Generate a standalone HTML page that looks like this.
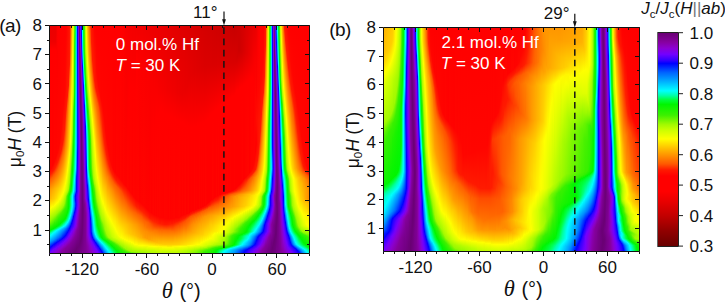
<!DOCTYPE html>
<html><head><meta charset="utf-8"><style>
html,body{margin:0;padding:0;background:#fff}
body{width:725px;height:304px;position:relative;overflow:hidden;font-family:"Liberation Sans",sans-serif}
.h{position:absolute;overflow:hidden}
.h i{position:absolute;top:0;width:1px;height:100%}
#cb{position:absolute;left:658px;top:33px;width:20px;height:213px;background:linear-gradient(#690073 0.00%,#8700a0 4.29%,#8c00d2 7.14%,#7300ff 10.00%,#3200ff 12.86%,#00f 14.29%,#0032ff 16.43%,#0064ff 18.57%,#0096ff 21.43%,#00beff 23.57%,#0ff 27.14%,#0fa 29.29%,#00ff3c 31.43%,#00f500 33.57%,#3cf000 38.57%,#a0fa00 42.86%,#cdff00 45.71%,#ff0 49.71%,#ffc800 53.57%,#ff9600 57.14%,#ff5a00 61.43%,#ff1900 64.29%,#f00 67.14%,#f00 74.29%,#eb0000 78.57%,#c30000 85.71%,#910000 92.86%,#690000 100.00%)}
</style></head><body>
<div class="h" style="left:49px;top:25px;width:261px;height:229px">
<i style="left:0px;background:linear-gradient(#eb0000 0.2%,#ef0000 7.2%,#f00 10.7%,#ff0400 64.0%,#ff1d00 65.7%,#ff5a00 67.9%,#ff9700 71.8%,#ffb200 75.8%,#fffd00 80.1%,#abfb00 84.5%,#97f900 85.8%,#4ef200 87.6%,#2bf100 88.4%,#03f500 89.7%,#00fb25 90.2%,#00ff9f 91.0%,#00ffc7 91.5%,#00fffd 92.4%,#00acff 94.5%,#0062ff 95.9%,#000dff 97.2%,#0b00ff 97.6%,#4200ff 98.5%,#7300fe 99.8%)"></i>
<i style="left:1px;background:linear-gradient(#eb0000 0.2%,#ef0000 7.2%,#f00 10.7%,#ff0200 63.1%,#ff1e00 65.3%,#ff5c00 67.5%,#ff9d00 71.8%,#ffb800 75.8%,#fbff00 80.1%,#abfb00 84.1%,#95f900 85.4%,#53f200 87.1%,#31f100 88.0%,#09f400 89.3%,#00f70f 89.7%,#00ff3f 90.2%,#0f8 90.6%,#00ffbd 91.0%,#00fffa 91.9%,#00b1ff 94.1%,#006bff 95.4%,#01f 96.7%,#0600ff 97.2%,#5300ff 98.5%,#7400fd 99.3%,#7800f6 99.8%)"></i>
<i style="left:2px;background:linear-gradient(#eb0000 0.2%,#ef0000 7.2%,#f00 10.7%,#ff0500 62.7%,#ff2000 64.8%,#ff5e00 67.0%,#ffa300 71.8%,#ffbd00 75.8%,#ff0 79.7%,#acfb00 83.6%,#93f900 84.9%,#29f200 88.0%,#02f500 89.3%,#00fc2a 89.7%,#00ffaf 90.6%,#00fff7 91.5%,#00e5ff 92.4%,#008cff 94.5%,#0200ff 96.7%,#4f00ff 98.0%,#7400fd 98.9%,#7c00ef 99.8%)"></i>
<i style="left:3px;background:linear-gradient(#eb0000 0.2%,#ef0000 7.2%,#f00 10.7%,#ff0200 61.4%,#ff1700 64.0%,#ff6000 66.6%,#ffa900 71.8%,#ffc900 76.2%,#fffd00 79.3%,#a6fb00 83.6%,#91f800 84.5%,#2df100 87.6%,#07f400 88.9%,#00f814 89.3%,#00ff4c 89.7%,#00ff9b 90.2%,#00ffcf 90.6%,#00fff4 91.0%,#00f5ff 91.5%,#0093ff 94.1%,#0060ff 95.0%,#0003ff 96.3%,#6000ff 98.0%,#7400fe 98.5%,#8000e7 99.8%)"></i>
<i style="left:4px;background:linear-gradient(#eb0000 0.2%,#ef0000 7.2%,#f00 10.7%,#ff0300 60.5%,#ff1900 63.5%,#ff5b00 65.7%,#ffaf00 71.8%,#ffc900 75.8%,#faff00 79.3%,#9ffa00 83.6%,#2ff100 87.1%,#00f500 88.9%,#00fd2f 89.3%,#00ff7e 89.7%,#00ffc1 90.2%,#0fe 90.6%,#00f6ff 91.0%,#0098ff 93.7%,#006aff 94.5%,#0008ff 95.9%,#2f00ff 96.7%,#7100ff 98.0%,#8500df 99.8%)"></i>
<i style="left:5px;background:linear-gradient(#eb0000 0.2%,#ef0000 7.2%,#f00 10.7%,#ff0500 59.6%,#ff2000 63.1%,#ff5e00 65.3%,#ffb200 71.4%,#ffcf00 75.8%,#fcff00 78.8%,#a0fa00 83.2%,#3af000 86.2%,#05f500 88.4%,#00f91a 88.9%,#00ff58 89.3%,#00ffae 89.7%,#00ffe5 90.2%,#00f8ff 90.6%,#08f 93.7%,#0054ff 94.5%,#0010ff 95.4%,#0e00ff 95.9%,#6a00ff 97.6%,#7d00ec 98.5%,#8900d7 99.8%)"></i>
<i style="left:6px;background:linear-gradient(#eb0000 0.2%,#ef0000 7.2%,#f00 10.7%,#ff0400 58.3%,#ff1f00 62.2%,#ff6100 64.8%,#ffb800 71.4%,#ffd700 75.8%,#feff00 78.4%,#a0fa00 82.8%,#55f300 84.9%,#1ff200 87.1%,#09f400 88.0%,#00f609 88.4%,#00fe36 88.9%,#00ff8a 89.3%,#00ffd4 89.7%,#00fbff 90.2%,#008cff 93.2%,#005fff 94.1%,#001aff 95.0%,#0700ff 95.4%,#4e00ff 96.7%,#7500fb 97.6%,#8b00d5 99.3%,#8c00cf 99.8%)"></i>
<i style="left:7px;background:linear-gradient(#f10000 0.2%,#f60000 7.6%,#f00 11.6%,#ff0400 57.0%,#ff1900 60.9%,#ff6500 64.4%,#ffbe00 71.4%,#ffd900 75.3%,#feff00 77.9%,#a1fa00 82.3%,#5ff300 84.1%,#2af100 86.2%,#01f500 88.0%,#00fb23 88.4%,#00ff62 88.9%,#00ffb8 89.3%,#00fffa 89.7%,#0bf 91.5%,#007cff 93.2%,#0048ff 94.1%,#0003ff 95.0%,#3700ff 95.9%,#7200ff 97.2%,#8c00d3 98.9%,#8b00c6 99.8%)"></i>
<i style="left:8px;background:linear-gradient(#fc0000 0.2%,#ff0500 55.7%,#ff1c00 60.0%,#ff6400 63.5%,#ffc400 71.4%,#ffe700 75.8%,#fdff00 77.5%,#a1fa00 81.9%,#5bf300 83.6%,#32f100 85.4%,#05f500 87.6%,#00f815 88.0%,#00ff3e 88.4%,#00ffe0 89.3%,#00f0ff 89.7%,#00acff 91.5%,#006bff 93.2%,#000fff 94.5%,#1400ff 95.0%,#30f 95.4%,#6b00ff 96.7%,#8c00d2 98.5%,#8a00bd 99.8%)"></i>
<i style="left:9px;background:linear-gradient(#f00 0.2%,#ff0500 53.9%,#ff1900 58.7%,#ff6000 62.2%,#ffca00 71.4%,#fff500 76.2%,#fcff00 77.1%,#a2fa00 81.4%,#58f300 83.2%,#37f000 84.5%,#07f400 87.1%,#00f70b 87.6%,#00fd2e 88.0%,#00ff6e 88.4%,#00ffbf 88.9%,#00fbff 89.3%,#00caff 90.2%,#006eff 92.8%,#003bff 93.7%,#0900ff 94.5%,#2c00ff 95.0%,#7600fa 96.7%,#8c00d2 98.0%,#8900b5 99.8%)"></i>
<i style="left:10px;background:linear-gradient(#f00 0.2%,#ff0500 51.7%,#ff1900 57.4%,#ff5f00 60.9%,#ffd600 71.8%,#fffc00 76.2%,#a2fa00 81.0%,#55f300 82.8%,#35f100 84.1%,#00f605 87.1%,#00fb25 87.6%,#00ff52 88.0%,#00ffe6 88.9%,#00e8ff 89.3%,#00baff 90.2%,#005cff 92.8%,#0004ff 94.1%,#3d00ff 95.0%,#7300ff 96.3%,#8b00d4 97.6%,#8900b1 99.3%,#8800ac 99.8%)"></i>
<i style="left:11px;background:linear-gradient(#f00 0.2%,#ff0500 48.7%,#ff1b00 56.1%,#ff5f00 59.6%,#ffe100 72.3%,#ff0 75.8%,#a1fa00 80.6%,#51f200 82.3%,#32f100 83.6%,#00f500 86.7%,#00ff40 87.6%,#00ffc6 88.4%,#00f8ff 88.9%,#0bf 89.7%,#005cff 92.4%,#000fff 93.7%,#1600ff 94.1%,#3800ff 94.5%,#6f00ff 95.9%,#8b00ca 97.6%,#8800a8 99.3%,#8700a3 99.8%)"></i>
<i style="left:12px;background:linear-gradient(#f00 0.2%,#ff0600 44.8%,#ff1900 54.4%,#ff6100 58.3%,#ffea00 72.3%,#fffe00 74.9%,#a0fa00 80.1%,#4df200 81.9%,#35f100 82.8%,#02f500 86.2%,#00ff3b 87.1%,#00ff6f 87.6%,#00ffeb 88.4%,#00e1ff 88.9%,#0af 89.7%,#0046ff 92.4%,#0017ff 93.2%,#0a00ff 93.7%,#3100ff 94.1%,#6c00ff 95.4%,#8c00cd 97.2%,#80a 98.5%,#85009d 99.8%)"></i>
<i style="left:13px;background:linear-gradient(#f00 0.2%,#ff0600 39.1%,#ff1900 52.2%,#ff6500 57.0%,#ffef00 71.8%,#fffe00 74.0%,#b9fd00 77.9%,#9af900 79.7%,#47f100 81.4%,#2cf100 82.8%,#03f500 85.8%,#00fe38 86.7%,#00ffd3 88.0%,#00f3ff 88.4%,#00aeff 89.3%,#0075ff 90.6%,#001aff 92.8%,#0001ff 93.2%,#2800ff 93.7%,#5800ff 94.5%,#7600f9 95.4%,#8c00d1 96.7%,#8700a0 98.5%,#820098 99.8%)"></i>
<i style="left:14px;background:linear-gradient(#f00 0.2%,#ff0500 34.3%,#ff1f00 50.0%,#f60 55.2%,#fff600 71.4%,#fdff00 73.1%,#b5fc00 77.1%,#a1fa00 78.8%,#3ff000 81.0%,#13f300 84.1%,#03f500 85.4%,#00f916 85.8%,#00fe37 86.2%,#00ff9c 87.1%,#00fff7 88.0%,#00b5ff 88.9%,#0072ff 90.2%,#0005ff 92.8%,#3f00ff 93.7%,#7600fa 95.0%,#8b00d4 96.3%,#87009f 98.0%,#800095 99.8%)"></i>
<i style="left:15px;background:linear-gradient(#f00 0.2%,#ff0600 30.8%,#ff1b00 45.6%,#ff8b00 57.0%,#fffa00 70.5%,#f6ff00 72.3%,#acfb00 76.2%,#99f900 77.9%,#38f000 80.6%,#0bf400 84.1%,#02f500 84.9%,#00fe38 85.8%,#00ff9e 86.7%,#00ffe9 87.6%,#00e7ff 88.0%,#009eff 88.9%,#005cff 90.2%,#0003ff 92.4%,#5200ff 93.7%,#7500fb 94.5%,#8b00c8 96.3%,#8700a0 97.6%,#7e0092 99.8%)"></i>
<i style="left:16px;background:linear-gradient(#f00 0.2%,#ff0800 28.2%,#ff1c00 40.0%,#ff6700 49.6%,#fffe00 69.2%,#daff00 72.7%,#7bf600 77.1%,#53f200 78.8%,#31f100 80.1%,#03f500 84.1%,#00f606 84.5%,#00ff3e 85.4%,#00ffa5 86.2%,#00ffeb 87.1%,#00f0ff 87.6%,#0085ff 88.9%,#0042ff 90.2%,#0200ff 91.9%,#5100ff 93.2%,#7500fb 94.1%,#8b00ca 95.9%,#820099 97.6%,#7c008f 99.8%)"></i>
<i style="left:17px;background:linear-gradient(#ff0200 0.2%,#ff1300 31.2%,#ff1c00 35.2%,#ff5100 39.5%,#ff9c00 53.9%,#fffe00 66.6%,#cf0 72.3%,#a1fa00 74.0%,#6ef500 74.9%,#4df200 76.6%,#01f500 83.2%,#00fd31 84.5%,#00ff53 84.9%,#00ffb0 85.8%,#00fff2 86.7%,#00ecff 87.1%,#006aff 88.9%,#0028ff 90.2%,#0008ff 91.0%,#0d00ff 91.5%,#5200ff 92.8%,#7500fb 93.7%,#8b00ca 95.4%,#83009a 97.2%,#7a008c 99.8%)"></i>
<i style="left:18px;background:linear-gradient(#ff0800 0.2%,#ff1800 30.8%,#ff2400 31.7%,#ff5e00 35.2%,#ff8300 42.6%,#ffae00 53.1%,#ff0 63.5%,#befd00 71.4%,#a9fb00 72.7%,#9cfa00 73.1%,#3ff000 74.5%,#2df100 75.8%,#16f300 79.7%,#01f500 81.9%,#00ff3b 83.6%,#0f7 84.5%,#00ffe0 85.8%,#00fffe 86.2%,#0049ff 88.9%,#000eff 90.2%,#0200ff 90.6%,#3400ff 91.5%,#7600f9 93.2%,#8b00c9 95.0%,#84009b 96.7%,#780089 99.8%)"></i>
<i style="left:19px;background:linear-gradient(#ff0e00 0.2%,#ff1900 26.4%,#ff5f00 30.3%,#ff8f00 36.5%,#ffc800 53.1%,#fdff00 60.0%,#a3fa00 71.4%,#87f700 72.3%,#35f100 73.6%,#12f400 74.9%,#01f500 80.1%,#00fa1e 81.4%,#00ff3b 82.3%,#00ffc0 84.5%,#00fff5 85.4%,#00ecff 85.8%,#0060ff 88.0%,#0026ff 88.9%,#0002ff 89.7%,#3e00ff 91.0%,#6f00ff 92.4%,#8b00d4 94.1%,#84009c 96.3%,#760087 99.3%,#760086 99.8%)"></i>
<i style="left:20px;background:linear-gradient(#ff1500 0.2%,#ff1a00 17.2%,#f60 24.2%,#ffa000 32.1%,#ffc500 44.3%,#ffe600 52.6%,#f9ff00 56.6%,#adfb00 66.6%,#9bfa00 68.8%,#1ff200 73.1%,#00f500 74.0%,#00f919 74.9%,#00fb21 79.3%,#00ff39 80.6%,#00ff93 82.3%,#00fffd 84.5%,#006aff 87.1%,#0015ff 88.4%,#0002ff 88.9%,#5a00ff 91.0%,#7500fc 91.9%,#8c00d1 93.7%,#84009c 95.9%,#750085 98.9%,#740084 99.8%)"></i>
<i style="left:21px;background:linear-gradient(#ff3f00 0.2%,#f60 12.4%,#ffa700 24.7%,#ffea00 43.0%,#fbff00 50.9%,#97f900 63.1%,#52f200 67.5%,#31f100 69.7%,#11f400 72.3%,#06f500 72.7%,#00fb23 73.6%,#00ff5e 74.9%,#00ff64 78.8%,#00ff85 80.1%,#00fcff 83.2%,#009aff 85.4%,#0012ff 87.6%,#0300ff 88.0%,#7400fe 91.0%,#8c00cd 93.2%,#83009a 95.4%,#730082 98.9%,#720081 99.8%)"></i>
<i style="left:22px;background:linear-gradient(#ff9600 0.2%,#ffb400 14.6%,#faff00 35.6%,#c8fe00 50.9%,#96f900 56.6%,#38f000 63.1%,#00f605 70.1%,#00fb25 72.3%,#00fe35 72.7%,#0f9 74.0%,#00ffb0 74.5%,#0fb 75.3%,#00ffbf 78.8%,#00ffe3 80.6%,#00feff 81.4%,#0084ff 84.5%,#0001ff 86.7%,#6200ff 89.7%,#7300ff 90.2%,#8c00d2 92.4%,#820098 95.0%,#71007f 98.9%,#70007e 99.8%)"></i>
<i style="left:23px;background:linear-gradient(#ffdb00 0.2%,#fbff00 17.7%,#d6ff00 32.1%,#98f900 46.9%,#49f100 53.9%,#1ff200 59.2%,#00f502 64.0%,#00ff4f 70.1%,#00ff78 71.8%,#0f8 72.3%,#00ffec 74.0%,#00fffc 74.5%,#00f8ff 76.6%,#00f2ff 79.3%,#00cdff 81.0%,#008cff 82.8%,#0048ff 84.1%,#0300ff 85.4%,#5b00ff 88.9%,#7700f7 89.7%,#8b00ca 91.9%,#810097 94.5%,#6f007b 98.9%,#6e007b 99.8%)"></i>
<i style="left:24px;background:linear-gradient(#d7ff00 0.2%,#a9fb00 29.0%,#9cfa00 31.2%,#4ff200 36.9%,#36f100 40.8%,#00f604 55.2%,#00ff3d 63.5%,#00ffab 68.3%,#00ffdf 71.8%,#00fffc 72.7%,#00b8ff 74.5%,#00adff 75.3%,#00bdff 78.4%,#00a6ff 80.1%,#007bff 81.4%,#0035ff 82.8%,#0100ff 83.6%,#3800ff 85.8%,#5800ff 88.0%,#7300fe 88.9%,#8c00d1 90.6%,#820099 93.7%,#6d0078 98.9%,#6c0078 99.8%)"></i>
<i style="left:25px;background:linear-gradient(#5ef300 0.2%,#38f000 8.5%,#1bf300 27.7%,#00f605 33.8%,#00fd31 47.4%,#00ff47 52.6%,#00ffa5 62.7%,#00ffe2 66.2%,#00fbff 67.9%,#00c7ff 72.3%,#0092ff 73.6%,#0056ff 74.9%,#005bff 75.8%,#007dff 77.9%,#0073ff 79.3%,#004bff 80.6%,#0005ff 81.9%,#3700ff 83.6%,#6f00ff 88.0%,#8c00ce 89.7%,#83009a 92.8%,#6a0075 98.9%,#6a0075 99.8%)"></i>
<i style="left:26px;background:linear-gradient(#00ff3d 0.2%,#0f6 9.4%,#00ff76 26.9%,#00ffae 38.6%,#00ffd5 54.8%,#00fdff 62.7%,#009dff 67.5%,#0078ff 72.3%,#006aff 72.7%,#000dff 74.0%,#0700ff 74.5%,#1000ff 75.3%,#0005ff 76.6%,#0025ff 77.9%,#0018ff 79.3%,#0300ff 80.1%,#4300ff 82.3%,#6700ff 84.5%,#7700f9 87.1%,#8600dc 88.4%,#8900af 90.2%,#800096 92.4%,#6a0074 98.5%,#6a0074 99.8%)"></i>
<i style="left:27px;background:linear-gradient(#00c4ff 0.2%,#00cdff 19.0%,#00ceff 31.7%,#00baff 53.5%,#0090ff 60.0%,#0065ff 63.5%,#0020ff 66.2%,#0010ff 67.9%,#0009ff 72.3%,#0400ff 72.7%,#30f 74.0%,#3f00ff 75.3%,#2b00ff 78.4%,#5200ff 81.0%,#7700f8 83.2%,#8a00d6 87.6%,#8700a1 89.7%,#6a0074 97.6%,#6c0077 99.8%)"></i>
<i style="left:28px;background:linear-gradient(#00f 0.2%,#0008ff 15.5%,#0018ff 28.2%,#001cff 42.1%,#0026ff 51.3%,#0008ff 55.7%,#0800ff 57.9%,#3b00ff 67.0%,#4100ff 72.7%,#6100ff 74.9%,#5e00ff 78.8%,#7400fd 80.6%,#8c00d1 84.1%,#8800af 88.0%,#820098 89.3%,#6b0075 97.2%,#6e007a 99.8%)"></i>
<i style="left:29px;background:linear-gradient(#7e00eb 0.2%,#7500fb 18.1%,#3f00ff 50.0%,#5800ff 59.2%,#6a00ff 69.2%,#6e00ff 72.7%,#7c00f0 74.0%,#8000e7 75.8%,#8100e5 79.3%,#8b00c6 81.9%,#810097 88.0%,#6b0077 96.7%,#70007e 99.8%)"></i>
<i style="left:30px;background:linear-gradient(#6e007a 0.2%,#6b0077 7.2%,#8700a1 29.5%,#8700db 40.8%,#7800f6 50.0%,#8c00d1 65.3%,#8b00cb 72.7%,#8900b2 74.9%,#8a00bc 78.8%,#830099 83.2%,#6b0075 95.9%,#720081 99.3%,#720081 99.8%)"></i>
<i style="left:31px;background:linear-gradient(#6a00ff 0.2%,#7500fb 3.3%,#8b00ca 9.0%,#820098 14.2%,#6a0075 29.9%,#83009a 52.2%,#7f0094 76.6%,#79008c 84.5%,#6a0075 94.5%,#750084 99.3%,#740084 99.8%)"></i>
<i style="left:32px;background:linear-gradient(#0020ff 0.2%,#0300ff 4.6%,#50f 14.2%,#7500fb 17.2%,#8b00ca 21.6%,#820099 27.7%,#690073 47.8%,#720080 65.7%,#740083 76.6%,#720080 84.9%,#6b0076 93.2%,#708 99.3%,#760087 99.8%)"></i>
<i style="left:33px;background:linear-gradient(#00ffec 0.2%,#00fcff 4.6%,#00bdff 10.7%,#0079ff 14.2%,#0037ff 16.4%,#0008ff 17.7%,#0c00ff 18.6%,#3e00ff 21.6%,#7500fb 27.3%,#8b00ca 33.4%,#83009b 41.3%,#6f007c 66.2%,#6b0076 76.2%,#6d0079 91.0%,#79008b 99.3%,#79008a 99.8%)"></i>
<i style="left:34px;background:linear-gradient(#00fa1c 0.2%,#00fe36 7.6%,#00ff50 10.3%,#00ff91 13.3%,#00fbff 17.7%,#0061ff 23.8%,#0009ff 26.4%,#0a00ff 27.3%,#3b00ff 30.8%,#7400fe 38.6%,#8b00ca 48.3%,#820099 62.2%,#708 76.2%,#6f007d 80.1%,#78008a 95.9%,#7b008d 99.8%)"></i>
<i style="left:35px;background:linear-gradient(#4cf200 0.2%,#1af300 13.3%,#00f502 17.2%,#00ff40 20.3%,#00ffb7 23.4%,#00fff9 25.5%,#00d5ff 27.7%,#006dff 32.1%,#0005ff 35.2%,#3b00ff 40.8%,#6b00ff 51.3%,#7900f5 57.9%,#8c00cf 65.3%,#8800a7 71.8%,#8700a1 75.8%,#7a008c 78.8%,#7a008c 86.7%,#7d0091 99.8%)"></i>
<i style="left:36px;background:linear-gradient(#c9ff00 0.2%,#a1fa00 11.6%,#35f100 19.4%,#00f605 26.0%,#00ff39 28.2%,#00ffb2 31.2%,#00fffc 34.3%,#007cff 40.4%,#000eff 43.9%,#00f 44.3%,#2f00ff 50.9%,#5700ff 64.0%,#7500fb 67.5%,#8600dd 71.8%,#8a00d6 75.8%,#8700a4 77.9%,#7f0094 83.2%,#7f0094 99.8%)"></i>
<i style="left:37px;background:linear-gradient(#fff300 0.2%,#f7ff00 6.3%,#c4fe00 16.4%,#98f900 21.2%,#37f000 26.9%,#00f603 32.1%,#00ff4d 35.2%,#00ffae 38.6%,#00feff 43.4%,#009aff 49.1%,#0054ff 55.7%,#000bff 61.8%,#0300ff 63.1%,#2b00ff 67.5%,#5f00ff 71.4%,#6b00ff 75.8%,#7400fe 76.2%,#8b00d3 77.9%,#8800ae 82.3%,#8800ae 85.8%,#8800ae 92.4%,#84009b 96.3%,#810097 99.8%)"></i>
<i style="left:38px;background:linear-gradient(#ffba00 0.2%,#ffda00 9.8%,#faff00 16.4%,#a8fb00 26.9%,#8cf800 28.6%,#37f000 32.5%,#00f500 37.8%,#00ff45 41.7%,#00ff9e 45.6%,#0fc 49.6%,#00fbff 61.4%,#00deff 63.1%,#006dff 67.0%,#003dff 68.8%,#000aff 70.1%,#1000ff 71.0%,#2d00ff 73.1%,#4300ff 76.2%,#7300fe 77.9%,#8b00d3 82.3%,#8c00d2 86.2%,#8c00ce 91.5%,#8800a6 96.3%,#84009c 99.8%)"></i>
<i style="left:39px;background:linear-gradient(#ff8f00 0.2%,#ffb500 12.0%,#ffe500 19.4%,#faff00 23.4%,#b7fd00 30.8%,#95f900 33.4%,#3af000 37.8%,#00f603 43.9%,#00fe38 48.7%,#00ff60 54.4%,#00ff85 61.4%,#00ff9d 63.1%,#00ffe1 65.3%,#00fbff 66.2%,#0060ff 71.8%,#001aff 75.3%,#0200ff 76.2%,#7200ff 81.0%,#7c00ef 84.5%,#7d00ed 91.0%,#8b00d4 93.7%,#8900b5 96.3%,#8700a2 99.8%)"></i>
<i style="left:40px;background:linear-gradient(#ff6a00 0.2%,#ff9400 13.3%,#ffde00 24.7%,#fcff00 28.6%,#98f900 38.6%,#3af000 43.4%,#0bf400 50.0%,#00f608 58.7%,#00fa1f 63.1%,#00ff43 64.8%,#0fb 67.5%,#00fff7 69.2%,#00efff 70.1%,#00c3ff 72.3%,#09f 75.8%,#0058ff 77.9%,#0006ff 80.1%,#3800ff 82.3%,#5100ff 84.5%,#5f00ff 90.6%,#7700f8 92.8%,#8b00cc 95.4%,#8800ac 99.8%)"></i>
<i style="left:41px;background:linear-gradient(#ff3800 0.2%,#ff8e00 18.6%,#ffda00 29.0%,#faff00 33.0%,#9cfa00 43.9%,#4ef200 48.7%,#37f000 51.7%,#16f300 63.5%,#00f501 65.7%,#00ff49 68.3%,#00ffac 70.5%,#00ffd6 72.3%,#00feff 75.8%,#008dff 80.1%,#0006ff 84.5%,#1c00ff 86.2%,#30f 90.6%,#6700ff 93.2%,#7900f4 94.1%,#8c00d2 96.3%,#8900b5 99.8%)"></i>
<i style="left:42px;background:linear-gradient(#ff1600 0.2%,#ff1e00 7.6%,#ffc600 30.8%,#fdff00 36.9%,#6ff500 57.0%,#44f100 63.1%,#00f604 69.2%,#00ff74 73.6%,#00ffdf 78.4%,#00f9ff 79.7%,#008eff 83.6%,#003eff 87.1%,#0024ff 90.2%,#0007ff 91.0%,#2a00ff 92.4%,#7500fc 94.5%,#8a00d6 97.2%,#8a00bf 99.8%)"></i>
<i style="left:43px;background:linear-gradient(#ff0f00 0.2%,#ff1d00 15.1%,#f60 22.5%,#fcff00 41.7%,#bafd00 53.1%,#9bf900 62.2%,#6ef500 65.3%,#37f000 67.9%,#01f500 72.3%,#00ff3e 76.6%,#00ff86 78.8%,#00ffd7 81.0%,#00fffe 82.3%,#00b5ff 85.8%,#007cff 90.2%,#0061ff 91.0%,#0400ff 92.8%,#4700ff 94.1%,#6c00ff 95.0%,#8100e6 96.7%,#8b00c8 99.8%)"></i>
<i style="left:44px;background:linear-gradient(#ff0800 0.2%,#ff1e00 20.3%,#ff6500 26.4%,#ffc500 37.8%,#fdff00 46.5%,#d1ff00 55.7%,#a7fb00 65.7%,#98f900 67.0%,#3bf000 70.1%,#18f300 73.6%,#00f501 77.1%,#00ff39 79.7%,#00ffb1 82.3%,#0fe 84.9%,#00fbff 86.2%,#00bdff 90.2%,#0091ff 91.5%,#0065ff 92.4%,#0400ff 93.7%,#3c00ff 94.5%,#7000ff 95.9%,#8c00d2 99.8%)"></i>
<i style="left:45px;background:linear-gradient(#ff0100 0.2%,#ff1c00 24.2%,#ff6900 29.5%,#ffb400 39.1%,#fdff00 51.7%,#c1fe00 65.7%,#a0fa00 69.2%,#57f300 71.4%,#3af000 73.1%,#02f500 79.7%,#00ff3b 81.9%,#00ff8e 84.1%,#00fffa 89.7%,#00ecff 90.6%,#0089ff 92.8%,#006aff 93.2%,#0012ff 94.1%,#1200ff 94.5%,#3100ff 95.0%,#7300fe 96.7%,#8700db 99.8%)"></i>
<i style="left:46px;background:linear-gradient(#f00 0.2%,#ff1300 23.8%,#ff1c00 27.3%,#ff6000 30.8%,#ff9000 36.9%,#fffe00 57.0%,#caff00 67.9%,#96f900 71.4%,#6cf500 74.0%,#34f100 77.5%,#00f503 81.9%,#00fe35 84.1%,#00ff7e 87.6%,#00ffc4 89.7%,#0ff 91.5%,#00bcff 92.8%,#007cff 93.7%,#0400ff 95.0%,#3900ff 95.9%,#7500fc 97.6%,#8200e3 99.8%)"></i>
<i style="left:47px;background:linear-gradient(#f00 0.2%,#ff0700 20.3%,#ff1900 29.0%,#ff5d00 32.5%,#ff8900 39.1%,#fcff00 63.1%,#ceff00 69.7%,#a8fb00 73.1%,#95f900 75.3%,#36f100 79.7%,#00f502 84.1%,#00fd2d 87.6%,#00ff4a 88.4%,#00ffdf 91.9%,#00fff7 92.4%,#00edff 92.8%,#0061ff 94.5%,#000cff 95.4%,#1200ff 95.9%,#4100ff 96.7%,#7100ff 98.0%,#7e00ec 99.8%)"></i>
<i style="left:48px;background:linear-gradient(#f00 0.2%,#ff0600 23.8%,#ff1a00 30.8%,#ff5b00 34.3%,#ff8d00 43.9%,#fcff00 66.6%,#a1fa00 77.1%,#38f000 81.4%,#0df400 85.4%,#02f500 87.6%,#00fb25 88.9%,#00ff53 90.2%,#00ff90 91.5%,#00ffde 92.8%,#00fbff 93.2%,#001eff 95.9%,#0500ff 96.3%,#3800ff 97.2%,#7300fe 98.9%,#7900f4 99.8%)"></i>
<i style="left:49px;background:linear-gradient(#f00 0.2%,#ff0500 26.9%,#ff1d00 32.5%,#ff5400 36.0%,#ffe500 64.4%,#fcff00 69.2%,#a8fb00 78.4%,#93f900 79.7%,#39f000 83.2%,#02f500 88.9%,#00fe39 91.0%,#0f6 91.9%,#00ffd0 93.2%,#00fffc 93.7%,#0009ff 96.7%,#2f00ff 97.6%,#7400fd 99.8%)"></i>
<i style="left:50px;background:linear-gradient(#f00 0.2%,#ff0500 29.0%,#ff1e00 34.3%,#ff4c00 38.2%,#ffda00 65.3%,#fbff00 71.4%,#b6fc00 78.8%,#98f900 81.4%,#3bf000 84.9%,#01f500 90.2%,#00fd2e 91.9%,#00ff40 92.4%,#00ff65 92.8%,#00fffa 94.1%,#007fff 95.9%,#0016ff 97.2%,#0a00ff 97.6%,#3800ff 98.5%,#6000ff 99.8%)"></i>
<i style="left:51px;background:linear-gradient(#f00 0.2%,#ff0500 31.2%,#ff2000 36.5%,#ff5d00 45.2%,#ffd700 67.0%,#fcff00 73.6%,#a1fa00 82.8%,#40f000 86.2%,#02f500 91.5%,#00f918 92.4%,#00fd2d 92.8%,#00ff58 93.2%,#00ffcd 94.1%,#00fffb 94.5%,#0047ff 97.2%,#0002ff 98.0%,#3b00ff 99.3%,#4800ff 99.8%)"></i>
<i style="left:52px;background:linear-gradient(#f00 0.2%,#ff0400 33.0%,#ff2500 40.4%,#fd0 69.7%,#faff00 75.8%,#9dfa00 84.5%,#58f300 86.7%,#24f200 90.2%,#06f500 92.4%,#00f608 92.8%,#00fc27 93.2%,#00ff59 93.7%,#00ff9d 94.1%,#00fffb 95.0%,#0054ff 97.6%,#0013ff 98.5%,#0700ff 98.9%,#2f00ff 99.8%)"></i>
<i style="left:53px;background:linear-gradient(#f00 0.2%,#ff0500 35.2%,#ff2300 44.8%,#ff7400 56.1%,#fcff00 77.1%,#a2fa00 85.4%,#6ff500 87.1%,#30f100 90.6%,#0df400 92.8%,#00f603 93.2%,#00fc2a 93.7%,#00ff63 94.1%,#00ffa5 94.5%,#00fffa 95.4%,#000cff 99.3%,#0900ff 99.8%)"></i>
<i style="left:54px;background:linear-gradient(#f00 0.2%,#ff0400 37.8%,#ff2000 48.7%,#ff6900 57.0%,#fffd00 77.9%,#a3fa00 86.2%,#47f100 90.6%,#1cf300 92.8%,#00f608 93.7%,#00fd31 94.1%,#00ffac 95.0%,#00fff5 95.9%,#00d0ff 96.7%,#0023ff 99.8%)"></i>
<i style="left:55px;background:linear-gradient(#f00 0.2%,#ff0500 41.7%,#ff1f00 51.7%,#ff6800 59.2%,#ffc800 71.4%,#faff00 79.7%,#90f800 88.9%,#51f200 91.5%,#1df300 93.2%,#0bf400 93.7%,#00f811 94.1%,#00ff3a 94.5%,#00ffae 95.4%,#00fff1 96.3%,#00f0ff 96.7%,#007cff 98.9%,#0053ff 99.8%)"></i>
<i style="left:56px;background:linear-gradient(#f00 0.2%,#ff0500 46.1%,#ff1e00 54.4%,#f60 60.9%,#ffba00 70.5%,#fdff00 80.6%,#aafb00 88.0%,#a0fa00 89.7%,#63f400 91.9%,#06f400 94.1%,#00fa1c 94.5%,#00ff46 95.0%,#00ff7f 95.4%,#00ffad 95.9%,#0fe 96.7%,#00f4ff 97.2%,#009eff 98.9%,#007bff 99.8%)"></i>
<i style="left:57px;background:linear-gradient(#f00 0.2%,#ff0500 49.6%,#ff1c00 56.6%,#f60 62.7%,#fa0 69.7%,#ffe300 77.9%,#f9ff00 81.9%,#b2fc00 88.4%,#a0fa00 91.0%,#71f500 92.4%,#29f200 93.7%,#01f500 94.5%,#00ff4e 95.4%,#00ffab 96.3%,#00ffea 97.2%,#00f9ff 97.6%,#00acff 99.3%,#009dff 99.8%)"></i>
<i style="left:58px;background:linear-gradient(#f00 0.2%,#ff0400 52.2%,#ff1e00 58.7%,#ff8500 66.6%,#fb0 73.6%,#faff00 82.8%,#bafd00 88.9%,#a1fa00 91.9%,#7bf600 92.8%,#37f000 93.7%,#0ef400 94.5%,#00f709 95.0%,#00ff50 95.9%,#0fa 96.7%,#0ff 98.0%,#0bf 99.8%)"></i>
<i style="left:59px;background:linear-gradient(#f00 0.2%,#ff0400 54.8%,#ff1e00 60.5%,#ff7400 66.2%,#ffac00 72.3%,#ffe500 80.1%,#faff00 83.6%,#c7fe00 88.4%,#a5fb00 92.4%,#9af900 92.8%,#30f100 94.1%,#08f400 95.0%,#00f810 95.4%,#00ff51 96.3%,#00ffa8 97.2%,#00fff5 98.5%,#00e7ff 99.3%,#00d9ff 99.8%)"></i>
<i style="left:60px;background:linear-gradient(#f00 0.2%,#ff0400 57.0%,#ff1a00 61.8%,#ff6700 66.2%,#ffa100 71.8%,#ffe500 81.0%,#faff00 84.5%,#d1ff00 88.4%,#a7fb00 92.8%,#96f900 93.2%,#40f000 94.1%,#05f500 95.4%,#00fd2f 96.3%,#00ffa5 97.6%,#00ffea 98.9%,#00fffa 99.3%,#00f6ff 99.8%)"></i>
<i style="left:61px;background:linear-gradient(#f00 0.2%,#ff0500 59.2%,#ff1900 63.1%,#ff6100 66.6%,#ff9800 71.8%,#ffe500 81.9%,#ff0 84.9%,#d7ff00 88.9%,#affc00 92.8%,#a5fb00 93.2%,#88f800 93.7%,#36f100 94.5%,#03f500 95.9%,#00fd30 96.7%,#00ff9f 98.0%,#0fc 98.9%,#00ffeb 99.8%)"></i>
<i style="left:62px;background:linear-gradient(#f00 0.2%,#ff0500 60.9%,#ff1f00 64.4%,#ff6100 67.5%,#ff9100 71.8%,#ffea00 83.2%,#fdff00 85.8%,#bffd00 92.4%,#a1fa00 93.7%,#49f100 94.5%,#1cf300 95.4%,#01f500 96.3%,#00fd31 97.2%,#00ff96 98.5%,#00ffc0 99.3%,#00ffce 99.8%)"></i>
<i style="left:63px;background:linear-gradient(#f00 0.2%,#ff0400 62.2%,#ff1e00 65.3%,#ff6200 68.3%,#ff8d00 72.3%,#ffeb00 84.1%,#fbff00 86.7%,#c8fe00 92.4%,#a9fb00 93.7%,#91f900 94.1%,#3af000 95.0%,#00f501 96.7%,#00ff4e 98.0%,#00ffa0 99.3%,#00ffb2 99.8%)"></i>
<i style="left:64px;background:linear-gradient(#f00 0.2%,#ff0200 63.1%,#ff2000 66.2%,#ff5e00 68.8%,#ff8900 72.7%,#ffe800 84.5%,#faff00 87.6%,#c9ff00 92.8%,#a4fa00 94.1%,#51f200 95.0%,#34f100 95.4%,#00f603 97.2%,#00ff8f 99.8%)"></i>
<i style="left:65px;background:linear-gradient(#f00 0.2%,#ff0300 64.0%,#ff1900 66.6%,#ff6200 69.7%,#ff8b00 74.0%,#ffeb00 85.4%,#fbff00 88.4%,#d1ff00 92.8%,#abfb00 94.1%,#96f900 94.5%,#44f100 95.4%,#09f400 97.2%,#00f604 97.6%,#00ff6a 99.8%)"></i>
<i style="left:66px;background:linear-gradient(#f00 0.2%,#ff0100 64.4%,#ff1c00 67.5%,#ff6000 70.1%,#ff8a00 74.9%,#ffea00 85.8%,#fcff00 89.3%,#d8ff00 92.8%,#a5fb00 94.5%,#3cf000 95.9%,#00f604 98.0%,#00ff45 99.8%)"></i>
<i style="left:67px;background:linear-gradient(#f00 0.2%,#ff0400 65.3%,#ff1800 67.9%,#ff5d00 70.5%,#ffdf00 85.4%,#fcff00 90.2%,#d5ff00 93.2%,#9af900 95.0%,#51f200 95.9%,#39f000 96.3%,#00f502 98.5%,#00fc2d 99.8%)"></i>
<i style="left:68px;background:linear-gradient(#f00 0.2%,#ff0300 65.7%,#ff2000 68.8%,#ff5b00 71.0%,#ffde00 85.8%,#fbff00 91.0%,#dcff00 93.2%,#a6fb00 95.0%,#4bf200 96.3%,#29f200 97.2%,#01f500 98.9%,#00f918 99.8%)"></i>
<i style="left:69px;background:linear-gradient(#f00 0.2%,#ff0300 66.2%,#ff1f00 69.2%,#ff5900 71.4%,#ffec00 88.4%,#f9ff00 91.9%,#d7ff00 93.7%,#a0fa00 95.4%,#46f100 96.7%,#11f400 98.5%,#00f604 99.8%)"></i>
<i style="left:70px;background:linear-gradient(#f00 0.2%,#ff0200 66.6%,#ff1e00 69.7%,#f50 71.8%,#ffe700 88.4%,#faff00 92.4%,#d1ff00 94.1%,#94f900 95.9%,#41f100 97.2%,#11f400 98.9%,#03f500 99.8%)"></i>
<i style="left:71px;background:linear-gradient(#f00 0.2%,#ff0500 67.5%,#ff1d00 70.1%,#ff5100 72.3%,#ffe100 88.4%,#faff00 92.8%,#a3fa00 95.9%,#3cf000 97.6%,#08f400 99.8%)"></i>
<i style="left:72px;background:linear-gradient(#f00 0.2%,#ff0300 67.9%,#ff1d00 70.5%,#ff4d00 72.7%,#ffd900 88.0%,#fffe00 92.8%,#a0fa00 96.3%,#39f000 98.0%,#0cf400 99.8%)"></i>
<i style="left:73px;background:linear-gradient(#fe0000 0.2%,#ff0200 68.3%,#ff1d00 71.0%,#ff4f00 73.6%,#ffd100 87.6%,#fdff00 93.2%,#9bf900 96.7%,#49f100 98.0%,#1bf300 99.3%,#10f400 99.8%)"></i>
<i style="left:74px;background:linear-gradient(#fd0000 0.2%,#ff0400 69.2%,#ff1c00 71.4%,#ff5700 74.9%,#ffca00 87.1%,#fe0 91.9%,#fffd00 93.2%,#94f900 97.2%,#41f000 98.5%,#14f300 99.8%)"></i>
<i style="left:75px;background:linear-gradient(#fc0000 0.2%,#ff0300 69.7%,#ff2300 72.3%,#ff6200 76.6%,#ffc600 87.1%,#ffe500 91.5%,#fdff00 93.7%,#aafb00 96.7%,#a2fa00 97.2%,#38f000 98.9%,#19f300 99.8%)"></i>
<i style="left:76px;background:linear-gradient(#fa0000 0.2%,#ff0200 70.1%,#ff2800 73.1%,#ff6400 77.5%,#ffc300 87.1%,#ffdb00 91.0%,#fffc00 93.7%,#a7fb00 97.2%,#a0fa00 97.6%,#44f100 98.9%,#1df300 99.8%)"></i>
<i style="left:77px;background:linear-gradient(#f90000 0.2%,#ff0200 70.5%,#ff2b00 74.0%,#ff6200 77.9%,#ffbf00 87.1%,#ffd700 91.0%,#fcff00 94.1%,#95f900 98.0%,#33f100 99.3%,#21f200 99.8%)"></i>
<i style="left:78px;background:linear-gradient(#f80000 0.2%,#f00 41.7%,#ff0500 71.4%,#ff2800 74.5%,#ff6400 78.8%,#fb0 87.1%,#ffd200 91.0%,#fffd00 94.1%,#a7fb00 97.6%,#a1fa00 98.0%,#63f400 98.9%,#39f000 99.3%,#26f200 99.8%)"></i>
<i style="left:79px;background:linear-gradient(#f70000 0.2%,#f00 31.7%,#ff0400 71.8%,#ff2c00 75.3%,#ff6d00 80.1%,#ffb700 87.1%,#ffcd00 91.0%,#faff00 94.5%,#98f900 98.5%,#73f500 98.9%,#42f100 99.3%,#2af200 99.8%)"></i>
<i style="left:80px;background:linear-gradient(#f60000 0.2%,#f00 28.2%,#ff0200 72.3%,#ff2900 75.8%,#ff7800 81.4%,#ffb300 87.1%,#ffc900 91.0%,#fffe00 94.5%,#a6fb00 98.0%,#a1fa00 98.5%,#82f700 98.9%,#4ef200 99.3%,#2ef100 99.8%)"></i>
<i style="left:81px;background:linear-gradient(#f50000 0.2%,#f00 26.9%,#ff0500 73.1%,#ff2600 76.2%,#ff7800 81.9%,#ffb000 87.1%,#ffcb00 91.5%,#fffb00 94.5%,#cbff00 96.7%,#a9fb00 98.0%,#a3fa00 98.5%,#91f900 98.9%,#5af300 99.3%,#32f100 99.8%)"></i>
<i style="left:82px;background:linear-gradient(#f50000 0.2%,#f00 27.7%,#ff0400 73.6%,#ff2a00 77.1%,#ff7300 81.9%,#ffac00 87.1%,#ffc700 91.5%,#ff0 95.0%,#abfb00 98.0%,#9dfa00 98.9%,#37f000 99.8%)"></i>
<i style="left:83px;background:linear-gradient(#f40000 0.2%,#f00 27.7%,#ff0200 74.0%,#ff2700 77.5%,#ff6e00 81.9%,#ffa800 87.1%,#ffc300 91.5%,#fffc00 95.0%,#d5ff00 96.7%,#a6fb00 98.5%,#a0fa00 98.9%,#3bf000 99.8%)"></i>
<i style="left:84px;background:linear-gradient(#f40000 0.2%,#f00 27.7%,#ff0500 74.9%,#ff2b00 78.4%,#ff6900 81.9%,#ffa400 87.1%,#ffc000 91.5%,#feff00 95.4%,#a8fb00 98.5%,#a1fa00 98.9%,#7df700 99.3%,#42f100 99.8%)"></i>
<i style="left:85px;background:linear-gradient(#f40000 0.2%,#f00 28.6%,#ff0400 75.3%,#ff2900 78.8%,#ff6500 81.9%,#ffa000 87.1%,#ffc200 91.9%,#faff00 95.9%,#aafb00 98.5%,#a2fa00 98.9%,#88f800 99.3%,#4af100 99.8%)"></i>
<i style="left:86px;background:linear-gradient(#f30000 0.2%,#f00 28.6%,#ff0300 75.8%,#ff1f00 78.8%,#ff6000 81.9%,#ff9d00 87.1%,#ffbd00 91.9%,#feff00 95.9%,#abfb00 98.5%,#a4fa00 98.9%,#8bf800 99.3%,#53f200 99.8%)"></i>
<i style="left:87px;background:linear-gradient(#f30000 0.2%,#f00 16.8%,#ff0400 76.2%,#ff1e00 79.3%,#ff6100 82.3%,#f90 87.1%,#ffb900 91.9%,#fffe00 95.9%,#d7ff00 97.2%,#adfb00 98.5%,#a5fb00 98.9%,#8ef800 99.3%,#5bf300 99.8%)"></i>
<i style="left:88px;background:linear-gradient(#f20000 0.2%,#fe0000 16.8%,#ff0400 76.6%,#ff2000 79.7%,#ff6200 82.8%,#ff9500 87.1%,#ffba00 92.4%,#fffb00 95.9%,#ebff00 96.7%,#affc00 98.5%,#a6fb00 98.9%,#91f900 99.3%,#63f400 99.8%)"></i>
<i style="left:89px;background:linear-gradient(#f20000 0.2%,#fd0000 17.2%,#ff0500 77.1%,#f20 80.1%,#ff5e00 82.8%,#ff9000 87.1%,#ffb600 92.4%,#faff00 96.3%,#b1fc00 98.5%,#a8fb00 98.9%,#94f900 99.3%,#6af500 99.8%)"></i>
<i style="left:90px;background:linear-gradient(#f20000 0.2%,#fd0000 17.7%,#ff0100 77.1%,#ff1a00 80.1%,#ff5e00 83.2%,#ff8b00 87.1%,#ffb700 92.8%,#fcff00 96.3%,#97f900 99.3%,#70f500 99.8%)"></i>
<i style="left:91px;background:linear-gradient(#f10000 0.2%,#fd0000 18.1%,#ff0200 77.5%,#ff1c00 80.6%,#ff5a00 83.2%,#ff8600 87.1%,#ff9f00 90.6%,#ffb200 92.8%,#fdff00 96.3%,#9bf900 99.3%,#75f600 99.8%)"></i>
<i style="left:92px;background:linear-gradient(#f10000 0.2%,#fc0000 18.1%,#ff0300 77.9%,#ff1e00 81.0%,#ff5b00 83.6%,#ff8200 87.1%,#ff9000 88.9%,#ff9e00 91.0%,#ffb600 93.2%,#feff00 96.3%,#9efa00 99.3%,#7bf600 99.8%)"></i>
<i style="left:93px;background:linear-gradient(#f10000 0.2%,#fc0000 18.6%,#ff0300 78.4%,#ff2000 81.4%,#ff5a00 84.1%,#ff7d00 87.1%,#ff8c00 88.9%,#ff9800 90.6%,#ffa800 92.8%,#ff0 96.3%,#a0fa00 99.3%,#80f700 99.8%)"></i>
<i style="left:94px;background:linear-gradient(#f00000 0.2%,#fc0000 19.0%,#ff0400 78.8%,#ff2100 81.9%,#ff5e00 84.9%,#ff7800 87.1%,#f80 88.9%,#ff9500 90.6%,#ffa300 92.8%,#fffd00 96.3%,#a2fa00 99.3%,#86f700 99.8%)"></i>
<i style="left:95px;background:linear-gradient(#f00000 0.2%,#fc0000 19.4%,#ff0400 79.3%,#f20 82.3%,#ff6000 85.4%,#ff7400 87.6%,#ff9200 90.2%,#ff9e00 92.8%,#fffc00 96.3%,#a4fa00 99.3%,#8bf800 99.8%)"></i>
<i style="left:96px;background:linear-gradient(#f00000 0.2%,#fb0000 19.9%,#ff0300 79.7%,#f20 82.8%,#ff6200 85.8%,#ff8000 88.9%,#ff9100 90.6%,#f90 92.8%,#fffa00 96.3%,#a6fb00 99.3%,#91f800 99.8%)"></i>
<i style="left:97px;background:linear-gradient(#ef0000 0.2%,#fb0000 20.3%,#ff0200 80.1%,#f20 83.2%,#ff6300 86.2%,#ff7400 88.4%,#ff8d00 90.2%,#ff9e00 93.2%,#fff800 96.3%,#d8ff00 97.6%,#96f900 99.8%)"></i>
<i style="left:98px;background:linear-gradient(#ef0000 0.2%,#fb0000 20.7%,#ff0200 80.6%,#f20 83.6%,#ff5e00 86.2%,#ff7000 88.4%,#ff8b00 90.2%,#ff9a00 93.2%,#fff700 96.3%,#e8ff00 97.2%,#9cfa00 99.8%)"></i>
<i style="left:99px;background:linear-gradient(#ef0000 0.2%,#fb0000 21.2%,#ff0200 81.0%,#f20 84.1%,#ff5900 86.2%,#ff6d00 88.4%,#ff8b00 90.6%,#ffa200 93.7%,#fff500 96.3%,#f8ff00 96.7%,#b5fc00 98.9%,#a1fa00 99.8%)"></i>
<i style="left:100px;background:linear-gradient(#e00 0.2%,#fa0000 21.2%,#f00 68.8%,#ff0300 81.4%,#ff1900 84.1%,#ff5900 86.7%,#ff6900 88.4%,#ff8900 90.6%,#ffa100 93.7%,#fff300 96.3%,#f9ff00 96.7%,#b6fc00 98.9%,#a4fa00 99.8%)"></i>
<i style="left:101px;background:linear-gradient(#e00 0.2%,#f90000 21.6%,#f00 54.4%,#ff0400 81.9%,#ff1a00 84.5%,#ff5100 86.7%,#ff6f00 88.9%,#ff8b00 91.0%,#ffa100 93.7%,#faff00 96.7%,#b7fd00 98.9%,#a6fb00 99.8%)"></i>
<i style="left:102px;background:linear-gradient(#e00 0.2%,#f90000 22.1%,#f00 48.7%,#ff0100 81.9%,#ff1e00 84.9%,#ff4f00 87.1%,#ff8600 90.6%,#ffa900 94.1%,#fbff00 96.7%,#c1fe00 98.5%,#a9fb00 99.8%)"></i>
<i style="left:103px;background:linear-gradient(#ed0000 0.2%,#f90000 22.5%,#f00 45.2%,#ff0300 82.3%,#ff2100 85.4%,#ff4800 87.1%,#ff8400 90.6%,#ffa900 94.1%,#fe0 96.3%,#fcff00 96.7%,#c2fe00 98.5%,#abfb00 99.8%)"></i>
<i style="left:104px;background:linear-gradient(#ed0000 0.2%,#f80000 22.9%,#f00 41.7%,#ff0500 82.8%,#ff2500 85.8%,#ff7e00 90.2%,#ffb200 94.5%,#ffec00 96.3%,#feff00 96.7%,#c3fe00 98.5%,#aefc00 99.8%)"></i>
<i style="left:105px;background:linear-gradient(#ed0000 0.2%,#f90000 23.8%,#f00 45.2%,#ff0200 82.8%,#ff2000 85.8%,#ff4c00 88.0%,#ff7500 89.7%,#ffb200 94.5%,#ffea00 96.3%,#ff0 96.7%,#c4fe00 98.5%,#b0fc00 99.8%)"></i>
<i style="left:106px;background:linear-gradient(#ec0000 0.2%,#f80000 24.2%,#f00 41.3%,#ff0500 83.2%,#ff2400 86.2%,#ff4900 88.0%,#ff7300 89.7%,#ffb200 94.5%,#ffd600 95.9%,#fffd00 96.7%,#befd00 98.9%,#b3fc00 99.8%)"></i>
<i style="left:107px;background:linear-gradient(#ec0000 0.2%,#f80000 24.7%,#f00 39.1%,#ff0200 83.2%,#ff1f00 86.2%,#ff4600 88.0%,#ff7100 89.7%,#ffbc00 95.0%,#ffe700 96.3%,#fffc00 96.7%,#c0fe00 98.9%,#b6fc00 99.8%)"></i>
<i style="left:108px;background:linear-gradient(#ec0000 0.2%,#f80000 25.5%,#f00 39.5%,#ff0500 83.6%,#ff2400 86.7%,#ff6f00 89.7%,#fb0 95.0%,#ffe500 96.3%,#fffa00 96.7%,#c2fe00 98.9%,#b7fd00 99.8%)"></i>
<i style="left:109px;background:linear-gradient(#eb0000 0.2%,#f70000 26.4%,#f00 39.1%,#ff0300 83.6%,#ff2000 86.7%,#ff6500 89.3%,#ffc500 95.4%,#fff800 96.7%,#cdff00 98.5%,#b7fd00 99.8%)"></i>
<i style="left:110px;background:linear-gradient(#eb0000 0.2%,#f70000 26.9%,#f00 38.2%,#ff0500 84.1%,#ff1c00 86.7%,#ff6200 89.3%,#ffc400 95.4%,#ffe200 96.3%,#fff700 96.7%,#e7ff00 97.6%,#bdfd00 99.3%,#b7fd00 99.8%)"></i>
<i style="left:111px;background:linear-gradient(#eb0000 0.2%,#f60000 27.3%,#f00 37.3%,#ff0400 84.1%,#ff1900 86.7%,#ff6a00 89.7%,#ffc300 95.4%,#ffe100 96.3%,#fff600 96.7%,#e7ff00 97.6%,#b8fd00 99.8%)"></i>
<i style="left:112px;background:linear-gradient(#ea0000 0.2%,#f60000 27.7%,#f00 37.3%,#ff0300 84.1%,#ff2000 87.1%,#ff6100 89.3%,#ffc300 95.4%,#ffe000 96.3%,#fff500 96.7%,#e8ff00 97.6%,#b8fd00 99.8%)"></i>
<i style="left:113px;background:linear-gradient(#ea0000 0.2%,#f50000 27.7%,#f00 37.8%,#ff0300 84.1%,#ff1d00 87.1%,#ff6000 89.3%,#ffcd00 95.9%,#fff500 96.7%,#f7ff00 97.2%,#c7fe00 98.9%,#b8fd00 99.8%)"></i>
<i style="left:114px;background:linear-gradient(#e90000 0.2%,#f50000 27.7%,#f00 38.2%,#ff0200 84.1%,#ff1a00 87.1%,#ff6800 89.7%,#ffcd00 95.9%,#fff400 96.7%,#f7ff00 97.2%,#c7fe00 98.9%,#b8fd00 99.8%)"></i>
<i style="left:115px;background:linear-gradient(#e90000 0.2%,#f40000 27.7%,#f00 38.6%,#ff0500 84.5%,#ff1800 87.1%,#ff6800 89.7%,#fc0 95.9%,#fff400 96.7%,#f7ff00 97.2%,#c7fe00 98.9%,#b8fd00 99.8%)"></i>
<i style="left:116px;background:linear-gradient(#e80000 0.2%,#f40000 28.2%,#f00 39.1%,#ff0400 84.5%,#ff1700 87.1%,#ff6700 89.7%,#fc0 95.9%,#fff300 96.7%,#f7ff00 97.2%,#c7fe00 98.9%,#b8fd00 99.8%)"></i>
<i style="left:117px;background:linear-gradient(#e80000 0.2%,#f30000 28.2%,#f00 39.1%,#ff0400 84.5%,#ff1700 87.1%,#ff3d00 88.4%,#ff6700 89.7%,#fc0 95.9%,#fff300 96.7%,#f8ff00 97.2%,#c7fe00 98.9%,#b8fd00 99.8%)"></i>
<i style="left:118px;background:linear-gradient(#e70000 0.2%,#f20000 28.2%,#f00 39.5%,#ff0300 84.5%,#ff1800 87.1%,#f60 89.7%,#fc0 95.9%,#f8ff00 97.2%,#c7fe00 98.9%,#b8fd00 99.8%)"></i>
<i style="left:119px;background:linear-gradient(#e70000 0.2%,#f20000 28.6%,#f00 39.5%,#ff0200 84.5%,#ff1a00 87.1%,#f60 89.7%,#fc0 95.9%,#f8ff00 97.2%,#c7fe00 98.9%,#b8fd00 99.8%)"></i>
<i style="left:120px;background:linear-gradient(#e60000 0.2%,#f20000 28.6%,#f00 39.5%,#ff0500 84.9%,#ff1d00 87.1%,#ff6700 89.7%,#fc0 95.9%,#f8ff00 97.2%,#c7fe00 98.9%,#b8fd00 99.8%)"></i>
<i style="left:121px;background:linear-gradient(#e60000 0.2%,#f10000 28.6%,#f00 40.0%,#ff0200 84.5%,#ff1f00 87.1%,#ff6700 89.7%,#fc0 95.9%,#f8ff00 97.2%,#c7fe00 98.9%,#b8fd00 99.8%)"></i>
<i style="left:122px;background:linear-gradient(#e50000 0.2%,#f10000 29.0%,#f00 40.4%,#ff0300 84.5%,#ff1800 86.7%,#ff7000 90.2%,#fc0 95.9%,#f8ff00 97.2%,#c7fe00 98.9%,#b8fd00 99.8%)"></i>
<i style="left:123px;background:linear-gradient(#e50000 0.2%,#f00000 29.0%,#f00 40.4%,#ff0300 84.5%,#ff1900 86.7%,#ff7000 90.2%,#ffb500 94.5%,#ffcd00 95.9%,#fff400 96.7%,#f8ff00 97.2%,#c7fe00 98.9%,#b8fd00 99.8%)"></i>
<i style="left:124px;background:linear-gradient(#e40000 0.2%,#f00000 29.0%,#f00 40.8%,#ff0400 84.5%,#ff1e00 86.7%,#ff7100 90.2%,#ffb000 94.1%,#ffcd00 95.9%,#fff500 96.7%,#f7ff00 97.2%,#c7fe00 98.9%,#b8fd00 99.8%)"></i>
<i style="left:125px;background:linear-gradient(#e40000 0.2%,#f00000 29.5%,#f00 40.8%,#ff0500 84.5%,#ff1600 86.2%,#ff4e00 88.4%,#ffa600 93.2%,#ffce00 95.9%,#fff600 96.7%,#e8ff00 97.6%,#bffd00 99.3%,#b8fd00 99.8%)"></i>
<i style="left:126px;background:linear-gradient(#e30000 0.2%,#ef0000 29.5%,#f00 41.3%,#ff0200 84.1%,#ff1a00 86.2%,#ff4b00 88.0%,#ffa700 93.2%,#ffce00 95.9%,#fff800 96.7%,#daff00 98.0%,#b8fd00 99.8%)"></i>
<i style="left:127px;background:linear-gradient(#e30000 0.2%,#e00 29.5%,#f00 41.7%,#ff0300 84.1%,#ff1500 85.8%,#ff5000 88.0%,#ffae00 93.7%,#ffcf00 95.9%,#fff900 96.7%,#c6fe00 98.9%,#b8fd00 99.8%)"></i>
<i style="left:128px;background:linear-gradient(#e20000 0.2%,#ed0000 29.5%,#f00 41.7%,#ff0300 84.1%,#ff1800 85.8%,#ff4c00 87.6%,#ffb000 93.7%,#ffd000 95.9%,#fffa00 96.7%,#c4fe00 98.9%,#b7fd00 99.8%)"></i>
<i style="left:129px;background:linear-gradient(#e20000 0.2%,#e00 29.9%,#f00 42.1%,#ff0400 84.1%,#ff1300 85.4%,#ff5100 87.6%,#ffb200 93.7%,#ffd100 95.9%,#fffc00 96.7%,#c2fe00 98.9%,#b5fc00 99.8%)"></i>
<i style="left:130px;background:linear-gradient(#e10000 0.2%,#ed0000 29.9%,#f00 42.1%,#ff0500 84.1%,#ff1700 85.4%,#ff4200 86.7%,#ffb400 93.7%,#ffd200 95.9%,#fffe00 96.7%,#c9ff00 98.5%,#b2fc00 99.8%)"></i>
<i style="left:131px;background:linear-gradient(#e10000 0.2%,#ec0000 29.9%,#f00 42.1%,#ff0300 83.6%,#ff1c00 85.4%,#ff4800 86.7%,#ffb500 93.7%,#ffd400 95.9%,#ff0 96.7%,#c6fe00 98.5%,#b0fc00 99.8%)"></i>
<i style="left:132px;background:linear-gradient(#e00000 0.2%,#ec0000 30.3%,#f00 42.6%,#ff0100 83.2%,#ff1600 84.9%,#ff4e00 86.7%,#ffb700 93.7%,#ffd700 95.9%,#fdff00 96.7%,#c4fe00 98.5%,#aefc00 99.8%)"></i>
<i style="left:133px;background:linear-gradient(#e00000 0.2%,#eb0000 29.9%,#f00 42.6%,#ff0400 83.2%,#ff1c00 84.9%,#ff4a00 86.2%,#ffb900 93.7%,#ffd900 95.9%,#fcff00 96.7%,#b9fd00 98.9%,#acfb00 99.8%)"></i>
<i style="left:134px;background:linear-gradient(#df0000 0.2%,#eb0000 29.5%,#f00 43.0%,#ff0100 82.8%,#ff1700 84.5%,#ff5100 86.2%,#ff9100 90.6%,#ffdb00 95.9%,#fbff00 96.7%,#c0fe00 98.5%,#aafb00 99.8%)"></i>
<i style="left:135px;background:linear-gradient(#df0000 0.2%,#ea0000 28.6%,#f00 43.0%,#ff0300 82.8%,#ff1d00 84.5%,#ff4f00 85.8%,#ff8500 89.7%,#ffde00 95.9%,#f9ff00 96.7%,#befd00 98.5%,#a8fb00 99.8%)"></i>
<i style="left:136px;background:linear-gradient(#de0000 0.2%,#e90000 28.2%,#f00 43.4%,#ff0500 82.8%,#ff1800 84.1%,#ff4c00 85.4%,#ff6000 86.7%,#ff7900 88.9%,#ffc000 93.7%,#ffe000 95.9%,#f7ff00 96.7%,#bcfd00 98.5%,#a5fb00 99.8%)"></i>
<i style="left:137px;background:linear-gradient(#de0000 0.2%,#e90000 27.7%,#f00 43.9%,#f00 82.3%,#ff1500 83.6%,#ff5600 85.4%,#ff7b00 88.9%,#ffc200 93.7%,#ffe200 95.9%,#f5ff00 96.7%,#b9fd00 98.5%,#a3fa00 99.8%)"></i>
<i style="left:138px;background:linear-gradient(#d00 0.2%,#e80000 26.9%,#f00 43.9%,#ff0200 82.3%,#ff1e00 83.6%,#ff5400 84.9%,#ff7300 87.6%,#ff8d00 89.7%,#ffe500 95.9%,#fff700 96.3%,#e2ff00 97.2%,#b5fc00 98.5%,#a0fa00 99.8%)"></i>
<i style="left:139px;background:linear-gradient(#d00 0.2%,#e60000 24.2%,#f00 44.3%,#ff0500 82.3%,#ff1800 83.2%,#ff5300 84.5%,#ff7900 87.6%,#ff9000 89.7%,#ffe700 95.9%,#fffa00 96.3%,#b2fc00 98.5%,#9bfa00 99.8%)"></i>
<i style="left:140px;background:linear-gradient(#dc0000 0.2%,#e50000 22.9%,#f00 44.8%,#f00 81.9%,#ff1400 82.8%,#ff5200 84.1%,#ff8000 87.6%,#ff9300 89.7%,#ffe900 95.9%,#fffc00 96.3%,#affc00 98.5%,#96f900 99.8%)"></i>
<i style="left:141px;background:linear-gradient(#dc0000 0.2%,#e40000 22.1%,#f00 44.8%,#f00 81.4%,#ff1b00 82.8%,#ff4e00 83.6%,#ff6100 84.5%,#ff8500 87.6%,#ff9c00 90.2%,#ffec00 95.9%,#ff0 96.3%,#acfb00 98.5%,#90f800 99.8%)"></i>
<i style="left:142px;background:linear-gradient(#db0000 0.2%,#e40000 21.6%,#f00 44.8%,#ff0100 81.4%,#ff1500 82.3%,#ff5700 83.6%,#ff8700 87.1%,#ff9f00 90.2%,#ffef00 95.9%,#fdff00 96.3%,#a9fb00 98.5%,#8bf800 99.8%)"></i>
<i style="left:143px;background:linear-gradient(#db0000 0.2%,#e30000 21.2%,#f00 44.8%,#f00 81.0%,#ff1d00 82.3%,#ff4f00 83.2%,#ff6b00 84.5%,#ff8b00 87.1%,#ffa800 90.6%,#fff100 95.9%,#fcff00 96.3%,#a5fb00 98.5%,#85f700 99.8%)"></i>
<i style="left:144px;background:linear-gradient(#da0000 0.2%,#e20000 20.7%,#f00 44.8%,#f00 81.0%,#ff1500 81.9%,#ff5700 83.2%,#f80 86.2%,#ffab00 90.6%,#fff400 95.9%,#f9ff00 96.3%,#a2fa00 98.5%,#80f700 99.8%)"></i>
<i style="left:145px;background:linear-gradient(#da0000 0.2%,#e10000 20.3%,#f00 44.3%,#ff0400 81.0%,#ff1b00 81.9%,#ff4c00 82.8%,#f60 83.6%,#ff9400 87.1%,#ffae00 90.6%,#fff700 95.9%,#f7ff00 96.3%,#acfb00 98.0%,#7af600 99.8%)"></i>
<i style="left:146px;background:linear-gradient(#d90000 0.2%,#e10000 19.9%,#f00 44.3%,#f00 80.6%,#ff1300 81.4%,#f50 82.8%,#ff7900 84.5%,#ff9700 87.1%,#ffb100 90.6%,#fffa00 95.9%,#e3ff00 96.7%,#99f900 98.5%,#75f600 99.8%)"></i>
<i style="left:147px;background:linear-gradient(#d90000 0.2%,#e00000 19.9%,#f00 44.3%,#ff0200 80.6%,#ff1800 81.4%,#ff5c00 82.8%,#ff8f00 85.8%,#ffb900 91.0%,#fffc00 95.9%,#e1ff00 96.7%,#91f900 98.5%,#6ff500 99.8%)"></i>
<i style="left:148px;background:linear-gradient(#d80000 0.2%,#df0000 19.4%,#f00 43.9%,#f00 80.1%,#f10 81.0%,#ff2100 81.4%,#ff5300 82.3%,#ff7b00 84.1%,#ff9e00 87.1%,#ffbc00 91.0%,#ff0 95.9%,#caff00 97.2%,#8af800 98.5%,#68f400 99.8%)"></i>
<i style="left:149px;background:linear-gradient(#d80000 0.2%,#df0000 19.4%,#f00 43.9%,#f00 80.1%,#ff1600 81.0%,#ff5b00 82.3%,#ff8600 84.5%,#ffa100 87.1%,#ffbe00 91.0%,#fdff00 95.9%,#c7fe00 97.2%,#82f700 98.5%,#5ff300 99.8%)"></i>
<i style="left:150px;background:linear-gradient(#d70000 0.2%,#de0000 19.0%,#f00 43.4%,#ff0400 80.1%,#ff1c00 81.0%,#ff5000 81.9%,#ff7500 83.2%,#ffa200 86.7%,#ffc100 91.0%,#fbff00 95.9%,#c3fe00 97.2%,#7af600 98.5%,#56f300 99.8%)"></i>
<i style="left:151px;background:linear-gradient(#d70000 0.2%,#de0000 19.0%,#f00 43.4%,#f00 79.7%,#ff1400 80.6%,#ff5a00 81.9%,#f80 84.1%,#ffa700 87.1%,#ffc900 91.5%,#fdff00 95.4%,#ebff00 96.3%,#73f500 98.5%,#4df200 99.8%)"></i>
<i style="left:152px;background:linear-gradient(#d60000 0.2%,#d00 18.6%,#f00 43.4%,#ff0200 79.7%,#ff1900 80.6%,#ff4e00 81.4%,#ff6d00 82.3%,#ff9700 84.9%,#ffab00 87.6%,#ffcb00 91.5%,#ff0 95.0%,#e7ff00 96.3%,#a4fa00 97.6%,#6bf500 98.5%,#44f100 99.8%)"></i>
<i style="left:153px;background:linear-gradient(#d60000 0.2%,#d00 18.6%,#f00 43.0%,#f00 79.3%,#ff1300 80.1%,#ff5900 81.4%,#ff8b00 83.6%,#ffae00 87.1%,#ffcd00 91.5%,#fbff00 95.0%,#e3ff00 96.3%,#d3ff00 96.7%,#9ffa00 97.6%,#63f400 98.5%,#3bf000 99.8%)"></i>
<i style="left:154px;background:linear-gradient(#d50000 0.2%,#dc0000 18.1%,#f00 43.0%,#ff0200 79.3%,#ff1800 80.1%,#ff6000 81.4%,#ff9600 84.1%,#ffb200 87.6%,#ffd100 91.5%,#feff00 94.5%,#deff00 96.3%,#ceff00 96.7%,#5bf300 98.5%,#3cf000 99.3%,#37f000 99.8%)"></i>
<i style="left:155px;background:linear-gradient(#d50000 0.2%,#db0000 18.1%,#f00 42.6%,#f00 78.8%,#ff1300 79.7%,#ff3f00 80.6%,#ff5900 81.0%,#ff9400 83.6%,#ffb500 87.6%,#ffdb00 91.9%,#fbff00 94.5%,#d9ff00 96.3%,#b2fc00 97.2%,#6ef500 98.0%,#41f100 98.9%,#32f100 99.8%)"></i>
<i style="left:156px;background:linear-gradient(#d40000 0.2%,#db0000 18.1%,#f00 42.1%,#ff0400 78.8%,#ff1800 79.7%,#ff6100 81.0%,#ff9700 83.6%,#ffb800 87.6%,#ffde00 91.9%,#feff00 94.1%,#d4ff00 96.3%,#adfb00 97.2%,#65f400 98.0%,#3af000 98.9%,#2df100 99.8%)"></i>
<i style="left:157px;background:linear-gradient(#d40000 0.2%,#db0000 18.1%,#f00 41.7%,#ff0100 78.4%,#ff1400 79.3%,#ff5a00 80.6%,#ff9a00 83.6%,#fb0 87.6%,#ffe100 91.9%,#fbff00 94.1%,#cfff00 96.3%,#a6fb00 97.2%,#5df300 98.0%,#42f100 98.5%,#29f200 99.8%)"></i>
<i style="left:158px;background:linear-gradient(#d30000 0.2%,#db0000 17.7%,#f00 41.3%,#f00 77.9%,#ff1c00 79.3%,#ff6000 80.6%,#ff9700 83.2%,#ffbf00 87.6%,#ffdf00 91.5%,#feff00 93.7%,#d9ff00 95.9%,#b4fc00 96.7%,#7cf600 97.6%,#55f300 98.0%,#3bf000 98.5%,#24f200 99.8%)"></i>
<i style="left:159px;background:linear-gradient(#d30000 0.2%,#db0000 17.7%,#f00 40.8%,#f00 77.5%,#ff1700 78.8%,#ff5b00 80.1%,#ff9a00 83.2%,#ffc200 87.6%,#ffd700 90.2%,#fbff00 93.7%,#d4ff00 95.9%,#adfb00 96.7%,#4df200 98.0%,#36f000 98.5%,#1ff200 99.8%)"></i>
<i style="left:160px;background:linear-gradient(#d30000 0.2%,#db0000 17.7%,#f00 40.0%,#f00 77.1%,#ff1500 78.4%,#ff3b00 79.3%,#ff5300 79.7%,#ff9700 82.8%,#ffc500 87.1%,#ffd400 89.7%,#feff00 93.2%,#d0ff00 95.9%,#a7fb00 96.7%,#45f100 98.0%,#28f200 98.9%,#1bf300 99.8%)"></i>
<i style="left:161px;background:linear-gradient(#d20000 0.2%,#db0000 17.7%,#f00 39.5%,#f00 76.6%,#ff1f00 78.4%,#ff5a00 79.7%,#ffa000 83.2%,#ffc800 87.1%,#ffd800 89.7%,#fbff00 93.2%,#cbff00 95.9%,#a0fa00 96.7%,#54f200 97.6%,#39f000 98.0%,#16f300 99.8%)"></i>
<i style="left:162px;background:linear-gradient(#d20000 0.2%,#db0000 17.7%,#f00 39.1%,#f00 76.2%,#ff1e00 77.9%,#ff5200 79.3%,#ff9c00 82.8%,#ffcb00 87.1%,#ffdb00 89.7%,#fff200 91.5%,#f9ff00 93.2%,#c6fe00 95.9%,#95f900 96.7%,#46f100 97.6%,#26f200 98.5%,#11f400 99.8%)"></i>
<i style="left:163px;background:linear-gradient(#d10000 0.2%,#da0000 17.2%,#f00 38.6%,#ff0400 76.2%,#ff1c00 77.5%,#ff5800 79.3%,#ffa500 83.2%,#ffcf00 87.6%,#ffe400 90.2%,#fffc00 91.9%,#f0ff00 93.7%,#c0fe00 95.9%,#abfb00 96.3%,#3af000 97.6%,#18f300 98.9%,#0bf400 99.8%)"></i>
<i style="left:164px;background:linear-gradient(#d10000 0.2%,#da0000 17.2%,#f00 38.2%,#ff0200 75.8%,#ff1900 77.1%,#ff5d00 79.3%,#ffa800 83.2%,#ffd300 87.6%,#ffe700 90.2%,#feff00 91.5%,#edff00 93.7%,#c9ff00 95.4%,#a5fb00 96.3%,#52f200 97.2%,#33f100 97.6%,#18f300 98.5%,#06f500 99.8%)"></i>
<i style="left:165px;background:linear-gradient(#d00000 0.2%,#da0000 17.2%,#f00 37.8%,#f00 75.3%,#ff2000 77.1%,#ff5700 78.8%,#ffab00 83.2%,#ffd700 87.6%,#ffea00 90.2%,#feff00 91.0%,#e2ff00 94.1%,#b5fc00 95.9%,#9ffa00 96.3%,#46f100 97.2%,#1bf300 98.0%,#00f500 99.8%)"></i>
<i style="left:166px;background:linear-gradient(#d00000 0.2%,#da0000 17.2%,#f00 37.3%,#f00 74.9%,#ff1800 76.6%,#ff5c00 78.8%,#ffae00 83.2%,#ffdb00 87.6%,#ffed00 90.2%,#faff00 91.0%,#d6ff00 94.5%,#b0fc00 95.9%,#95f900 96.3%,#3bf000 97.2%,#13f300 98.0%,#01f500 99.3%,#00f916 99.8%)"></i>
<i style="left:167px;background:linear-gradient(#cf0000 0.2%,#da0000 17.2%,#f00 36.9%,#ff0400 74.9%,#ff1e00 76.6%,#ff5700 78.4%,#ffb100 83.2%,#ffde00 87.6%,#fff000 90.2%,#f7ff00 91.0%,#d1ff00 94.5%,#abfb00 95.9%,#8cf800 96.3%,#35f100 97.2%,#0cf400 98.0%,#00f503 98.9%,#00fd2d 99.8%)"></i>
<i style="left:168px;background:linear-gradient(#cf0000 0.2%,#db0000 17.2%,#f00 36.5%,#f00 74.5%,#ff1900 76.2%,#ff5c00 78.4%,#ffb900 83.6%,#ffe200 87.6%,#fff300 90.2%,#ff0 90.6%,#e3ff00 91.9%,#cf0 94.5%,#a8fb00 95.9%,#87f700 96.3%,#30f100 97.2%,#04f500 98.0%,#00f815 98.5%,#00fd30 99.3%,#00ff4d 99.8%)"></i>
<i style="left:169px;background:linear-gradient(#cf0000 0.2%,#db0000 17.2%,#f00 36.0%,#ff0400 74.5%,#ff2100 76.2%,#ff5f00 78.4%,#ffbc00 83.6%,#ffe600 87.6%,#fff600 90.2%,#f1ff00 91.0%,#d8ff00 92.4%,#c6fe00 94.5%,#a5fb00 95.9%,#81f700 96.3%,#50f200 96.7%,#2bf100 97.2%,#11f400 97.6%,#00f70b 98.0%,#00fc2c 98.5%,#00fe38 98.9%,#0f7 99.8%)"></i>
<i style="left:170px;background:linear-gradient(#ce0000 0.2%,#da0000 16.8%,#f00 35.6%,#f00 74.0%,#ff2b00 76.2%,#ff5d00 77.9%,#ffbf00 83.6%,#ffea00 87.6%,#faff00 90.6%,#d1ff00 92.4%,#b8fd00 95.0%,#a1fa00 95.9%,#7cf600 96.3%,#49f100 96.7%,#0bf400 97.6%,#00fa1f 98.0%,#00ff4b 98.5%,#00ff9f 99.8%)"></i>
<i style="left:171px;background:linear-gradient(#ce0000 0.2%,#da0000 16.8%,#f00 35.6%,#f00 74.0%,#ff6100 77.9%,#ffc200 83.6%,#ffeb00 87.1%,#fffc00 90.2%,#cbff00 92.4%,#b3fc00 95.0%,#9dfa00 95.9%,#76f600 96.3%,#43f100 96.7%,#05f500 97.6%,#00fd32 98.0%,#00ff74 98.5%,#00ffc0 99.8%)"></i>
<i style="left:172px;background:linear-gradient(#cd0000 0.2%,#da0000 16.8%,#f00 35.2%,#f00 73.6%,#ff0500 74.0%,#ff2500 74.9%,#ff6500 77.9%,#ffc900 84.1%,#ffef00 87.1%,#ff0 90.2%,#c4fe00 92.4%,#a7fb00 95.4%,#97f900 95.9%,#71f500 96.3%,#3cf000 96.7%,#00f605 97.6%,#00ff96 98.5%,#00ffdf 99.8%)"></i>
<i style="left:173px;background:linear-gradient(#cd0000 0.2%,#da0000 16.8%,#f00 34.7%,#f00 73.6%,#ff2f00 74.9%,#ff6900 77.9%,#fc0 84.1%,#fff300 87.1%,#faff00 90.2%,#e5ff00 91.0%,#bdfd00 92.4%,#a1fa00 95.4%,#8ef800 95.9%,#36f100 96.7%,#16f300 97.2%,#00f916 97.6%,#00ff6b 98.0%,#00ffb4 98.5%,#00fffe 99.8%)"></i>
<i style="left:174px;background:linear-gradient(#c00 0.2%,#da0000 16.8%,#f00 34.3%,#f00 73.6%,#ff3a00 74.9%,#ff7300 78.4%,#ffe400 85.4%,#ff0 88.4%,#ecff00 90.6%,#b6fc00 92.4%,#a0fa00 95.0%,#82f700 95.9%,#30f100 96.7%,#10f400 97.2%,#00fb26 97.6%,#00ff8b 98.0%,#00ffce 98.5%,#00fffd 99.3%,#00f6ff 99.8%)"></i>
<i style="left:175px;background:linear-gradient(#c00 0.2%,#da0000 16.8%,#f00 34.3%,#ff0400 73.6%,#ff4500 74.9%,#ffa200 81.0%,#fff300 86.2%,#f8ff00 88.4%,#e4ff00 90.6%,#affc00 92.4%,#94f900 95.0%,#76f600 95.9%,#09f400 97.2%,#00fe37 97.6%,#00ffab 98.0%,#00ffe8 98.5%,#00feff 98.9%,#00edff 99.8%)"></i>
<i style="left:176px;background:linear-gradient(#cb0000 0.2%,#da0000 16.8%,#f00 33.8%,#f00 73.1%,#ff0a00 73.6%,#ff5000 74.9%,#ff9500 80.1%,#fff200 85.8%,#fcff00 87.6%,#dcff00 90.6%,#a1fa00 92.8%,#88f800 95.0%,#6af500 95.9%,#23f200 96.7%,#02f500 97.2%,#00ff52 97.6%,#00ffc3 98.0%,#00fdff 98.5%,#00e3ff 99.8%)"></i>
<i style="left:177px;background:linear-gradient(#cb0000 0.2%,#d90000 16.4%,#f00 33.4%,#f00 73.1%,#f10 73.6%,#ff4800 74.5%,#ff5a00 74.9%,#ff9000 79.7%,#fff000 85.4%,#fbff00 87.1%,#d4ff00 90.6%,#93f900 92.8%,#7cf600 95.0%,#5ef300 95.9%,#1cf300 96.7%,#00f70b 97.2%,#00ffe1 98.0%,#00f4ff 98.5%,#00daff 99.8%)"></i>
<i style="left:178px;background:linear-gradient(#ca0000 0.2%,#d90000 16.4%,#f00 33.4%,#ff0200 73.1%,#ff1700 73.6%,#ff5300 74.5%,#f60 75.3%,#ff9400 79.7%,#ffef00 84.9%,#faff00 86.7%,#d5ff00 89.7%,#cbff00 90.6%,#8af800 92.4%,#7af600 94.1%,#65f400 95.4%,#52f200 95.9%,#16f300 96.7%,#00fa1e 97.2%,#00ff9a 97.6%,#0ff 98.0%,#00eaff 98.5%,#00d1ff 99.8%)"></i>
<i style="left:179px;background:linear-gradient(#ca0000 0.2%,#d90000 16.4%,#f00 33.0%,#f00 72.7%,#ff0900 73.1%,#ff5c00 74.5%,#ff7000 75.8%,#ff9700 79.7%,#fff300 84.9%,#faff00 86.2%,#cdff00 89.7%,#c1fe00 90.6%,#a2fa00 91.5%,#78f600 92.4%,#53f200 95.4%,#2af200 96.3%,#0cf400 96.7%,#00fe35 97.2%,#00ffbd 97.6%,#00f5ff 98.0%,#00e0ff 98.5%,#00c7ff 99.8%)"></i>
<i style="left:180px;background:linear-gradient(#ca0000 0.2%,#d90000 16.4%,#f00 32.5%,#f00 72.7%,#ff0f00 73.1%,#ff4d00 74.0%,#ff6300 74.5%,#ff7300 75.3%,#ff9a00 79.7%,#fff800 84.9%,#edff00 86.7%,#c3fe00 89.7%,#b7fd00 90.6%,#90f800 91.5%,#65f400 92.4%,#3cf000 95.4%,#34f100 95.9%,#02f500 96.7%,#00ff58 97.2%,#0fd 97.6%,#00ebff 98.0%,#00d7ff 98.5%,#00beff 99.8%)"></i>
<i style="left:181px;background:linear-gradient(#c90000 0.2%,#d90000 16.4%,#f00 32.1%,#ff0200 72.7%,#ff1600 73.1%,#ff5700 74.0%,#ff7500 74.9%,#ff9c00 79.7%,#fff600 84.5%,#f4ff00 85.8%,#b9fd00 89.7%,#adfb00 90.6%,#9bfa00 91.0%,#65f400 91.9%,#53f200 92.4%,#29f200 95.9%,#15f300 96.3%,#00f812 96.7%,#00fffc 97.6%,#00e1ff 98.0%,#00cdff 98.5%,#00b4ff 99.8%)"></i>
<i style="left:182px;background:linear-gradient(#c90000 0.2%,#d90000 16.4%,#f00 31.7%,#f00 72.3%,#ff0900 72.7%,#ff1f00 73.1%,#ff5f00 74.0%,#ff7c00 74.9%,#ffa000 79.7%,#fffb00 84.5%,#affc00 89.7%,#a3fa00 90.6%,#52f200 91.9%,#41f000 92.4%,#1ef300 95.9%,#0bf400 96.3%,#00fc29 96.7%,#00ffab 97.2%,#00f6ff 97.6%,#00d7ff 98.0%,#00c3ff 98.5%,#00abff 99.8%)"></i>
<i style="left:183px;background:linear-gradient(#c80000 0.2%,#d90000 16.4%,#f00 31.2%,#f00 72.3%,#ff1000 72.7%,#f60 74.0%,#ff8200 74.9%,#ff9d00 79.3%,#ffe100 82.8%,#feff00 84.5%,#a5fb00 89.7%,#a3fa00 90.2%,#94f900 90.6%,#40f000 91.9%,#32f100 92.8%,#13f300 95.9%,#01f500 96.3%,#0f4 96.7%,#00ffcb 97.2%,#00ebff 97.6%,#00cdff 98.0%,#00b9ff 98.5%,#00a1ff 99.8%)"></i>
<i style="left:184px;background:linear-gradient(#c80000 0.2%,#d90000 16.4%,#f00 31.2%,#f00 71.8%,#ff0600 72.3%,#ff1600 72.7%,#ff5700 73.6%,#ff7e00 74.5%,#ff8e00 75.3%,#ffa100 79.3%,#ffdc00 82.3%,#fffe00 84.1%,#95f900 90.2%,#67f400 91.0%,#48f100 91.5%,#35f100 91.9%,#08f400 95.9%,#00f916 96.3%,#00ff6f 96.7%,#00ffeb 97.2%,#00e1ff 97.6%,#00c3ff 98.0%,#00afff 98.5%,#0097ff 99.8%)"></i>
<i style="left:185px;background:linear-gradient(#c70000 0.2%,#d90000 16.4%,#f00 30.8%,#ff0200 71.8%,#ff2000 72.7%,#ff5f00 73.6%,#ff9000 74.9%,#ffa500 79.3%,#ffd600 81.9%,#fffc00 83.6%,#a7fb00 88.4%,#8af800 89.7%,#86f700 90.2%,#73f600 90.6%,#39f000 91.5%,#22f200 92.4%,#00f501 95.4%,#00f608 95.9%,#00fd2e 96.3%,#00fbff 97.2%,#00b8ff 98.0%,#00a6ff 98.5%,#009aff 99.3%,#008bff 99.8%)"></i>
<i style="left:186px;background:linear-gradient(#c80000 0.2%,#d80000 15.9%,#f00 29.9%,#f00 71.4%,#ff1400 72.3%,#ff6500 73.6%,#ff9600 74.9%,#ffa900 79.3%,#ffdb00 81.9%,#fdff00 83.6%,#9cfa00 88.4%,#7af600 89.7%,#76f600 90.2%,#64f400 90.6%,#30f100 91.5%,#19f300 92.4%,#00f501 94.5%,#00fa1e 95.9%,#00ff4d 96.3%,#00ffbe 96.7%,#00f0ff 97.2%,#00aeff 98.0%,#009cff 98.5%,#008dff 99.3%,#007eff 99.8%)"></i>
<i style="left:187px;background:linear-gradient(#c90000 0.2%,#d60000 15.1%,#f00 29.0%,#f00 71.0%,#ff1d00 72.3%,#ff6c00 73.6%,#ff9200 74.5%,#ff9f00 75.8%,#ffad00 79.3%,#ffd500 81.4%,#fffd00 83.2%,#9efa00 88.0%,#71f500 89.3%,#67f400 90.2%,#27f200 91.5%,#0ff400 92.4%,#00f605 94.1%,#00fe34 95.9%,#00ff76 96.3%,#00ffdf 96.7%,#00e5ff 97.2%,#00a3ff 98.0%,#008fff 98.5%,#0071ff 99.8%)"></i>
<i style="left:188px;background:linear-gradient(#cb0000 0.2%,#d30000 13.8%,#f00 28.6%,#f00 70.5%,#ff1800 71.8%,#ff4100 72.7%,#ff7300 73.6%,#ff9700 74.5%,#ffa500 76.6%,#ffb100 79.3%,#ffda00 81.4%,#fbff00 83.2%,#a0fa00 87.6%,#6cf500 88.9%,#57f300 90.2%,#0ff400 91.9%,#01f500 93.2%,#0f4 95.4%,#00ff56 95.9%,#00ffa0 96.3%,#0ff 96.7%,#0097ff 98.0%,#0081ff 98.5%,#0064ff 99.8%)"></i>
<i style="left:189px;background:linear-gradient(#cd0000 0.2%,#ce0000 11.1%,#f00 28.6%,#f00 70.1%,#ff2300 71.8%,#ff4c00 72.7%,#ff8e00 74.0%,#ffa300 74.9%,#ffb500 79.3%,#ffdf00 81.4%,#fffe00 82.8%,#a0fa00 87.1%,#5cf300 88.9%,#48f100 90.2%,#08f400 91.9%,#00f709 92.8%,#00fc29 94.1%,#00ff3a 94.5%,#00ff7e 95.9%,#00ffc3 96.3%,#00f4ff 96.7%,#008aff 98.0%,#0073ff 98.5%,#0052ff 99.8%)"></i>
<i style="left:190px;background:linear-gradient(#ce0000 0.2%,#ce0000 11.1%,#f00 27.7%,#f00 69.7%,#ff2100 71.4%,#ff3f00 72.3%,#ff9400 74.0%,#ffa700 74.9%,#ffba00 79.3%,#ffe400 81.4%,#f9ff00 82.8%,#a2fa00 86.7%,#4bf200 88.9%,#31f100 90.6%,#01f500 91.9%,#00f815 92.4%,#00fc2c 93.7%,#00ff3b 94.1%,#00ff92 95.4%,#00ffa7 95.9%,#00ffe3 96.3%,#00e9ff 96.7%,#007dff 98.0%,#0065ff 98.5%,#0041ff 99.8%)"></i>
<i style="left:191px;background:linear-gradient(#d00000 0.2%,#d00000 11.1%,#f00 27.3%,#f00 69.2%,#ff2100 71.0%,#ff4a00 72.3%,#ff9a00 74.0%,#ffae00 75.3%,#ffbe00 79.3%,#ffdf00 81.0%,#fffe00 82.3%,#a4fa00 86.2%,#49f100 88.4%,#36f000 89.3%,#29f200 90.6%,#0af400 91.5%,#00f70d 91.9%,#00fb25 92.4%,#00fd31 93.2%,#00ff3e 93.7%,#00ff9f 95.0%,#00ffc7 95.9%,#00feff 96.3%,#006fff 98.0%,#0053ff 98.5%,#0032ff 99.8%)"></i>
<i style="left:192px;background:linear-gradient(#d20000 0.2%,#d30000 11.6%,#f00 26.9%,#ff0100 68.8%,#ff2e00 71.0%,#f60 72.7%,#ff9e00 74.0%,#ffb200 75.3%,#ffc200 79.3%,#ffef00 81.4%,#f9ff00 82.3%,#a7fb00 85.8%,#48f100 88.0%,#33f100 88.9%,#21f200 90.6%,#03f500 91.5%,#00fe36 92.4%,#00ff46 93.2%,#00ff7d 94.1%,#00ffbe 95.0%,#00ffe6 95.9%,#00f3ff 96.3%,#08f 97.6%,#0042ff 98.5%,#0023ff 99.8%)"></i>
<i style="left:193px;background:linear-gradient(#d40000 0.2%,#d50000 11.6%,#f00 26.9%,#ff0300 68.3%,#ff2f00 70.5%,#ff6d00 72.7%,#ffa300 74.0%,#ffb600 75.3%,#ffc600 79.3%,#fffe00 81.9%,#b4fc00 84.9%,#9dfa00 85.8%,#57f300 87.1%,#31f100 88.4%,#1af300 90.6%,#0cf400 91.0%,#00f70b 91.5%,#00ff4f 92.4%,#00ff65 93.2%,#00fff1 95.4%,#00fdff 95.9%,#00e8ff 96.3%,#007aff 97.6%,#03f 98.5%,#0014ff 99.8%)"></i>
<i style="left:194px;background:linear-gradient(#d50000 0.2%,#d80000 11.6%,#f00 26.4%,#f00 67.5%,#ff2800 69.7%,#ff7400 72.7%,#ffa800 74.0%,#ffba00 75.3%,#ffca00 79.3%,#fff900 81.4%,#c9ff00 83.6%,#a2fa00 85.4%,#45f100 87.1%,#23f200 88.9%,#12f400 90.6%,#04f500 91.0%,#0f4 91.9%,#00ff6d 92.4%,#00ff83 93.2%,#00fff7 95.0%,#0ef 95.9%,#00baff 96.7%,#0042ff 98.0%,#0024ff 98.5%,#0005ff 99.8%)"></i>
<i style="left:195px;background:linear-gradient(#d70000 0.2%,#db0000 12.0%,#f00 26.0%,#f00 67.0%,#ff3600 69.7%,#ff7a00 72.7%,#ffad00 74.0%,#ffbe00 75.3%,#ffce00 79.3%,#fffe00 81.4%,#b7fd00 84.1%,#a4fa00 84.9%,#45f100 86.7%,#27f200 88.0%,#0af400 90.6%,#00f609 91.0%,#00fd2f 91.5%,#00ff63 91.9%,#00ff8b 92.4%,#00ffa2 93.2%,#00fff3 94.5%,#00f4ff 95.0%,#00dfff 95.9%,#00acff 96.7%,#0032ff 98.0%,#0016ff 98.5%,#00f 99.3%,#0d00ff 99.8%)"></i>
<i style="left:196px;background:linear-gradient(#d90000 0.2%,#de0000 12.0%,#f00 25.5%,#ff0200 66.6%,#ff2500 68.3%,#ff5f00 71.0%,#ff7300 72.3%,#ffb200 74.0%,#ffc200 75.3%,#ffce00 78.8%,#fff900 81.0%,#c4fe00 83.2%,#97f900 84.9%,#49f100 86.2%,#2ef100 87.1%,#0cf400 89.7%,#02f500 90.6%,#00fa1b 91.0%,#0f4 91.5%,#00ff82 91.9%,#00ffa9 92.4%,#00ffbc 93.2%,#0fe 94.1%,#00f5ff 94.5%,#00cfff 95.9%,#009dff 96.7%,#02f 98.0%,#0007ff 98.5%,#2100ff 99.8%)"></i>
<i style="left:197px;background:linear-gradient(#db0000 0.2%,#e10000 12.4%,#f00 25.1%,#ff0300 66.2%,#ff1a00 67.5%,#ff5300 69.7%,#ff7a00 72.3%,#ffb700 74.0%,#ffc600 75.3%,#ffd300 78.8%,#ff0 81.0%,#b1fc00 83.6%,#9cfa00 84.5%,#38f000 86.2%,#0af400 88.9%,#02f500 90.2%,#00f70e 90.6%,#00fd2e 91.0%,#00ffa1 91.9%,#00ffc1 92.4%,#00ffd3 93.2%,#00f9ff 94.1%,#00caff 95.4%,#00c0ff 95.9%,#008eff 96.7%,#0012ff 98.0%,#0c00ff 98.5%,#3400ff 99.8%)"></i>
<i style="left:198px;background:linear-gradient(#dc0000 0.2%,#e30000 12.4%,#f00 24.7%,#ff0400 65.7%,#ff1b00 67.0%,#ff5000 68.8%,#ff8100 72.3%,#ffbc00 74.0%,#fc0 75.8%,#ffd900 78.8%,#fffa00 80.6%,#a9fb00 83.6%,#9ffa00 84.1%,#3bf000 85.8%,#0df400 88.0%,#00f606 89.3%,#00f810 90.2%,#00fb23 90.6%,#0f4 91.0%,#00ff85 91.5%,#0fb 91.9%,#00ffd8 92.4%,#00ffeb 93.2%,#00fdff 93.7%,#00c6ff 95.0%,#00b1ff 95.9%,#009cff 96.3%,#05f 97.2%,#0025ff 97.6%,#0500ff 98.0%,#2000ff 98.5%,#4100ff 99.8%)"></i>
<i style="left:199px;background:linear-gradient(#de0000 0.2%,#e70000 12.9%,#f00 24.2%,#ff0500 65.3%,#ff1c00 66.6%,#ff4c00 67.9%,#ff6d00 70.1%,#f80 72.3%,#ffc100 74.0%,#ffd200 75.8%,#ffdf00 78.8%,#feff00 80.6%,#acfb00 83.2%,#a1fa00 83.6%,#3ef000 85.4%,#0bf400 87.6%,#00f605 88.4%,#00fb22 89.7%,#00fb27 90.2%,#00ff3c 90.6%,#00ffad 91.5%,#00ffef 92.4%,#00fcff 93.2%,#00c3ff 94.5%,#00a1ff 95.9%,#008cff 96.3%,#006bff 96.7%,#000cff 97.6%,#1900ff 98.0%,#30f 98.5%,#4e00ff 99.8%)"></i>
<i style="left:200px;background:linear-gradient(#e00000 0.2%,#e90000 12.9%,#f00 23.8%,#f00 64.4%,#ff1b00 66.2%,#ff5100 67.5%,#ff7100 69.7%,#ff8f00 72.3%,#ffc600 74.0%,#ffd700 75.8%,#ffe400 78.8%,#fffb00 80.1%,#a3fa00 83.2%,#42f100 84.9%,#08f400 87.1%,#01f500 87.6%,#00fe37 89.7%,#00ff3f 90.2%,#00ff6b 90.6%,#00ffab 91.0%,#00ffdf 91.5%,#00fcff 91.9%,#00e4ff 93.2%,#00a6ff 95.0%,#0090ff 95.9%,#07f 96.3%,#0051ff 96.7%,#02f 97.2%,#0b00ff 97.6%,#2e00ff 98.0%,#4a00ff 98.9%,#5800ff 99.8%)"></i>
<i style="left:201px;background:linear-gradient(#e20000 0.2%,#ec0000 13.3%,#f00 23.4%,#ff0200 64.0%,#ff1b00 65.7%,#ff5600 67.0%,#ff7a00 69.7%,#ff9600 72.3%,#ffcb00 74.0%,#ffdc00 75.3%,#ffea00 78.8%,#fcff00 80.1%,#a6fb00 82.8%,#44f100 84.5%,#07f400 86.7%,#00f503 87.1%,#00ff68 90.2%,#0f9 90.6%,#00ffd5 91.0%,#00f9ff 91.5%,#00dfff 92.4%,#00cdff 93.2%,#0079ff 95.9%,#0060ff 96.3%,#0007ff 97.2%,#3d00ff 98.0%,#50f 98.9%,#6200ff 99.8%)"></i>
<i style="left:202px;background:linear-gradient(#e30000 0.2%,#ef0000 13.8%,#f00 22.9%,#ff0400 63.5%,#ff1b00 65.3%,#ff5a00 66.6%,#ff7f00 69.2%,#ff9f00 72.3%,#ffda00 74.5%,#fff000 78.8%,#fffe00 79.7%,#97f900 82.8%,#43f100 84.1%,#07f400 86.2%,#00f606 86.7%,#0f4 88.4%,#00ff82 89.7%,#00ff92 90.2%,#00ffc1 90.6%,#00fffe 91.0%,#00c9ff 92.4%,#009bff 94.1%,#0062ff 95.9%,#001aff 96.7%,#10f 97.2%,#3500ff 97.6%,#5700ff 98.5%,#6c00ff 99.8%)"></i>
<i style="left:203px;background:linear-gradient(#e50000 0.2%,#f30000 14.6%,#f00 22.9%,#ff0400 62.7%,#ff1c00 64.8%,#ff5d00 66.2%,#ff8100 68.3%,#ffa800 72.3%,#ffe000 74.5%,#fff600 78.8%,#f6ff00 79.7%,#9ffa00 82.3%,#43f100 83.6%,#07f400 85.8%,#00f607 86.2%,#00ff4f 88.0%,#00ff98 89.3%,#00ffb7 90.2%,#00ffe5 90.6%,#00f2ff 91.0%,#00b2ff 92.4%,#0074ff 94.5%,#04f 95.9%,#0200ff 96.7%,#2800ff 97.2%,#50f 98.0%,#7400fc 99.8%)"></i>
<i style="left:204px;background:linear-gradient(#e70000 0.2%,#f70000 15.5%,#f00 23.8%,#ff0100 42.6%,#ff0500 61.4%,#ff1500 64.0%,#ff1f00 64.4%,#ff5100 65.3%,#ff7400 66.6%,#ff9500 69.7%,#ffb100 72.3%,#ffe600 74.5%,#fffb00 78.8%,#eaff00 79.7%,#a2fa00 81.9%,#43f100 83.2%,#08f400 85.4%,#00f607 85.8%,#00ff5a 87.6%,#00ffa7 88.9%,#00ffd8 90.2%,#00fcff 90.6%,#009cff 92.4%,#0039ff 95.4%,#0026ff 95.9%,#0008ff 96.3%,#3b00ff 97.2%,#6000ff 98.0%,#7700f8 99.3%,#7a00f2 99.8%)"></i>
<i style="left:205px;background:linear-gradient(#e80000 0.2%,#f90000 15.5%,#f00 25.1%,#ff0400 42.6%,#ff0400 59.2%,#ff1700 63.5%,#ff2600 64.0%,#ff5700 64.8%,#ff8100 66.6%,#ffba00 72.3%,#ffed00 74.5%,#faff00 78.8%,#a4fa00 81.4%,#45f100 82.8%,#1cf300 84.1%,#00f606 85.4%,#00ff98 88.0%,#00ffd7 89.3%,#00fff8 90.2%,#00f0ff 90.6%,#0082ff 92.4%,#0008ff 95.9%,#1300ff 96.3%,#30f 96.7%,#6c00ff 98.0%,#8000e7 99.8%)"></i>
<i style="left:206px;background:linear-gradient(#ea0000 0.2%,#fa0000 15.1%,#ff0500 32.5%,#ff0600 43.4%,#f00 55.2%,#ff1c00 63.1%,#ff5e00 64.4%,#ff8e00 66.6%,#ffc300 72.3%,#ffed00 74.0%,#fffd00 77.1%,#f6ff00 78.4%,#a7fb00 81.0%,#8cf800 81.4%,#46f100 82.3%,#1af300 83.6%,#00f607 84.9%,#00ff53 86.2%,#00ffa3 87.6%,#00fff4 89.3%,#00faff 89.7%,#00d9ff 90.6%,#06f 92.4%,#0016ff 94.5%,#0400ff 95.4%,#1400ff 95.9%,#6a00ff 97.6%,#8000e8 98.9%,#8600dd 99.8%)"></i>
<i style="left:207px;background:linear-gradient(#e00 0.2%,#f90000 13.3%,#f00 29.0%,#ff0c00 40.4%,#ff0100 51.7%,#ff1900 61.4%,#ff3600 62.7%,#f60 64.0%,#ff9500 66.2%,#ffb700 69.7%,#fc0 72.3%,#fff400 74.0%,#f8ff00 76.2%,#e7ff00 78.4%,#b6fc00 80.1%,#90f800 81.0%,#46f100 81.9%,#24f200 82.8%,#04f500 84.1%,#00f70b 84.5%,#00fe38 85.4%,#00ff98 86.7%,#00fffe 88.9%,#00d6ff 90.2%,#00a5ff 91.0%,#0043ff 92.4%,#00f 94.1%,#2e00ff 95.9%,#7500fb 97.6%,#8900d7 99.3%,#8c00d2 99.8%)"></i>
<i style="left:208px;background:linear-gradient(#f50000 0.2%,#fc0000 12.0%,#ff0500 29.9%,#ff0e00 42.6%,#ff0b00 52.2%,#ff1900 59.2%,#ff9d00 65.7%,#ffc000 69.2%,#ffd800 72.3%,#fffb00 74.0%,#e5ff00 76.6%,#d0ff00 78.8%,#a9fb00 80.1%,#92f900 80.6%,#46f100 81.4%,#23f200 82.3%,#01f500 83.6%,#00ff3c 84.9%,#00ffa3 86.2%,#00fff1 88.0%,#00f8ff 88.4%,#00c8ff 89.7%,#00a8ff 90.6%,#0068ff 91.5%,#001eff 92.4%,#0009ff 92.8%,#1000ff 93.7%,#4100ff 95.9%,#7400fd 97.2%,#8c00d2 98.9%,#8b00c7 99.8%)"></i>
<i style="left:209px;background:linear-gradient(#fc0000 0.2%,#ff0500 28.2%,#ff1200 41.7%,#ff1400 53.1%,#ff1f00 56.1%,#ff9300 64.0%,#ffc400 67.9%,#ffe500 72.3%,#fffd00 73.6%,#dbff00 75.3%,#c8fe00 78.4%,#a7fb00 79.7%,#90f800 80.1%,#44f100 81.0%,#13f300 82.3%,#00f606 83.2%,#00ff49 84.5%,#00ffae 85.8%,#00fffa 87.6%,#00baff 89.3%,#00a3ff 90.2%,#006eff 91.0%,#001bff 91.9%,#0400ff 92.4%,#3200ff 94.1%,#5300ff 95.9%,#7300fe 96.7%,#8b00cd 98.5%,#8a00bb 99.8%)"></i>
<i style="left:210px;background:linear-gradient(#f00 0.2%,#ff0500 26.4%,#ff1400 41.3%,#ff1b00 50.9%,#ffb100 64.8%,#ffdf00 69.7%,#fff800 72.7%,#ff0 73.1%,#ceff00 74.9%,#adfb00 78.8%,#a3fa00 79.3%,#61f400 80.1%,#3ef000 80.6%,#04f500 82.3%,#00ff3c 83.6%,#00ffb8 85.4%,#00fff4 86.7%,#00f7ff 87.1%,#00acff 88.9%,#0087ff 90.2%,#0070ff 90.6%,#001fff 91.5%,#0700ff 91.9%,#2c00ff 92.8%,#6400ff 95.9%,#7300ff 96.3%,#8a00d5 97.6%,#8900b4 99.3%,#8900af 99.8%)"></i>
<i style="left:211px;background:linear-gradient(#f00 0.2%,#ff0600 24.2%,#ff1800 42.6%,#ff1c00 45.6%,#ff6300 53.1%,#ffb700 64.0%,#ffeb00 68.8%,#fffe00 72.3%,#b6fc00 74.9%,#a2fa00 78.4%,#91f900 78.8%,#38f000 80.1%,#00f501 81.9%,#00ff52 83.2%,#00ffb0 84.5%,#00fcff 86.2%,#00acff 88.0%,#0069ff 90.2%,#004cff 90.6%,#0500ff 91.5%,#3500ff 92.4%,#7400fd 95.9%,#8b00d4 97.2%,#8800ad 98.9%,#8700a4 99.8%)"></i>
<i style="left:212px;background:linear-gradient(#f00 0.2%,#ff0500 21.2%,#ff1c00 39.1%,#ff6100 46.9%,#ffca00 64.0%,#fff700 67.9%,#f7ff00 71.0%,#e3ff00 72.7%,#8df800 75.3%,#68f400 78.4%,#2ef100 79.7%,#05f500 81.0%,#00fc28 81.9%,#00ff43 82.3%,#00ffad 83.6%,#0ff 85.4%,#09f 87.6%,#0043ff 90.2%,#0200ff 91.0%,#3800ff 91.9%,#5d00ff 93.7%,#7200ff 95.0%,#8b00d3 96.7%,#8800a6 98.5%,#84009b 99.8%)"></i>
<i style="left:213px;background:linear-gradient(#f00 0.2%,#ff0500 17.7%,#ff1a00 33.8%,#ff5900 38.2%,#ffd800 63.1%,#fdff00 66.6%,#d7ff00 72.3%,#aefc00 73.6%,#98f900 74.0%,#6bf500 74.5%,#50f200 74.9%,#3bf000 76.6%,#2bf100 78.8%,#08f400 80.1%,#00f608 80.6%,#00fe38 81.4%,#00ffa9 82.8%,#00feff 84.5%,#006fff 87.6%,#001bff 90.2%,#0200ff 90.6%,#3900ff 91.5%,#5f00ff 92.8%,#7400fe 94.1%,#8c00d1 96.3%,#8700a1 98.0%,#800096 99.8%)"></i>
<i style="left:214px;background:linear-gradient(#f00 0.2%,#ff0600 13.8%,#ff1c00 29.5%,#ff5d00 33.0%,#ff8c00 39.5%,#fd0 59.6%,#fdff00 64.4%,#d6ff00 68.3%,#bffd00 72.3%,#a6fb00 73.1%,#46f100 74.0%,#2df100 74.5%,#1cf300 75.3%,#0cf400 78.8%,#04f500 79.3%,#00fa20 80.1%,#00fe36 80.6%,#00ffa6 81.9%,#00fff1 83.2%,#00f7ff 83.6%,#0039ff 87.6%,#0002ff 89.7%,#0b00ff 90.2%,#4b00ff 91.5%,#6f00ff 92.8%,#8b00cc 95.9%,#86009e 97.6%,#7e0092 99.8%)"></i>
<i style="left:215px;background:linear-gradient(#ff0700 0.2%,#ff1e00 22.5%,#ff7200 29.5%,#ff9f00 35.2%,#fff200 57.0%,#f9ff00 61.4%,#d3ff00 65.7%,#b5fc00 69.7%,#a5fb00 72.3%,#8df800 72.7%,#58f300 73.1%,#2ff100 73.6%,#05f500 74.5%,#00f70f 76.6%,#00f917 78.4%,#00ff3d 79.7%,#00ffa8 81.0%,#00fff6 82.3%,#00d9ff 83.2%,#0056ff 85.8%,#000eff 87.1%,#0100ff 87.6%,#2e00ff 90.2%,#7500fb 92.4%,#8b00cc 95.0%,#84009b 97.2%,#7b008e 99.8%)"></i>
<i style="left:216px;background:linear-gradient(#ff1400 0.2%,#ff1b00 9.0%,#ff6300 17.2%,#ffba00 33.4%,#fbff00 51.3%,#cdff00 63.5%,#71f500 71.0%,#4ef200 72.3%,#02f500 73.6%,#00fc2a 74.5%,#00ff3a 75.3%,#00ff57 78.4%,#00ff7d 79.3%,#00fffe 81.4%,#0046ff 84.9%,#000fff 85.8%,#0600ff 86.2%,#2c00ff 87.6%,#4600ff 90.2%,#6f00ff 91.5%,#8900d7 93.2%,#820098 96.7%,#79008a 99.8%)"></i>
<i style="left:217px;background:linear-gradient(#ff7500 0.2%,#ffa700 15.5%,#ffd200 29.9%,#feff00 38.6%,#a8fb00 63.5%,#9dfa00 64.4%,#47f100 67.0%,#32f100 68.8%,#18f300 71.8%,#00f500 72.7%,#00fe34 73.6%,#00ff74 74.5%,#0f8 74.9%,#00ffb3 78.4%,#00ffe3 79.7%,#00fff8 80.1%,#00c3ff 81.4%,#0047ff 83.6%,#0300ff 84.9%,#3d00ff 86.7%,#5200ff 88.9%,#5c00ff 90.2%,#7300fe 91.0%,#8b00cc 92.8%,#810096 96.3%,#760087 99.8%)"></i>
<i style="left:218px;background:linear-gradient(#ffc300 0.2%,#fbff00 28.6%,#a6fb00 48.3%,#5ef300 60.9%,#44f100 63.1%,#03f500 67.9%,#00fa1d 71.4%,#00fd2e 72.3%,#00ff42 72.7%,#00ff92 73.6%,#00ffb1 74.0%,#00ffd3 74.9%,#00fffc 78.4%,#00d5ff 79.7%,#0081ff 81.4%,#000eff 83.2%,#0700ff 83.6%,#5b00ff 86.7%,#6c00ff 88.9%,#7300ff 90.2%,#8c00ce 91.9%,#8700a2 94.1%,#740084 98.9%,#730083 99.8%)"></i>
<i style="left:219px;background:linear-gradient(#e2ff00 0.2%,#c1fe00 27.7%,#9af900 34.7%,#3af000 43.9%,#14f300 55.2%,#00f604 63.1%,#00ff48 68.3%,#00ff7f 71.4%,#00ff9b 72.3%,#00fff9 74.0%,#00d7ff 75.3%,#00b6ff 78.4%,#008eff 79.7%,#0064ff 80.6%,#000aff 81.9%,#0a00ff 82.3%,#3b00ff 84.1%,#7600fa 86.7%,#8000e8 90.2%,#8b00c6 91.5%,#8700a4 92.8%,#720081 98.5%,#71007f 99.8%)"></i>
<i style="left:220px;background:linear-gradient(#49f100 0.2%,#40f000 19.9%,#2cf100 29.0%,#00f603 37.8%,#00fe37 50.9%,#00ff43 62.2%,#00ff58 64.0%,#00ffb0 67.5%,#00fff1 71.8%,#00fffc 72.3%,#00d9ff 73.1%,#0090ff 74.5%,#0078ff 75.3%,#005fff 78.4%,#002dff 79.7%,#0200ff 80.6%,#3f00ff 82.8%,#7400fd 85.4%,#8800da 87.1%,#8c00d2 90.2%,#84009b 92.4%,#6f007b 99.3%,#6e007b 99.8%)"></i>
<i style="left:221px;background:linear-gradient(#00ff52 0.2%,#00ff3f 20.7%,#00ff4d 28.2%,#00ffaf 42.1%,#0fc 50.4%,#00ffb6 62.2%,#00ffc4 64.0%,#00fffc 66.6%,#0af 71.8%,#008aff 72.7%,#004bff 73.6%,#0008ff 74.5%,#0700ff 75.3%,#1000ff 78.8%,#7400fd 84.1%,#8b00cd 86.2%,#8a00bb 87.6%,#8900b9 90.2%,#810096 91.9%,#6c0077 99.3%,#6c0077 99.8%)"></i>
<i style="left:222px;background:linear-gradient(#00bfff 0.2%,#00eaff 26.4%,#00acff 49.1%,#00b7ff 53.5%,#00e5ff 61.4%,#00e3ff 63.1%,#009bff 66.6%,#0050ff 70.5%,#0016ff 72.3%,#0300ff 72.7%,#30f 74.0%,#4000ff 75.3%,#3e00ff 78.8%,#6b00ff 81.9%,#7800f6 82.8%,#8b00c5 85.4%,#8700a0 87.1%,#8700a0 90.2%,#71007f 95.0%,#690073 99.8%)"></i>
<i style="left:223px;background:linear-gradient(#10f 0.2%,#0600ff 52.2%,#0007ff 53.9%,#0057ff 60.0%,#0062ff 62.7%,#0045ff 64.4%,#0100ff 67.0%,#4100ff 72.7%,#6a00ff 74.9%,#6000ff 78.8%,#7400fe 80.6%,#8b00cd 83.2%,#810098 86.2%,#7c008f 91.0%,#6a0074 97.2%,#6b0076 99.8%)"></i>
<i style="left:224px;background:linear-gradient(#8b00cc 0.2%,#6e00ff 35.2%,#5600ff 52.6%,#2c00ff 62.2%,#6300ff 71.8%,#7600f9 73.1%,#8a00d6 74.9%,#7e00eb 78.4%,#8b00cc 81.0%,#86009f 84.1%,#780089 87.6%,#760087 91.0%,#6a0075 95.4%,#6e007a 99.8%)"></i>
<i style="left:225px;background:linear-gradient(#7f0094 0.2%,#6a0075 12.0%,#8900b1 40.8%,#8c00d0 52.6%,#7000ff 59.2%,#6a00ff 64.0%,#7800f6 67.9%,#8c00d3 72.3%,#8700a1 74.5%,#8700a4 76.2%,#8900b7 78.4%,#7f0093 83.2%,#720080 88.0%,#71007f 91.0%,#6a0074 93.7%,#70007e 99.8%)"></i>
<i style="left:226px;background:linear-gradient(#4300ff 0.2%,#7500fc 9.0%,#8b00cc 12.4%,#83009a 16.4%,#690073 31.2%,#83009a 57.4%,#8900b4 63.5%,#8700a2 69.7%,#780089 75.8%,#7c0090 79.7%,#70007d 85.8%,#6c0078 88.4%,#6a0075 91.5%,#720081 99.8%)"></i>
<i style="left:227px;background:linear-gradient(#0070ff 0.2%,#002cff 5.0%,#0200ff 7.6%,#5b00ff 16.4%,#7400fc 19.0%,#8b00cb 23.4%,#83009a 29.9%,#6a0074 55.2%,#750085 69.2%,#6e007b 73.6%,#6c0078 76.2%,#71007f 80.1%,#6b0076 86.2%,#6b0077 91.0%,#760086 97.6%,#750085 99.8%)"></i>
<i style="left:228px;background:linear-gradient(#00ffed 0.2%,#00fcff 2.4%,#00acff 10.3%,#006cff 14.2%,#0200ff 18.1%,#3d00ff 22.5%,#7600fa 30.3%,#8b00cb 38.2%,#810097 50.9%,#6d0079 71.0%,#71007f 76.2%,#6c0077 82.8%,#720081 88.4%,#740083 91.9%,#780089 98.9%,#708 99.8%)"></i>
<i style="left:229px;background:linear-gradient(#00fa1d 0.2%,#00ff41 5.5%,#00fff0 15.9%,#00feff 16.8%,#008fff 22.9%,#0049ff 25.5%,#0006ff 27.7%,#2600ff 31.2%,#50f 38.6%,#7600fa 47.8%,#8b00c6 57.4%,#7e0093 65.7%,#7b008f 73.6%,#7a008d 76.6%,#708 85.4%,#780089 88.9%,#7a008d 98.9%,#7a008c 99.8%)"></i>
<i style="left:230px;background:linear-gradient(#56f300 0.2%,#34f100 5.0%,#00f603 15.9%,#00ff43 20.7%,#00ffc7 25.5%,#00fffd 27.7%,#003dff 36.9%,#00f 40.0%,#4000ff 50.4%,#7400fd 60.9%,#8b00ca 65.7%,#8700a3 71.0%,#8800a9 73.6%,#8800ad 75.8%,#810097 77.9%,#7f0094 93.7%,#7c008f 99.8%)"></i>
<i style="left:231px;background:linear-gradient(#d7ff00 0.2%,#97f900 11.1%,#34f100 20.7%,#00f605 27.7%,#00ff47 30.3%,#00ffa8 33.0%,#00fffb 36.9%,#004eff 49.6%,#0300ff 53.9%,#4100ff 61.8%,#60f 65.7%,#7800f5 67.5%,#8900d8 71.8%,#8600dd 75.8%,#8a00bd 78.4%,#8800ab 85.8%,#8700a1 88.9%,#7f0094 99.3%,#7e0093 99.8%)"></i>
<i style="left:232px;background:linear-gradient(#ffd900 0.2%,#faff00 7.2%,#a0fa00 23.8%,#5af300 27.7%,#36f000 29.5%,#00f500 33.8%,#00ff4d 37.8%,#00ffb1 42.1%,#00feff 47.8%,#0093ff 57.9%,#005dff 60.5%,#0100ff 63.5%,#4d00ff 69.2%,#6700ff 71.8%,#6900ff 75.8%,#7800f7 77.1%,#8400e1 80.1%,#8a00c1 88.4%,#8800ae 93.2%,#8800a5 96.7%,#810096 99.8%)"></i>
<i style="left:233px;background:linear-gradient(#ff9d00 0.2%,#fdff00 18.1%,#c1fe00 27.7%,#a0fa00 30.8%,#3bf000 34.7%,#00f605 41.3%,#0f4 46.1%,#00ff9c 51.3%,#00fff1 61.4%,#00f9ff 62.7%,#0078ff 66.2%,#001dff 69.2%,#0400ff 70.1%,#2f00ff 72.3%,#4a00ff 77.5%,#7400fd 83.2%,#8b00c9 91.5%,#8900b4 96.7%,#84009b 99.8%)"></i>
<i style="left:234px;background:linear-gradient(#ff6300 0.2%,#ffb600 12.9%,#fcff00 26.9%,#9efa00 36.0%,#3bf000 41.3%,#00f603 49.6%,#00ff45 58.7%,#00ff87 62.7%,#00fffe 65.7%,#00c8ff 67.5%,#006eff 71.4%,#0026ff 73.6%,#0001ff 74.9%,#000fff 78.4%,#0400ff 79.7%,#3800ff 82.3%,#7500fb 87.6%,#8c00d2 94.5%,#8800af 98.5%,#8700a3 99.8%)"></i>
<i style="left:235px;background:linear-gradient(#ff1800 0.2%,#ff1f00 1.5%,#ff6000 6.3%,#ffae00 18.6%,#ffe500 28.2%,#f9ff00 32.1%,#9bfa00 42.6%,#39f000 49.1%,#00f603 61.4%,#00fa1d 63.1%,#00fe36 64.0%,#00ffae 66.2%,#00ffdf 67.9%,#00faff 70.1%,#00b8ff 75.3%,#0091ff 78.8%,#0059ff 81.0%,#0004ff 83.2%,#4a00ff 87.1%,#7400fd 91.0%,#8200e4 94.1%,#8b00cb 97.2%,#8800ad 99.8%)"></i>
<i style="left:236px;background:linear-gradient(#ff1200 0.2%,#ff1f00 6.8%,#ff6000 11.6%,#fd0 31.7%,#fcff00 36.5%,#98f900 50.0%,#58f300 56.6%,#1ff200 63.1%,#04f500 64.4%,#00ff4a 66.6%,#00ff79 67.9%,#00ffb3 71.0%,#00ffe5 76.6%,#00faff 78.4%,#0085ff 82.8%,#0029ff 85.4%,#0002ff 86.2%,#3500ff 88.9%,#6000ff 91.5%,#7600fa 93.2%,#8500de 96.7%,#8a00c1 98.9%,#8900b8 99.8%)"></i>
<i style="left:237px;background:linear-gradient(#ff0b00 0.2%,#ff1d00 11.1%,#ff6000 16.4%,#feff00 41.7%,#b2fc00 54.8%,#9dfa00 59.6%,#6cf500 62.7%,#31f100 64.4%,#00f502 66.6%,#00fb23 68.3%,#00ff91 77.5%,#00ffca 79.7%,#00fdff 81.4%,#0074ff 86.2%,#0008ff 88.9%,#1000ff 89.7%,#4b00ff 91.9%,#7300ff 95.0%,#8b00cd 98.9%,#8a00c2 99.8%)"></i>
<i style="left:238px;background:linear-gradient(#ff0500 0.2%,#ff1c00 15.1%,#ff6000 20.7%,#ffea00 43.0%,#f9ff00 48.3%,#affc00 62.7%,#a3fa00 63.5%,#7ff700 64.4%,#3cf000 65.7%,#17f300 67.9%,#00f604 71.8%,#00fd31 78.4%,#00ff48 79.3%,#00ffb6 81.4%,#00fff6 83.6%,#00f2ff 84.5%,#009eff 87.6%,#005eff 89.3%,#0010ff 90.6%,#0900ff 91.0%,#3700ff 92.4%,#7300ff 96.3%,#8c00cd 99.8%)"></i>
<i style="left:239px;background:linear-gradient(#f00 0.2%,#ff1900 18.6%,#ff6000 24.7%,#ffbe00 39.5%,#fcff00 53.9%,#c9ff00 63.1%,#a2fa00 65.3%,#59f300 67.0%,#3df000 68.3%,#0df400 75.8%,#00f501 79.3%,#00ff3d 81.0%,#0f9 82.8%,#0fc 84.5%,#00fffa 86.7%,#00daff 88.0%,#0083ff 90.2%,#0047ff 91.0%,#0002ff 91.9%,#2f00ff 93.7%,#5200ff 95.9%,#7400fd 97.2%,#8900d7 99.8%)"></i>
<i style="left:240px;background:linear-gradient(#f00 0.2%,#ff0b00 14.2%,#ff1b00 22.1%,#ff6400 28.6%,#ffaf00 40.8%,#fbff00 60.0%,#df0 63.5%,#83f700 69.2%,#5bf300 72.3%,#34f100 74.0%,#19f300 79.3%,#00f605 81.0%,#00ff85 84.5%,#00ffd1 87.6%,#00feff 88.9%,#00abff 90.6%,#0019ff 92.8%,#0006ff 93.2%,#3a00ff 95.9%,#7000ff 97.6%,#8400e1 99.8%)"></i>
<i style="left:241px;background:linear-gradient(#f00 0.2%,#ff0700 15.5%,#ff1e00 25.5%,#ff6200 31.2%,#ffa100 42.1%,#fffd00 62.7%,#b9fd00 67.5%,#a3fa00 72.3%,#89f800 73.1%,#5df300 74.5%,#48f100 76.6%,#2df100 79.7%,#00f503 82.3%,#00fd31 84.1%,#00ff6a 86.7%,#00ff9d 88.0%,#0ff 90.2%,#07f 92.4%,#0004ff 95.0%,#1b00ff 95.9%,#5200ff 97.2%,#7400fd 98.5%,#7e00ea 99.8%)"></i>
<i style="left:242px;background:linear-gradient(#f00 0.2%,#ff0600 18.6%,#ff1b00 28.2%,#ff6100 33.8%,#ffb000 50.0%,#ffde00 60.9%,#feff00 64.4%,#d5ff00 67.0%,#b9fd00 72.7%,#87f800 75.3%,#67f400 78.8%,#28f200 81.4%,#00f605 84.1%,#00fe38 87.6%,#00ff64 88.4%,#00feff 91.0%,#00acff 92.4%,#04f 95.0%,#000eff 95.9%,#10f 96.3%,#4000ff 97.2%,#7000ff 98.9%,#7900f4 99.8%)"></i>
<i style="left:243px;background:linear-gradient(#f00 0.2%,#ff0600 21.6%,#ff1c00 30.8%,#ff5e00 36.5%,#ffd700 62.7%,#fbff00 65.7%,#e4ff00 67.9%,#d2ff00 72.7%,#adfb00 75.3%,#9af900 78.8%,#56f300 81.0%,#30f100 82.3%,#0df400 84.9%,#00f500 87.1%,#00fe37 88.9%,#0fe 91.5%,#00f5ff 91.9%,#00b7ff 93.2%,#007cff 95.0%,#0068ff 95.4%,#0049ff 95.9%,#001aff 96.3%,#0f00ff 96.7%,#2d00ff 97.2%,#5900ff 98.5%,#7400fe 99.8%)"></i>
<i style="left:244px;background:linear-gradient(#f00 0.2%,#ff0500 24.7%,#ff1d00 33.4%,#ff5c00 39.5%,#ffcb00 63.1%,#fffd00 66.6%,#e6ff00 72.7%,#c1fe00 75.8%,#a7fb00 79.7%,#97f900 80.6%,#39f000 83.2%,#18f300 86.7%,#02f500 88.4%,#00fd33 89.7%,#00ff4e 90.2%,#00ffc1 91.5%,#00fff5 92.4%,#00f5ff 92.8%,#0096ff 95.4%,#007cff 95.9%,#0052ff 96.3%,#0019ff 96.7%,#10f 97.2%,#2d00ff 97.6%,#5e00ff 99.3%,#6700ff 99.8%)"></i>
<i style="left:245px;background:linear-gradient(#f00 0.2%,#ff0600 27.7%,#ff1d00 36.0%,#ff5e00 43.9%,#ffb900 62.7%,#fff400 67.0%,#fbff00 72.7%,#d5ff00 75.8%,#befd00 79.3%,#a2fa00 81.4%,#4bf200 84.1%,#34f100 85.8%,#15f300 88.4%,#03f500 89.3%,#00fb21 90.2%,#00fe39 90.6%,#00ffb3 91.9%,#00ffe1 92.8%,#0ff 93.7%,#00beff 95.4%,#00a6ff 95.9%,#0080ff 96.3%,#01f 97.2%,#1400ff 97.6%,#2e00ff 98.0%,#5900ff 99.8%)"></i>
<i style="left:246px;background:linear-gradient(#f00 0.2%,#ff0500 29.9%,#ff2000 39.5%,#ff6500 49.1%,#ffac00 62.7%,#ffea00 67.5%,#fbff00 74.0%,#e2ff00 76.6%,#c4fe00 80.1%,#a1fa00 82.8%,#65f400 84.9%,#02f500 90.2%,#00fd30 91.0%,#00ffa3 92.4%,#0fc 93.2%,#00f9ff 95.0%,#00cbff 95.9%,#0078ff 96.7%,#0008ff 97.6%,#2b00ff 98.5%,#4c00ff 99.8%)"></i>
<i style="left:247px;background:linear-gradient(#f00 0.2%,#ff0500 32.5%,#ff1f00 43.0%,#ff6400 52.2%,#ff9b00 62.2%,#ffdf00 67.5%,#fff600 74.0%,#f1ff00 77.1%,#c7fe00 81.0%,#9af900 84.5%,#58f300 87.6%,#30f100 88.9%,#05f500 90.6%,#00f80f 91.0%,#00ff49 91.9%,#00ff8e 92.8%,#00ffb7 93.7%,#00fff5 95.4%,#00f0ff 95.9%,#009dff 96.7%,#0002ff 98.0%,#3400ff 99.3%,#3e00ff 99.8%)"></i>
<i style="left:248px;background:linear-gradient(#f00 0.2%,#ff0500 35.2%,#ff1d00 46.5%,#ff6100 55.2%,#ff9100 62.7%,#ffcf00 67.0%,#fff200 74.9%,#fbff00 77.9%,#abfb00 84.5%,#a0fa00 86.2%,#6ef500 88.0%,#37f000 89.3%,#07f400 91.0%,#00f70b 91.5%,#00ff3c 92.4%,#0f7 93.2%,#00ffed 95.9%,#00ecff 96.3%,#0001ff 98.5%,#2f00ff 99.8%)"></i>
<i style="left:249px;background:linear-gradient(#f00 0.2%,#ff0500 38.2%,#ff1f00 50.0%,#ff8900 63.1%,#ffc200 66.6%,#fe0 76.2%,#fbff00 79.3%,#b8fd00 84.5%,#a1fa00 87.6%,#6af500 88.9%,#3df000 89.7%,#07f400 91.5%,#00f608 91.9%,#00ffa1 95.0%,#00ffce 95.9%,#00fff2 96.3%,#00deff 96.7%,#002aff 98.5%,#0008ff 98.9%,#1900ff 99.8%)"></i>
<i style="left:250px;background:linear-gradient(#f00 0.2%,#ff0500 41.7%,#ff1e00 53.1%,#ff7b00 63.1%,#ffb900 66.6%,#ffe300 76.2%,#fbff00 80.1%,#c5fe00 84.5%,#a7fb00 88.0%,#a1fa00 88.4%,#30f100 90.6%,#07f400 91.9%,#00f603 92.4%,#00ff5f 94.5%,#00ffb0 95.9%,#00fdff 96.7%,#0078ff 98.0%,#0013ff 99.3%,#0400ff 99.8%)"></i>
<i style="left:251px;background:linear-gradient(#f00 0.2%,#ff0500 45.2%,#ff1d00 56.1%,#ff7600 63.5%,#fa0 66.2%,#ffc200 69.7%,#ffd300 75.8%,#fffe00 80.6%,#d1ff00 84.5%,#b9fd00 87.6%,#97f900 89.3%,#63f400 90.2%,#40f000 90.6%,#0ff400 91.9%,#01f500 92.8%,#00fe38 94.5%,#00ff6a 95.4%,#00ff8b 95.9%,#00ffe3 96.7%,#00eaff 97.2%,#0097ff 98.0%,#0021ff 99.8%)"></i>
<i style="left:252px;background:linear-gradient(#f00 0.2%,#ff0500 48.7%,#ff1f00 58.7%,#ff6800 63.5%,#ffa100 66.2%,#ffb900 69.2%,#ffcd00 76.2%,#ffe500 78.4%,#ff0 81.4%,#d9ff00 84.9%,#c5fe00 87.6%,#9dfa00 89.7%,#5bf300 90.6%,#38f000 91.0%,#0ff400 92.4%,#00f603 93.7%,#00ff41 95.4%,#00ff64 95.9%,#00fff7 97.2%,#00b1ff 98.0%,#004bff 99.8%)"></i>
<i style="left:253px;background:linear-gradient(#f00 0.2%,#ff0500 51.7%,#ff1d00 60.5%,#ff4c00 63.1%,#ff9800 66.2%,#ffb100 69.2%,#ffc500 76.2%,#ffde00 78.4%,#feff00 82.3%,#deff00 85.8%,#d0ff00 87.6%,#a9fb00 89.3%,#9ffa00 90.2%,#4cf200 91.0%,#30f100 91.5%,#0ff400 92.8%,#02f500 94.1%,#00f918 95.0%,#00ff3d 95.9%,#00ffda 97.2%,#00f3ff 97.6%,#00adff 98.5%,#0070ff 99.8%)"></i>
<i style="left:254px;background:linear-gradient(#f00 0.2%,#ff0500 54.8%,#ff1900 61.8%,#ff3500 63.1%,#ff6f00 64.8%,#ff9b00 67.0%,#ffb200 71.8%,#ffbd00 76.2%,#ffd600 78.4%,#fdff00 83.2%,#daff00 87.6%,#a7fb00 89.7%,#a2fa00 90.2%,#92f900 90.6%,#3bf000 91.5%,#17f300 92.8%,#00f501 95.0%,#00fb27 95.9%,#00ff47 96.3%,#00ffbd 97.2%,#0fe 97.6%,#00e6ff 98.0%,#00b1ff 98.9%,#008fff 99.8%)"></i>
<i style="left:255px;background:linear-gradient(#f00 0.2%,#ff0500 57.9%,#ff1700 62.7%,#ff2f00 63.5%,#ff6300 64.8%,#ff9200 67.0%,#fa0 71.4%,#ffb000 75.8%,#ffcf00 78.4%,#fffc00 83.2%,#e3ff00 87.6%,#abfb00 89.7%,#99f900 90.6%,#7bf600 91.0%,#4ef200 91.5%,#33f100 91.9%,#12f400 93.7%,#01f500 95.4%,#00fc2d 96.3%,#00ff5c 96.7%,#00ff9c 97.2%,#0ff 98.0%,#00cbff 98.9%,#0af 99.8%)"></i>
<i style="left:256px;background:linear-gradient(#f00 0.2%,#ff0400 59.6%,#ff1900 63.5%,#ff6200 65.3%,#ff8d00 67.5%,#ffa400 71.8%,#ffa700 75.8%,#ffc800 77.9%,#ffda00 80.1%,#fffa00 83.6%,#f6ff00 86.7%,#e1ff00 88.0%,#affc00 89.7%,#9efa00 90.6%,#88f800 91.0%,#3cf000 91.9%,#1ef200 93.2%,#01f500 95.9%,#00fe39 96.7%,#00ffb4 97.6%,#00ffe1 98.0%,#00f9ff 98.5%,#00c4ff 99.8%)"></i>
<i style="left:257px;background:linear-gradient(#f00 0.2%,#ff0400 61.4%,#ff1800 64.0%,#ff6200 65.7%,#ff8700 67.9%,#ff9d00 71.8%,#ff9f00 75.8%,#ffc200 77.9%,#ffd400 80.1%,#fff400 83.2%,#fcff00 87.1%,#e9ff00 88.0%,#b2fc00 89.7%,#a1fa00 90.6%,#74f600 91.5%,#4cf200 91.9%,#35f100 92.4%,#0bf400 95.4%,#00f603 96.3%,#00fb24 96.7%,#00ff51 97.2%,#00ff91 97.6%,#00ffc4 98.0%,#00ffe9 98.5%,#00fdff 98.9%,#00deff 99.8%)"></i>
<i style="left:258px;background:linear-gradient(#f00 0.2%,#ff0400 62.7%,#ff1800 64.4%,#f50 65.7%,#ff7900 67.5%,#ff9600 71.4%,#ff9700 75.8%,#ffbd00 77.9%,#ffcd00 80.1%,#fff100 83.2%,#ff0 87.6%,#b6fc00 89.7%,#a4fa00 90.6%,#5df300 91.9%,#3ef000 92.4%,#14f300 95.0%,#04f500 96.3%,#00f80f 96.7%,#00fd33 97.2%,#00ffa6 98.0%,#0fc 98.5%,#00fff8 99.3%,#00f7ff 99.8%)"></i>
<i style="left:259px;background:linear-gradient(#f00 0.2%,#ff0200 63.1%,#ff1900 64.8%,#f50 66.2%,#ff7400 67.9%,#ff8e00 71.4%,#ff8e00 75.8%,#ffb800 77.9%,#ffce00 80.6%,#fff000 83.6%,#fffd00 87.6%,#f9ff00 88.0%,#bafd00 89.7%,#96f900 91.0%,#3bf000 92.8%,#01f500 96.7%,#00ff45 97.6%,#00ff80 98.0%,#00ffaf 98.5%,#00ffeb 99.8%)"></i>
<i style="left:260px;background:linear-gradient(#f00 0.2%,#f00 63.5%,#ff1b00 65.3%,#ff5300 66.6%,#ff7400 68.8%,#ff8700 72.3%,#ff8500 75.8%,#ffb200 77.9%,#ffc900 80.6%,#ffec00 83.6%,#fbff00 88.0%,#befd00 89.7%,#9bfa00 91.0%,#47f100 92.8%,#2af100 94.1%,#07f400 96.7%,#00f709 97.2%,#00fc2d 97.6%,#00ff8a 98.5%,#00ffab 98.9%,#00ffcf 99.8%)"></i>
</div>
<div class="h" style="left:383px;top:27px;width:257px;height:225px">
<i style="left:0px;background:linear-gradient(#ffb000 0.2%,#ffbe00 10.0%,#ffd300 15.8%,#fcff00 21.1%,#dbff00 26.9%,#aafb00 42.0%,#9efa00 43.8%,#61f400 47.3%,#3cf000 51.8%,#14f300 67.8%,#00f502 70.9%,#00ff49 72.7%,#00ffa4 74.4%,#00ffce 76.2%,#00fff8 80.7%,#00f9ff 82.4%,#00c6ff 85.6%,#0068ff 90.0%,#0023ff 91.8%,#0005ff 93.6%,#0001ff 94.0%,#3e00ff 96.2%,#7500fb 99.8%)"></i>
<i style="left:1px;background:linear-gradient(#ffb200 0.2%,#ffc000 10.0%,#ffd500 15.3%,#faff00 20.7%,#d8ff00 26.4%,#a7fb00 42.0%,#9cfa00 43.3%,#5df300 46.9%,#3bf000 50.9%,#11f400 67.8%,#00f500 70.4%,#00ff3e 72.2%,#00ff9f 74.0%,#00ffcf 75.8%,#00fff9 79.8%,#00f6ff 81.6%,#00c7ff 84.7%,#005aff 90.0%,#001bff 91.8%,#0300ff 93.6%,#3900ff 95.3%,#7400fc 98.9%,#7900f4 99.8%)"></i>
<i style="left:2px;background:linear-gradient(#ffb500 0.2%,#ffc400 10.4%,#ffd700 14.9%,#fdff00 19.8%,#d9ff00 25.1%,#a4fa00 42.0%,#90f800 43.3%,#54f200 46.9%,#39f000 50.4%,#0ff400 67.8%,#01f500 70.0%,#00fe38 71.8%,#00ffac 74.0%,#00ffd8 75.8%,#0ff 79.8%,#00c8ff 83.8%,#004aff 90.0%,#0013ff 91.8%,#0700ff 93.1%,#3400ff 94.4%,#7300fe 98.0%,#7d00ec 99.8%)"></i>
<i style="left:3px;background:linear-gradient(#ffb800 0.2%,#ffc700 10.4%,#ffde00 14.9%,#fcff00 19.3%,#d7ff00 24.7%,#a0fa00 42.0%,#5cf300 45.6%,#3af000 49.1%,#0ff400 67.3%,#02f500 69.6%,#00fe33 71.3%,#00ffa8 73.6%,#00ffd9 75.3%,#00fffd 78.4%,#00c2ff 83.3%,#0075ff 86.9%,#003aff 90.0%,#000aff 91.8%,#0003ff 92.2%,#3900ff 94.0%,#7500fb 97.6%,#8100e5 99.8%)"></i>
<i style="left:4px;background:linear-gradient(#ffbc00 0.2%,#ffca00 10.9%,#faff00 18.9%,#d4ff00 24.2%,#a2fa00 41.1%,#89f800 42.4%,#4cf200 46.0%,#36f100 49.1%,#0df400 67.3%,#00f605 69.6%,#00ff40 71.3%,#00ffa2 73.1%,#00ffd9 74.9%,#00fffd 77.6%,#0bf 82.9%,#0069ff 86.4%,#001fff 90.4%,#0002ff 91.8%,#3400ff 93.1%,#7400fc 96.7%,#8600de 99.8%)"></i>
<i style="left:5px;background:linear-gradient(#ffbf00 0.2%,#fc0 10.4%,#fcff00 18.0%,#d4ff00 23.3%,#a1fa00 40.7%,#54f200 44.7%,#39f000 47.3%,#0af400 67.3%,#00f502 69.1%,#00ff3c 70.9%,#00ffb0 73.1%,#00ffec 75.3%,#00fbff 77.1%,#00adff 82.9%,#0050ff 86.4%,#0008ff 90.9%,#00f 91.3%,#3800ff 92.7%,#7300fe 95.8%,#8a00d6 99.8%)"></i>
<i style="left:6px;background:linear-gradient(#ffc200 0.2%,#fc0 9.6%,#feff00 17.1%,#d3ff00 22.4%,#9efa00 40.2%,#55f300 43.8%,#38f000 46.4%,#19f300 60.2%,#06f500 67.8%,#00f500 68.7%,#00ff3c 70.4%,#00ffac 72.7%,#00ffec 74.9%,#00fcff 76.2%,#009eff 82.9%,#003dff 86.0%,#0004ff 90.4%,#0800ff 90.9%,#3c00ff 92.2%,#7200ff 94.9%,#8c00cf 99.8%)"></i>
<i style="left:7px;background:linear-gradient(#ffc400 0.2%,#ffcf00 8.7%,#ff0 16.2%,#d0ff00 22.0%,#aafb00 35.8%,#a0fa00 39.3%,#50f200 43.3%,#38f000 45.6%,#1df300 56.2%,#08f400 66.9%,#01f500 68.2%,#00ff3c 70.0%,#00ffb9 72.7%,#00fff6 74.9%,#00f7ff 75.8%,#009aff 82.4%,#0063ff 84.2%,#002aff 85.6%,#000dff 87.8%,#00f 89.6%,#2600ff 90.9%,#6000ff 93.1%,#7800f6 94.9%,#8b00ca 99.3%,#8b00c6 99.8%)"></i>
<i style="left:8px;background:linear-gradient(#ffc700 0.2%,#ffcf00 7.3%,#fffe00 14.9%,#c9ff00 22.4%,#9ffa00 38.4%,#4af100 42.9%,#33f100 45.6%,#17f300 58.0%,#03f500 67.3%,#01f500 67.8%,#00ff3d 69.6%,#00ffb6 72.2%,#00fff7 74.4%,#00feff 74.9%,#00d4ff 77.1%,#0094ff 82.0%,#005fff 83.8%,#000dff 85.6%,#0400ff 86.9%,#1d00ff 89.6%,#6f00ff 93.1%,#8c00cd 98.0%,#8a00be 99.8%)"></i>
<i style="left:9px;background:linear-gradient(#ffcb00 0.2%,#ffd200 6.0%,#feff00 13.6%,#c1fe00 22.9%,#9ffa00 37.1%,#3cf000 42.9%,#1ff200 50.4%,#03f500 66.9%,#01f500 67.3%,#00ff3e 69.1%,#00ffa4 71.3%,#00fff7 74.0%,#00efff 74.9%,#00c1ff 77.6%,#0085ff 82.0%,#005cff 83.3%,#00f 85.1%,#1c00ff 86.9%,#4600ff 90.4%,#7400fd 92.7%,#8b00cd 97.1%,#8900b6 99.8%)"></i>
<i style="left:10px;background:linear-gradient(#ffd400 0.2%,#fd0 5.6%,#fbff00 12.2%,#b9fd00 23.3%,#9af900 35.8%,#38f000 42.4%,#1cf300 50.4%,#03f500 66.4%,#01f500 66.9%,#00ff40 68.7%,#00ff95 70.4%,#00fff8 73.6%,#00ecff 74.4%,#00bfff 76.7%,#007eff 81.6%,#0059ff 82.9%,#0500ff 84.7%,#2900ff 86.0%,#5200ff 90.0%,#7700f8 92.2%,#8b00cc 96.2%,#8800ae 99.8%)"></i>
<i style="left:11px;background:linear-gradient(#ffe400 0.2%,#ffed00 6.0%,#f9ff00 10.4%,#b4fc00 23.3%,#9ffa00 33.6%,#39f000 41.1%,#1bf300 48.7%,#01f500 66.4%,#0f4 68.2%,#00ff9b 70.0%,#00fff8 73.1%,#00e9ff 74.0%,#00beff 75.8%,#006fff 81.6%,#0056ff 82.4%,#0600ff 84.2%,#2c00ff 85.1%,#4700ff 87.3%,#6500ff 90.0%,#7a00f2 91.8%,#8b00cb 95.3%,#8800a6 99.8%)"></i>
<i style="left:12px;background:linear-gradient(#fff400 0.2%,#fbff00 7.8%,#affc00 22.9%,#9ffa00 31.3%,#3cf000 39.3%,#1af300 46.9%,#00f500 66.0%,#00ff49 67.8%,#00ffa3 69.6%,#00fff9 72.7%,#0cf 74.4%,#00a3ff 76.7%,#005eff 81.6%,#002cff 82.9%,#0600ff 83.8%,#3100ff 84.7%,#4f00ff 86.4%,#7500fb 90.0%,#8b00c9 94.4%,#86009f 99.8%)"></i>
<i style="left:13px;background:linear-gradient(#f9ff00 0.2%,#f0ff00 6.4%,#a9fb00 22.9%,#9dfa00 28.7%,#3cf000 37.1%,#16f300 46.9%,#00f502 65.6%,#00fe38 66.9%,#00ff98 68.7%,#00ffc4 70.0%,#00fffa 72.2%,#00b1ff 74.9%,#0054ff 81.1%,#002bff 82.4%,#0300ff 83.3%,#30f 84.2%,#5900ff 86.0%,#7700f8 89.1%,#8b00cc 93.1%,#85009d 98.9%,#83009a 99.8%)"></i>
<i style="left:14px;background:linear-gradient(#e6ff00 0.2%,#dbff00 7.3%,#a4fa00 22.4%,#9af900 25.6%,#39f000 34.9%,#11f400 46.9%,#00f500 64.7%,#00ff41 66.4%,#00ffa2 68.2%,#00ffe0 70.4%,#00fffd 71.8%,#00abff 74.4%,#006eff 78.4%,#0035ff 81.6%,#0100ff 82.9%,#30f 83.8%,#6100ff 85.6%,#7700f7 87.8%,#8b00c6 92.7%,#85009d 97.6%,#810097 99.8%)"></i>
<i style="left:15px;background:linear-gradient(#d3ff00 0.2%,#c8fe00 7.8%,#99f900 21.6%,#39f000 31.3%,#0ff400 45.1%,#00f604 63.8%,#00ff39 65.6%,#00ff9b 67.3%,#00ffd5 69.1%,#00faff 71.3%,#00a5ff 74.0%,#0075ff 76.7%,#0035ff 80.7%,#0013ff 82.0%,#00f 82.4%,#30f 83.3%,#6700ff 85.1%,#7a00f2 86.9%,#8b00c5 91.8%,#85009d 96.2%,#7f0094 99.8%)"></i>
<i style="left:16px;background:linear-gradient(#bdfd00 0.2%,#affc00 9.1%,#99f900 16.2%,#3af000 26.9%,#13f300 38.9%,#00f604 61.1%,#00fd31 64.2%,#00ff3c 64.7%,#00ffac 66.9%,#00ffea 69.1%,#00f9ff 70.4%,#0089ff 74.4%,#0017ff 81.1%,#0300ff 82.0%,#30f 82.9%,#7400fd 85.1%,#8500de 87.8%,#8900b9 91.8%,#85009c 94.9%,#7d0091 99.8%)"></i>
<i style="left:17px;background:linear-gradient(#a5fb00 0.2%,#9bf900 7.8%,#37f000 21.6%,#09f400 37.1%,#00f605 57.6%,#00ff51 63.3%,#00ff76 64.7%,#00ffbd 66.4%,#0ff 69.1%,#006dff 74.9%,#0003ff 81.1%,#1f00ff 82.0%,#6100ff 83.8%,#7700f8 84.7%,#8700db 86.4%,#8800ac 91.8%,#820098 94.4%,#7b008e 99.8%)"></i>
<i style="left:18px;background:linear-gradient(#60f400 0.2%,#55f300 6.4%,#31f100 14.0%,#00f604 33.6%,#00f919 38.0%,#00fa1d 52.7%,#00ff46 57.6%,#00ffa4 64.2%,#00fffd 67.8%,#0047ff 75.8%,#0001ff 80.2%,#7000ff 83.8%,#8900d7 85.6%,#810096 93.6%,#79008c 99.8%)"></i>
<i style="left:19px;background:linear-gradient(#25f200 0.2%,#16f300 10.9%,#00f604 23.3%,#00fd2f 29.6%,#00ff4d 31.8%,#00ff87 35.8%,#00ff91 39.3%,#00ff97 53.1%,#00ffd6 64.2%,#0ff 66.4%,#00b3ff 69.6%,#007eff 72.2%,#0030ff 75.8%,#0004ff 78.9%,#6500ff 82.9%,#7200ff 83.3%,#8c00d0 85.1%,#8900b2 88.2%,#7e0092 93.6%,#780089 99.8%)"></i>
<i style="left:20px;background:linear-gradient(#00f608 0.2%,#00f814 7.8%,#00ff4b 18.9%,#00ff8f 26.9%,#00fffc 34.9%,#00f6ff 40.2%,#00f5ff 64.2%,#0083ff 70.4%,#004cff 73.1%,#0014ff 76.2%,#0002ff 77.6%,#3d00ff 80.2%,#6900ff 82.4%,#7500fc 82.9%,#8b00d4 84.2%,#8900b3 86.0%,#7b008f 93.6%,#760086 99.8%)"></i>
<i style="left:21px;background:linear-gradient(#00ff73 0.2%,#00ff7b 5.6%,#00ffcb 16.2%,#00fdff 26.0%,#00a3ff 34.4%,#0096ff 38.9%,#00b9ff 62.0%,#00b3ff 64.7%,#0049ff 71.8%,#0008ff 75.3%,#0600ff 76.2%,#3b00ff 78.4%,#7000ff 82.0%,#8c00ce 83.8%,#8800a8 85.6%,#78008a 94.0%,#740084 99.8%)"></i>
<i style="left:22px;background:linear-gradient(#00fff3 0.2%,#00fffd 6.0%,#00abff 18.9%,#0076ff 26.9%,#001dff 34.4%,#0010ff 38.4%,#0037ff 45.6%,#0067ff 55.8%,#0072ff 64.2%,#001dff 72.2%,#0002ff 74.0%,#3800ff 76.2%,#7400fd 81.1%,#8b00d5 82.9%,#8800a5 84.7%,#810097 86.9%,#720081 99.8%)"></i>
<i style="left:23px;background:linear-gradient(#008fff 0.2%,#0085ff 5.6%,#0053ff 10.9%,#000dff 17.6%,#0500ff 20.2%,#3700ff 34.0%,#30f 42.9%,#0004ff 57.6%,#0014ff 64.2%,#0400ff 71.8%,#4d00ff 75.3%,#7400fc 78.9%,#8900d7 82.0%,#86009e 84.2%,#7c0090 88.2%,#70007e 99.8%)"></i>
<i style="left:24px;background:linear-gradient(#1200ff 0.2%,#1d00ff 6.9%,#4600ff 16.7%,#6100ff 26.9%,#6000ff 42.4%,#2b00ff 63.8%,#3d00ff 71.8%,#7500fb 75.8%,#8b00c8 81.6%,#820099 83.8%,#78008a 90.0%,#6f007c 98.9%,#6f007b 99.8%)"></i>
<i style="left:25px;background:linear-gradient(#5600ff 0.2%,#6300ff 8.7%,#7800f7 15.3%,#8500df 25.6%,#7e00ec 44.7%,#6900ff 54.4%,#5000ff 63.3%,#6000ff 70.9%,#7500fb 73.1%,#8c00cf 77.6%,#8800a7 82.0%,#7e0092 83.8%,#6d007a 97.1%,#6d0079 99.8%)"></i>
<i style="left:26px;background:linear-gradient(#8c00ce 0.2%,#8a00bc 12.7%,#8800ae 26.4%,#8b00c7 46.4%,#8400e1 54.4%,#7300ff 62.9%,#7d00ee 70.0%,#8b00c8 74.4%,#810097 82.0%,#740083 86.9%,#6b0076 99.3%,#6b0076 99.8%)"></i>
<i style="left:27px;background:linear-gradient(#708 0.2%,#86009f 48.2%,#8a00c1 56.2%,#8800da 62.9%,#8b00ca 68.7%,#820098 76.7%,#770087 83.3%,#690073 96.7%,#690073 99.8%)"></i>
<i style="left:28px;background:linear-gradient(#70007e 0.2%,#6b0076 13.6%,#810097 55.3%,#8900b2 63.8%,#7c0090 74.9%,#720081 83.3%,#6b0076 92.7%,#6c0078 99.8%)"></i>
<i style="left:29px;background:linear-gradient(#820098 0.2%,#750085 14.9%,#6b0075 34.9%,#79008b 56.2%,#7f0093 65.6%,#6b0076 84.7%,#6d0079 91.8%,#70007d 99.8%)"></i>
<i style="left:30px;background:linear-gradient(#8300e2 0.2%,#8800d9 6.0%,#83009b 15.8%,#730082 33.6%,#6b0076 53.6%,#760087 64.7%,#6c0077 76.7%,#6c0078 84.7%,#720080 91.8%,#730082 99.8%)"></i>
<i style="left:31px;background:linear-gradient(#5100ff 0.2%,#5a00ff 6.4%,#7600f9 11.3%,#8b00ca 17.6%,#86009f 23.8%,#6d0078 56.2%,#6c0078 61.1%,#6c0078 69.1%,#71007f 83.8%,#780089 92.2%,#708 99.8%)"></i>
<i style="left:32px;background:linear-gradient(#0900ff 0.2%,#1000ff 5.1%,#7600fa 18.4%,#8b00cc 24.7%,#800095 49.1%,#6f007c 64.7%,#760086 73.6%,#7b008f 91.8%,#7a008d 99.8%)"></i>
<i style="left:33px;background:linear-gradient(#00d9ff 0.2%,#00d3ff 4.2%,#00a7ff 7.3%,#0065ff 10.0%,#0004ff 12.7%,#7400fc 24.2%,#8b00ca 44.2%,#7e0092 59.3%,#7d0091 67.3%,#7e0093 98.9%,#7e0092 99.8%)"></i>
<i style="left:34px;background:linear-gradient(#00ff73 0.2%,#00ff7a 4.2%,#00ffb1 7.8%,#00fffc 11.8%,#007fff 18.0%,#0003ff 22.0%,#3400ff 27.3%,#6400ff 39.8%,#7700f8 43.8%,#8b00c6 55.8%,#8700a3 63.3%,#8800ae 71.3%,#86009f 76.7%,#86009f 88.7%,#8700a0 94.9%,#810098 99.8%)"></i>
<i style="left:35px;background:linear-gradient(#0df400 0.2%,#04f500 6.0%,#00f812 8.2%,#00ff46 11.8%,#00ffb7 17.1%,#00fffe 21.1%,#00b6ff 25.6%,#05f 36.2%,#0300ff 41.1%,#4900ff 47.8%,#7500fc 53.6%,#8a00d5 64.2%,#8b00d4 71.8%,#8a00c0 76.2%,#8a00c2 83.8%,#8900b8 92.2%,#8700a1 99.8%)"></i>
<i style="left:36px;background:linear-gradient(#60f400 0.2%,#5af300 4.7%,#03f500 15.3%,#00ff41 21.1%,#00ffa0 26.0%,#00ffcd 31.3%,#00fbff 39.3%,#003eff 48.7%,#0300ff 51.8%,#3900ff 55.3%,#6700ff 61.6%,#7800f7 71.8%,#8400e0 76.2%,#8100e6 82.4%,#8c00cd 91.8%,#8900b1 99.8%)"></i>
<i style="left:37px;background:linear-gradient(#c2fe00 0.2%,#b8fd00 6.0%,#9af900 10.4%,#39f000 17.6%,#00f502 26.0%,#00ff58 35.3%,#00ffa0 41.1%,#00fff4 46.0%,#00f8ff 46.9%,#0073ff 54.4%,#0001ff 58.4%,#3100ff 62.9%,#4b00ff 71.8%,#7300ff 75.8%,#6900ff 82.0%,#7d00ee 86.9%,#8b00c5 98.9%,#8a00c1 99.8%)"></i>
<i style="left:38px;background:linear-gradient(#faff00 0.2%,#f1ff00 5.6%,#a3fa00 18.9%,#84f700 21.6%,#36f000 27.3%,#00f603 37.1%,#00ff3e 44.7%,#00fffb 53.6%,#003dff 65.1%,#0100ff 70.9%,#3900ff 75.8%,#4800ff 82.9%,#6900ff 87.3%,#7700f7 91.3%,#8c00d1 99.8%)"></i>
<i style="left:39px;background:linear-gradient(#ffde00 0.2%,#ffe700 6.0%,#f9ff00 10.9%,#9efa00 28.2%,#3ff000 34.9%,#00f605 49.1%,#00ff3d 53.6%,#00ffbf 58.4%,#00fffd 61.6%,#00c9ff 66.4%,#09f 71.3%,#0047ff 74.9%,#0014ff 77.6%,#0300ff 79.8%,#2a00ff 84.7%,#5d00ff 91.3%,#7400fd 93.6%,#8500df 99.8%)"></i>
<i style="left:40px;background:linear-gradient(#ffbf00 0.2%,#ffc900 6.9%,#feff00 16.2%,#a0fa00 35.3%,#5df300 42.0%,#33f100 48.2%,#00f502 57.6%,#00ff47 61.6%,#00ffa9 65.6%,#00faff 72.2%,#0096ff 77.1%,#0200ff 87.3%,#2a00ff 90.4%,#6200ff 94.4%,#7700f7 98.0%,#7d00ed 99.8%)"></i>
<i style="left:41px;background:linear-gradient(#ffa300 0.2%,#ffae00 6.9%,#ff0 22.4%,#a2fa00 45.1%,#64f400 51.8%,#34f100 56.2%,#00f501 64.2%,#00ff4c 68.7%,#00fffb 76.2%,#00b0ff 80.7%,#0069ff 86.4%,#0007ff 90.9%,#2a00ff 92.7%,#5a00ff 96.2%,#7500fc 99.8%)"></i>
<i style="left:42px;background:linear-gradient(#ff8500 0.2%,#ff8e00 6.0%,#fff100 25.1%,#f8ff00 30.9%,#acfb00 52.2%,#97f900 54.9%,#37f000 62.0%,#00f604 69.6%,#00ff3d 73.1%,#00ffc1 77.6%,#00fcff 80.2%,#00adff 86.4%,#004aff 90.9%,#0500ff 93.1%,#3700ff 95.3%,#6400ff 99.8%)"></i>
<i style="left:43px;background:linear-gradient(#ff6400 0.2%,#ff6d00 6.0%,#ffc000 19.3%,#ff0 36.7%,#ceff00 53.1%,#9dfa00 60.2%,#36f000 67.3%,#00f501 73.6%,#00ff45 77.1%,#00ffb7 80.7%,#00ffe9 83.8%,#00fcff 85.6%,#009cff 89.6%,#0064ff 92.2%,#0007ff 94.4%,#1e00ff 95.8%,#3b00ff 97.6%,#5000ff 99.8%)"></i>
<i style="left:44px;background:linear-gradient(#ff3400 0.2%,#ff3d00 5.1%,#ffa400 18.0%,#ffca00 26.9%,#fffa00 46.0%,#f6ff00 51.3%,#b5fc00 62.0%,#98f900 65.6%,#31f100 71.8%,#00f502 77.1%,#00ff3f 80.2%,#00ff8a 82.9%,#00ffd6 86.4%,#00fff7 87.3%,#00e9ff 88.2%,#00b8ff 90.4%,#008eff 92.7%,#0065ff 94.0%,#000cff 95.8%,#0300ff 96.2%,#3800ff 99.3%,#3c00ff 99.8%)"></i>
<i style="left:45px;background:linear-gradient(#ff1300 0.2%,#ff1b00 7.3%,#f60 13.6%,#ffa700 22.0%,#ffca00 34.4%,#fcff00 56.2%,#9cfa00 69.6%,#3bf000 73.6%,#00f502 80.2%,#00ff49 84.2%,#00ff7f 86.0%,#00fff2 88.7%,#00fdff 89.1%,#00a8ff 93.6%,#0075ff 94.9%,#0021ff 96.7%,#0003ff 97.6%,#2300ff 99.8%)"></i>
<i style="left:46px;background:linear-gradient(#ff0600 0.2%,#ff1200 9.1%,#f20 11.8%,#f60 17.1%,#ff9c00 23.3%,#ffc400 38.4%,#ffed00 54.9%,#faff00 60.7%,#9cfa00 72.2%,#46f100 75.3%,#1df300 79.3%,#00f502 83.3%,#00fe33 86.0%,#00ff41 86.4%,#0fb 88.7%,#00ffe6 90.0%,#00fffe 91.3%,#00d7ff 93.6%,#0090ff 95.3%,#0036ff 97.6%,#0004ff 99.3%,#0500ff 99.8%)"></i>
<i style="left:47px;background:linear-gradient(#f00 0.2%,#ff0600 9.1%,#ff1c00 14.9%,#ff6500 19.8%,#ff9700 26.0%,#ffd900 54.0%,#fdff00 63.8%,#a4fa00 73.6%,#4cf200 77.6%,#31f100 79.8%,#02f500 85.6%,#00f812 86.4%,#00ff42 87.8%,#00ffa5 89.6%,#00ffd9 91.8%,#00fffa 93.6%,#00f8ff 94.0%,#0081ff 96.7%,#0028ff 99.8%)"></i>
<i style="left:48px;background:linear-gradient(#f00 0.2%,#ff0500 12.2%,#ff1f00 18.0%,#ff6100 22.0%,#ff8c00 28.2%,#ffd300 56.2%,#fcff00 66.4%,#a0fa00 75.8%,#3cf000 81.1%,#0cf400 86.4%,#00f606 87.3%,#00ff4b 89.1%,#00ff86 90.4%,#00ffbf 92.7%,#00ffef 94.4%,#00f9ff 94.9%,#00b7ff 96.2%,#0076ff 98.4%,#0057ff 99.8%)"></i>
<i style="left:49px;background:linear-gradient(#f00 0.2%,#ff0500 15.3%,#ff1b00 20.2%,#ff5d00 24.2%,#ff8900 32.7%,#ffc900 57.1%,#faff00 68.7%,#a3fa00 77.6%,#38f000 84.2%,#10f400 87.3%,#01f500 88.2%,#00ff82 92.2%,#00ffca 94.4%,#00fff6 95.3%,#00daff 96.2%,#00aeff 97.6%,#007eff 99.8%)"></i>
<i style="left:50px;background:linear-gradient(#f00 0.2%,#ff0500 18.0%,#ff1a00 22.4%,#ff5900 26.9%,#ff9100 40.2%,#ffb800 55.3%,#faff00 70.4%,#b3fc00 77.6%,#9bfa00 80.7%,#1af300 87.8%,#03f500 89.1%,#00ff4b 92.2%,#00ff8b 94.0%,#00fdff 96.2%,#00cdff 97.6%,#00a0ff 99.8%)"></i>
<i style="left:51px;background:linear-gradient(#f00 0.2%,#ff0300 19.8%,#ff1e00 25.1%,#ff5800 30.4%,#ff8e00 43.3%,#ffa500 53.6%,#ffe700 67.3%,#fcff00 71.8%,#c6fe00 77.1%,#97f900 83.3%,#5ff300 86.0%,#34f100 87.3%,#01f500 90.4%,#00ff47 93.6%,#00ff8c 94.9%,#00fff2 96.7%,#00f9ff 97.1%,#00beff 99.8%)"></i>
<i style="left:52px;background:linear-gradient(#f00 0.2%,#ff0500 22.0%,#ff2100 28.2%,#ff6100 35.8%,#ff8b00 45.1%,#ffa000 54.9%,#ffe100 67.8%,#faff00 73.1%,#d2ff00 77.6%,#9dfa00 85.1%,#76f600 86.4%,#3df000 87.8%,#10f400 90.4%,#01f500 91.8%,#00ff40 94.4%,#0fc 96.7%,#00fffd 98.0%,#00dcff 99.8%)"></i>
<i style="left:53px;background:linear-gradient(#f00 0.2%,#ff0300 23.8%,#ff1f00 31.3%,#ff6a00 39.8%,#f80 46.9%,#ff9e00 56.7%,#ffe500 70.0%,#feff00 74.0%,#d7ff00 78.9%,#9cfa00 86.4%,#3bf000 88.7%,#05f500 92.7%,#00f500 93.1%,#00fd33 94.9%,#00ff67 95.8%,#00ffa4 96.7%,#00ffd7 98.0%,#00fffc 99.3%,#00faff 99.8%)"></i>
<i style="left:54px;background:linear-gradient(#f00 0.2%,#ff0500 26.4%,#ff2000 34.4%,#ff6800 41.1%,#ff8500 48.2%,#ff9d00 58.4%,#fe0 72.7%,#fcff00 75.3%,#c3fe00 82.9%,#a3fa00 86.9%,#98f900 87.3%,#47f100 89.1%,#2df100 90.4%,#02f500 94.0%,#00fc28 95.3%,#00fe39 95.8%,#00ff8b 97.1%,#00ffbf 98.4%,#00ffe1 99.8%)"></i>
<i style="left:55px;background:linear-gradient(#f00 0.2%,#ff0500 29.1%,#ff1f00 36.7%,#ff6200 41.6%,#ff7f00 48.2%,#ff9d00 60.2%,#fff600 74.9%,#f2ff00 78.4%,#c9ff00 83.3%,#a1fa00 87.8%,#55f300 89.6%,#36f100 90.9%,#01f500 94.9%,#00ff3f 96.7%,#00ff94 98.4%,#00ffbc 99.8%)"></i>
<i style="left:56px;background:linear-gradient(#f00 0.2%,#ff0500 31.8%,#ff1f00 38.4%,#ff5b00 42.0%,#ff7a00 48.2%,#f90 61.1%,#ff0 78.4%,#d8ff00 82.9%,#a4fa00 88.2%,#4bf200 90.9%,#06f500 95.3%,#00f503 95.8%,#00ff50 98.0%,#00ff91 99.8%)"></i>
<i style="left:57px;background:linear-gradient(#f00 0.2%,#ff0500 34.4%,#ff1900 39.3%,#ff5a00 42.9%,#f70 49.1%,#ff9800 62.4%,#fffb00 78.9%,#f8ff00 81.1%,#c6fe00 85.6%,#a1fa00 89.1%,#5bf300 91.3%,#35f100 93.1%,#03f500 96.2%,#00ff53 99.3%,#00ff61 99.8%)"></i>
<i style="left:58px;background:linear-gradient(#f00 0.2%,#ff0400 36.2%,#ff1900 40.2%,#ff5800 43.8%,#ff7400 50.0%,#ff9500 63.3%,#fff800 79.8%,#ff0 81.6%,#d1ff00 85.1%,#a5fb00 89.6%,#54f200 92.7%,#2cf100 94.4%,#02f500 97.1%,#00fe36 99.8%)"></i>
<i style="left:59px;background:linear-gradient(#f00 0.2%,#ff0400 38.0%,#ff1b00 41.1%,#ff5200 44.2%,#ff6b00 48.7%,#ff9100 63.8%,#fff700 80.7%,#fbff00 82.4%,#d5ff00 85.6%,#a9fb00 90.0%,#92f900 91.3%,#2ff100 94.9%,#07f400 97.6%,#00f501 98.4%,#00fa1c 99.8%)"></i>
<i style="left:60px;background:linear-gradient(#f00 0.2%,#ff0300 38.9%,#ff1e00 42.0%,#ff5100 45.1%,#ff6800 49.6%,#ff8b00 63.8%,#fdff00 82.9%,#dbff00 85.6%,#b8fd00 89.6%,#a0fa00 91.8%,#4cf200 94.4%,#32f100 95.3%,#0cf400 98.0%,#00f502 99.8%)"></i>
<i style="left:61px;background:linear-gradient(#f00 0.2%,#ff0300 39.8%,#f20 42.9%,#ff5400 46.4%,#ff6900 52.7%,#ff8900 64.7%,#feff00 83.3%,#dfff00 86.0%,#b7fd00 90.4%,#a1fa00 92.7%,#63f400 94.4%,#3df000 95.3%,#15f300 98.0%,#06f500 99.8%)"></i>
<i style="left:62px;background:linear-gradient(#f00 0.2%,#ff0500 40.7%,#ff1e00 43.3%,#ff4f00 46.9%,#ff6200 51.3%,#ff8100 64.2%,#fffb00 83.3%,#b7fd00 91.3%,#9efa00 93.6%,#40f000 95.8%,#18f300 98.4%,#0cf400 99.8%)"></i>
<i style="left:63px;background:linear-gradient(#f00 0.2%,#ff0300 41.1%,#f20 44.2%,#ff4d00 47.8%,#ff5f00 52.7%,#ff7d00 64.7%,#ffd600 78.4%,#ff0 84.2%,#b6fc00 92.2%,#a2fa00 94.0%,#42f100 96.2%,#1bf300 98.9%,#12f300 99.8%)"></i>
<i style="left:64px;background:linear-gradient(#f00 0.2%,#ff0200 41.6%,#ff2500 45.1%,#ff4d00 49.1%,#ff7a00 65.1%,#ffd000 78.4%,#faff00 85.1%,#c9ff00 91.3%,#a3fa00 94.4%,#46f100 96.7%,#23f200 98.9%,#19f300 99.8%)"></i>
<i style="left:65px;background:linear-gradient(#f00 0.2%,#ff0100 42.0%,#ff2700 46.0%,#ff4900 50.0%,#ff7400 65.1%,#ffc700 78.0%,#fcff00 85.6%,#d1ff00 91.3%,#a3fa00 94.9%,#4bf100 97.1%,#1ff200 99.8%)"></i>
<i style="left:66px;background:linear-gradient(#f00 0.2%,#ff0400 42.9%,#ff2900 46.9%,#f40 50.9%,#ff6e00 65.1%,#ff9e00 73.1%,#fdff00 86.4%,#d8ff00 91.3%,#aafb00 94.9%,#92f900 95.8%,#5df300 97.1%,#32f100 98.9%,#25f200 99.8%)"></i>
<i style="left:67px;background:linear-gradient(#f00 0.2%,#ff0400 43.3%,#ff3b00 50.4%,#ff6800 65.1%,#ff9500 72.2%,#ffb800 77.6%,#ff0 87.3%,#dfff00 91.3%,#bbfd00 94.4%,#a2fa00 95.8%,#46f100 98.4%,#2cf100 99.8%)"></i>
<i style="left:68px;background:linear-gradient(#f00 0.2%,#ff0300 43.8%,#ff3500 51.3%,#ff5c00 64.2%,#ff9100 72.2%,#ffad00 77.1%,#fffa00 87.3%,#f5ff00 90.0%,#c3fe00 94.4%,#a1fa00 96.2%,#39f000 99.3%,#32f100 99.8%)"></i>
<i style="left:69px;background:linear-gradient(#f00 0.2%,#ff0300 44.2%,#ff2e00 51.8%,#ff5000 63.8%,#ff8b00 71.8%,#ffa300 76.7%,#ffd000 82.0%,#fffc00 89.1%,#ef0 91.3%,#caff00 94.4%,#93f900 97.1%,#38f000 99.8%)"></i>
<i style="left:70px;background:linear-gradient(#f00 0.2%,#ff0200 44.7%,#ff2a00 53.1%,#ff4a00 64.2%,#ff8200 70.9%,#ff9d00 76.7%,#ffc900 81.6%,#fffe00 90.4%,#d1ff00 94.4%,#a4fa00 96.7%,#97f900 97.6%,#41f000 99.8%)"></i>
<i style="left:71px;background:linear-gradient(#f00 0.2%,#ff0200 45.1%,#ff1f00 52.2%,#ff4000 64.2%,#ff7900 70.0%,#ff9c00 77.1%,#ffc400 81.6%,#fcff00 91.3%,#cfff00 94.9%,#a8fb00 96.7%,#98f900 98.0%,#4df200 99.8%)"></i>
<i style="left:72px;background:linear-gradient(#f00 0.2%,#ff0500 46.0%,#ff1800 52.2%,#ff3600 64.2%,#ff6e00 69.1%,#ff9c00 77.6%,#ffc200 82.0%,#fdff00 91.8%,#d5ff00 94.9%,#abfb00 96.7%,#94f900 98.4%,#59f300 99.8%)"></i>
<i style="left:73px;background:linear-gradient(#f00 0.2%,#ff0400 46.4%,#ff1600 52.7%,#ff2700 63.3%,#ff4200 66.0%,#ff6900 69.1%,#ff9c00 78.0%,#ffbf00 82.4%,#feff00 92.2%,#daff00 94.9%,#a9fb00 97.1%,#97f900 98.4%,#65f400 99.8%)"></i>
<i style="left:74px;background:linear-gradient(#f00 0.2%,#ff0300 46.9%,#ff1300 53.6%,#ff1f00 63.8%,#ff4600 66.9%,#ff6800 69.6%,#ff9d00 78.4%,#ffc800 84.7%,#faff00 93.1%,#e0ff00 94.9%,#abfb00 97.1%,#9af900 98.4%,#70f500 99.8%)"></i>
<i style="left:75px;background:linear-gradient(#f00 0.2%,#ff0500 47.8%,#ff1500 60.2%,#ff1c00 64.7%,#ff6300 69.6%,#ff9000 77.1%,#ffda00 88.2%,#fcff00 93.6%,#e6ff00 94.9%,#aefc00 97.1%,#92f900 98.9%,#74f600 99.8%)"></i>
<i style="left:76px;background:linear-gradient(#f00 0.2%,#ff0400 48.2%,#ff1a00 65.1%,#ff5e00 69.6%,#ff8c00 76.7%,#fff400 92.2%,#feff00 94.0%,#b0fc00 97.1%,#95f900 98.9%,#79f600 99.8%)"></i>
<i style="left:77px;background:linear-gradient(#f00 0.2%,#ff0400 49.1%,#ff1900 65.6%,#ff5d00 70.0%,#ff8a00 76.7%,#ffec00 91.8%,#faff00 94.4%,#b3fc00 97.1%,#98f900 98.9%,#7ef700 99.8%)"></i>
<i style="left:78px;background:linear-gradient(#f00 0.2%,#ff0500 51.3%,#ff1700 65.6%,#ff6000 70.9%,#ff8700 76.7%,#ffe300 91.3%,#fcff00 94.4%,#b6fc00 97.1%,#9cfa00 98.9%,#83f700 99.8%)"></i>
<i style="left:79px;background:linear-gradient(#f00 0.2%,#ff0500 55.3%,#ff1500 65.6%,#ff2700 67.3%,#ff5f00 71.3%,#ff8500 76.7%,#ffd300 90.0%,#fdff00 94.4%,#b1fc00 97.6%,#94f900 99.3%,#87f800 99.8%)"></i>
<i style="left:80px;background:linear-gradient(#f00 0.2%,#ff0500 57.1%,#ff1500 66.0%,#ff3000 68.2%,#ff6300 72.2%,#ff8500 77.1%,#ffac00 84.2%,#ffdb00 91.3%,#feff00 94.4%,#b4fc00 97.6%,#98f900 99.3%,#8cf800 99.8%)"></i>
<i style="left:81px;background:linear-gradient(#f00 0.2%,#ff0600 57.1%,#ff1700 66.9%,#ff6200 72.7%,#ff8a00 78.9%,#ffa800 84.2%,#ffd700 91.3%,#fffe00 94.4%,#b6fc00 97.6%,#91f800 99.8%)"></i>
<i style="left:82px;background:linear-gradient(#f00 0.2%,#ff0500 56.7%,#ff1800 67.3%,#f60 73.6%,#ffcd00 90.9%,#fffc00 94.4%,#b9fd00 97.6%,#96f900 99.8%)"></i>
<i style="left:83px;background:linear-gradient(#f00 0.2%,#ff0500 56.7%,#ff1800 67.8%,#f60 74.0%,#ffca00 90.9%,#faff00 94.9%,#bbfd00 97.6%,#9af900 99.8%)"></i>
<i style="left:84px;background:linear-gradient(#f00 0.2%,#ff0600 56.7%,#ff1900 68.2%,#ff6500 74.4%,#ffc700 90.9%,#fcff00 94.9%,#bdfd00 97.6%,#9ffa00 99.8%)"></i>
<i style="left:85px;background:linear-gradient(#f00 0.2%,#ff0500 56.2%,#ff1900 68.7%,#ff6400 74.9%,#ff8500 81.1%,#ffc300 90.9%,#fff600 94.4%,#f3ff00 95.3%,#b9fd00 98.0%,#a2fa00 99.8%)"></i>
<i style="left:86px;background:linear-gradient(#f00 0.2%,#ff0500 56.2%,#ff1800 68.7%,#ff6300 75.3%,#ff8100 81.6%,#ff9f00 85.1%,#ffc000 90.9%,#fff300 94.4%,#ff0 94.9%,#bbfd00 98.0%,#a4fa00 99.8%)"></i>
<i style="left:87px;background:linear-gradient(#f00 0.2%,#ff0600 56.2%,#ff1a00 69.1%,#ff5300 74.0%,#ff6900 78.0%,#ff7e00 82.0%,#ff9600 84.2%,#ffc300 91.3%,#fff100 94.4%,#fffd00 94.9%,#b6fc00 98.4%,#a5fb00 99.8%)"></i>
<i style="left:88px;background:linear-gradient(#f00 0.2%,#ff0500 55.8%,#ff1900 69.1%,#ff4a00 73.6%,#ff6200 76.2%,#ff7500 82.0%,#ff9300 84.2%,#ffc000 91.3%,#ffef00 94.4%,#f8ff00 95.3%,#b9fd00 98.4%,#a7fb00 99.8%)"></i>
<i style="left:89px;background:linear-gradient(#f00 0.2%,#ff0500 55.8%,#ff1a00 69.6%,#ff5e00 75.8%,#ff7400 82.4%,#ff9500 85.1%,#ffba00 90.9%,#ffed00 94.4%,#faff00 95.3%,#bbfd00 98.4%,#a9fb00 99.8%)"></i>
<i style="left:90px;background:linear-gradient(#f00 0.2%,#ff0500 55.8%,#ff1900 69.6%,#ff4a00 74.0%,#ff5f00 76.7%,#ff7500 82.9%,#ff9300 85.6%,#ffb200 90.4%,#ffe200 94.0%,#fbff00 95.3%,#bdfd00 98.4%,#abfb00 99.8%)"></i>
<i style="left:91px;background:linear-gradient(#f00 0.2%,#ff0500 55.3%,#ff1a00 70.0%,#ff5b00 76.2%,#ff6e00 82.4%,#ff9000 86.0%,#ffae00 90.4%,#ffea00 94.4%,#fdff00 95.3%,#bffd00 98.4%,#adfb00 99.8%)"></i>
<i style="left:92px;background:linear-gradient(#f00 0.2%,#ff0500 55.3%,#ff1900 70.0%,#ff5900 76.2%,#ff6b00 82.4%,#ff8d00 86.4%,#fa0 90.4%,#ffe800 94.4%,#feff00 95.3%,#c1fe00 98.4%,#aefc00 99.8%)"></i>
<i style="left:93px;background:linear-gradient(#f00 0.2%,#ff0500 54.9%,#ff1900 70.4%,#f50 76.2%,#ff6800 82.4%,#ff8a00 86.9%,#ffa600 90.4%,#ffe600 94.4%,#fffe00 95.3%,#bcfd00 98.9%,#b0fc00 99.8%)"></i>
<i style="left:94px;background:linear-gradient(#f00 0.2%,#ff0500 54.4%,#ff1a00 70.9%,#ff5200 76.2%,#ff6500 82.4%,#ffa100 90.4%,#ffc600 92.7%,#ffef00 94.9%,#f8ff00 95.8%,#b2fc00 99.8%)"></i>
<i style="left:95px;background:linear-gradient(#f00 0.2%,#ff0500 54.4%,#ff1b00 71.3%,#ff4f00 76.2%,#f60 82.9%,#ff9e00 90.4%,#ffc500 92.7%,#ffed00 94.9%,#f9ff00 95.8%,#b4fc00 99.8%)"></i>
<i style="left:96px;background:linear-gradient(#f00 0.2%,#ff0500 54.4%,#ff1900 71.3%,#ff4b00 76.2%,#ff6c00 83.8%,#ff9d00 90.4%,#ffc800 93.1%,#ffeb00 94.9%,#faff00 95.8%,#b5fc00 99.8%)"></i>
<i style="left:97px;background:linear-gradient(#f00 0.2%,#ff0500 54.0%,#ff1b00 71.8%,#ff4b00 76.2%,#ff6e00 84.2%,#ff9500 90.0%,#ffde00 94.4%,#fcff00 95.8%,#b7fd00 99.8%)"></i>
<i style="left:98px;background:linear-gradient(#f00 0.2%,#ff0500 54.0%,#ff1b00 71.8%,#ff4b00 76.2%,#ff6f00 84.7%,#ff9300 90.0%,#ffdc00 94.4%,#fdff00 95.8%,#b9fd00 99.8%)"></i>
<i style="left:99px;background:linear-gradient(#f00 0.2%,#ff0500 53.6%,#ff1b00 71.8%,#ff4b00 76.2%,#ff7000 85.1%,#ff9200 90.0%,#ffda00 94.4%,#ff0 95.8%,#bbfd00 99.8%)"></i>
<i style="left:100px;background:linear-gradient(#f00 0.2%,#ff0500 53.6%,#ff1b00 71.8%,#ff4b00 76.2%,#ff7600 86.4%,#ff9700 90.4%,#ffe400 94.9%,#fffd00 95.8%,#bdfd00 99.8%)"></i>
<i style="left:101px;background:linear-gradient(#f00 0.2%,#ff0500 53.6%,#ff1b00 71.8%,#ff4b00 76.2%,#ff7300 86.0%,#ff9700 90.4%,#ffe200 94.9%,#fffb00 95.8%,#befd00 99.8%)"></i>
<i style="left:102px;background:linear-gradient(#f00 0.2%,#ff0500 53.6%,#ff1a00 71.8%,#ff4b00 76.2%,#ff7300 86.0%,#ff9700 90.4%,#ffe000 94.9%,#faff00 96.2%,#bffd00 99.8%)"></i>
<i style="left:103px;background:linear-gradient(#f00 0.2%,#ff0500 53.1%,#ff1400 67.3%,#ff1a00 71.8%,#ff4b00 76.2%,#ff7100 85.6%,#ff9700 90.4%,#ffdf00 94.9%,#fbff00 96.2%,#bffd00 99.8%)"></i>
<i style="left:104px;background:linear-gradient(#f00 0.2%,#ff0400 52.2%,#ff1500 65.1%,#ff1a00 71.8%,#ff4b00 76.2%,#ff6e00 85.1%,#ff9700 90.4%,#ffde00 94.9%,#fdff00 96.2%,#c0fe00 99.8%)"></i>
<i style="left:105px;background:linear-gradient(#f00 0.2%,#ff0500 48.7%,#ff1600 65.6%,#ff1a00 71.8%,#ff4b00 76.2%,#ff6e00 85.1%,#ff9600 90.4%,#ffd300 94.4%,#feff00 96.2%,#c1fe00 99.8%)"></i>
<i style="left:106px;background:linear-gradient(#f00 0.2%,#ff0400 45.6%,#ff1600 58.9%,#ff1a00 71.8%,#ff4b00 76.2%,#ff6b00 84.7%,#ff9000 90.0%,#ffd100 94.4%,#fffe00 96.2%,#c1fe00 99.8%)"></i>
<i style="left:107px;background:linear-gradient(#f00 0.2%,#ff0400 44.2%,#ff1900 52.7%,#ff1c00 71.8%,#ff4c00 76.2%,#ff6b00 84.7%,#ff9000 90.0%,#ffd000 94.4%,#fffc00 96.2%,#c2fe00 99.8%)"></i>
<i style="left:108px;background:linear-gradient(#f00 0.2%,#ff0500 43.3%,#ff2800 51.3%,#ff1900 65.1%,#ff1c00 71.3%,#ff4d00 76.2%,#ff6900 84.2%,#ff9000 90.0%,#ffcf00 94.4%,#f9ff00 96.7%,#c3fe00 99.8%)"></i>
<i style="left:109px;background:linear-gradient(#f00 0.2%,#ff0300 42.0%,#ff1e00 46.9%,#ff3900 50.0%,#ff2700 57.6%,#ff1900 64.2%,#ff2100 71.3%,#ff4f00 76.2%,#ff6700 83.8%,#ff8f00 90.0%,#ffce00 94.4%,#fbff00 96.7%,#c3fe00 99.8%)"></i>
<i style="left:110px;background:linear-gradient(#f00 0.2%,#ff0500 41.6%,#ff2100 46.0%,#ff3c00 49.6%,#ff3100 56.2%,#ff1c00 65.1%,#ff2900 71.8%,#ff5000 76.2%,#ff6700 83.8%,#ff8f00 90.0%,#ffcd00 94.4%,#fcff00 96.7%,#c4fe00 99.8%)"></i>
<i style="left:111px;background:linear-gradient(#f00 0.2%,#ff0400 40.7%,#ff2400 45.6%,#ff4000 50.0%,#f20 66.4%,#ff2d00 71.8%,#ff5200 76.2%,#ff6500 83.3%,#ff8f00 90.0%,#fc0 94.4%,#feff00 96.7%,#c5fe00 99.8%)"></i>
<i style="left:112px;background:linear-gradient(#f00 0.2%,#ff0300 39.8%,#ff2300 45.1%,#ff4300 49.6%,#ff3500 58.0%,#ff2600 66.9%,#ff3100 71.8%,#ff5300 76.2%,#f60 83.3%,#ff8e00 90.0%,#ffd700 94.9%,#fffe00 96.7%,#c6fe00 99.8%)"></i>
<i style="left:113px;background:linear-gradient(#f00 0.2%,#ff0400 39.3%,#ff2300 44.7%,#ff4600 49.6%,#ff2d00 65.6%,#ff2d00 69.6%,#ff4100 73.1%,#ff5700 77.1%,#f60 83.3%,#ff9500 90.4%,#ffd600 94.9%,#ff0 96.7%,#c6fe00 99.8%)"></i>
<i style="left:114px;background:linear-gradient(#f00 0.2%,#ff0400 38.4%,#ff2400 44.2%,#ff4900 49.1%,#ff4100 57.1%,#ff3400 65.6%,#ff2e00 67.8%,#ff3d00 72.2%,#ff5700 76.7%,#ff6300 82.9%,#ff9500 90.4%,#ffd600 94.9%,#ff0 96.7%,#c7fe00 99.8%)"></i>
<i style="left:115px;background:linear-gradient(#f00 0.2%,#ff0500 37.6%,#ff1f00 43.3%,#ff4a00 48.7%,#ff4900 55.3%,#ff3c00 65.6%,#f30 68.2%,#ff4500 72.7%,#ff5900 77.1%,#ff6400 82.9%,#ff8200 87.8%,#ff9600 90.4%,#ffd600 94.9%,#feff00 96.7%,#d2ff00 99.3%,#c8fe00 99.8%)"></i>
<i style="left:116px;background:linear-gradient(#f00 0.2%,#ff0500 35.3%,#ff1c00 42.4%,#ff4e00 48.7%,#ff4c00 55.8%,#ff4600 65.1%,#ff3700 68.7%,#ff5a00 77.1%,#ff6400 82.9%,#ff8100 87.3%,#ff9600 90.4%,#ffd700 94.9%,#feff00 96.7%,#c8fe00 99.8%)"></i>
<i style="left:117px;background:linear-gradient(#f00 0.2%,#ff0600 32.7%,#ff1a00 41.6%,#ff5000 48.2%,#ff5300 54.0%,#ff4d00 65.1%,#ff3c00 69.1%,#ff5c00 76.7%,#ff6200 82.4%,#ff8100 86.9%,#ff9100 90.0%,#ffd700 94.9%,#feff00 96.7%,#c8fe00 99.8%)"></i>
<i style="left:118px;background:linear-gradient(#f00 0.2%,#ff0600 30.4%,#ff1d00 41.1%,#f50 48.7%,#f50 65.1%,#ff4200 69.6%,#ff6000 76.2%,#ff6200 82.4%,#ff8300 86.4%,#ff9100 90.0%,#ffd800 94.9%,#fdff00 96.7%,#c6fe00 99.8%)"></i>
<i style="left:119px;background:linear-gradient(#f00 0.2%,#ff0500 24.7%,#ff1e00 40.2%,#ff5900 48.7%,#ff5a00 65.6%,#ff4800 70.0%,#ff6400 76.2%,#ff6100 82.0%,#ff8600 86.4%,#ff8d00 89.6%,#ffd800 94.9%,#fdff00 96.7%,#c5fe00 99.8%)"></i>
<i style="left:120px;background:linear-gradient(#f00 0.2%,#ff0200 23.3%,#ff0c00 27.3%,#ff1f00 38.9%,#ff5c00 48.7%,#ff5d00 66.0%,#ff5000 70.4%,#ff6800 76.7%,#ff6500 82.0%,#ff8900 86.4%,#ff8e00 89.6%,#ffd900 94.9%,#fcff00 96.7%,#c4fe00 99.8%)"></i>
<i style="left:121px;background:linear-gradient(#f00 0.2%,#ff0400 22.9%,#f10 26.4%,#ff1900 35.3%,#ff4700 44.2%,#ff5f00 49.1%,#ff6000 66.4%,#ff5600 70.4%,#ff6b00 77.1%,#ff6900 82.0%,#ff8c00 86.4%,#ff8b00 89.1%,#ffae00 91.8%,#ffe400 95.3%,#fcff00 96.7%,#c3fe00 99.8%)"></i>
<i style="left:122px;background:linear-gradient(#f00 0.2%,#ff0400 22.4%,#ff1600 26.0%,#ff1800 34.4%,#ff5f00 48.2%,#ff6400 66.4%,#ff5d00 70.9%,#ff6f00 77.1%,#ff6d00 82.0%,#ff8f00 86.4%,#ff8c00 89.1%,#ffa700 91.3%,#ffe400 95.3%,#fcff00 96.7%,#c2fe00 99.8%)"></i>
<i style="left:123px;background:linear-gradient(#f00 0.2%,#ff0500 22.0%,#ff1e00 26.0%,#ff1800 33.1%,#ff6100 48.2%,#ff6900 66.4%,#ff6100 70.9%,#ff7300 77.1%,#ff7200 82.0%,#ff9200 86.4%,#ff8f00 89.6%,#ffe600 95.3%,#fbff00 96.7%,#c0fe00 99.8%)"></i>
<i style="left:124px;background:linear-gradient(#f00 0.2%,#ff0100 21.1%,#ff2b00 25.6%,#ff1900 31.8%,#ff3d00 39.8%,#ff6200 47.3%,#ff6d00 66.4%,#f60 71.3%,#f70 77.1%,#ff7600 82.0%,#ff9600 86.0%,#ff9000 89.6%,#fff100 95.8%,#fbff00 96.7%,#bffd00 99.8%)"></i>
<i style="left:125px;background:linear-gradient(#f00 0.2%,#ff0200 20.7%,#f20 23.8%,#ff3800 25.6%,#ff1e00 32.2%,#ff4600 40.7%,#ff6200 46.4%,#ff7200 66.4%,#ff6a00 71.3%,#ff7b00 77.1%,#ff7a00 82.0%,#ff9b00 86.0%,#ff9400 90.0%,#faff00 96.7%,#befd00 99.8%)"></i>
<i style="left:126px;background:linear-gradient(#f00 0.2%,#ff0200 20.2%,#ff1b00 22.9%,#ff3b00 24.7%,#ff3800 28.2%,#ff2400 32.2%,#ff4100 39.3%,#ff6200 45.6%,#ff7600 66.4%,#ff6e00 71.3%,#ff7f00 77.1%,#ff8100 82.4%,#ffa100 86.0%,#ff9600 90.0%,#fffd00 96.2%,#bdfd00 99.8%)"></i>
<i style="left:127px;background:linear-gradient(#f00 0.2%,#ff0200 19.8%,#ff1c00 22.4%,#ff3e00 24.2%,#ff4100 27.8%,#ff2a00 32.7%,#ff4700 39.8%,#ff6500 45.6%,#ff7a00 66.4%,#ff7200 71.3%,#ff8300 77.1%,#ff8500 82.4%,#ffa600 85.6%,#ff9d00 90.4%,#ff0 96.2%,#bbfd00 99.8%)"></i>
<i style="left:128px;background:linear-gradient(#f00 0.2%,#ff0500 19.8%,#ff1b00 22.0%,#ff4000 23.8%,#ff4800 26.9%,#ff3000 33.6%,#ff5000 40.7%,#ff6e00 47.8%,#ff7d00 66.9%,#ff7600 71.3%,#ff8600 77.1%,#ff8a00 82.4%,#ffac00 85.6%,#ffa200 90.4%,#fdff00 96.2%,#b8fd00 99.8%)"></i>
<i style="left:129px;background:linear-gradient(#f00 0.2%,#ff0500 19.3%,#ff1b00 21.6%,#ff4100 23.3%,#ff4e00 26.4%,#ff3500 34.0%,#ff5400 40.7%,#ff7300 48.7%,#ff8100 67.3%,#ff7c00 71.8%,#ff8e00 77.1%,#ff8b00 82.0%,#ffb100 85.6%,#ffa500 90.0%,#ffb600 91.8%,#fcff00 96.2%,#b6fc00 99.8%)"></i>
<i style="left:130px;background:linear-gradient(#f00 0.2%,#ff0500 18.9%,#ff1900 21.1%,#ff4200 22.9%,#ff5300 25.6%,#ff4100 31.3%,#ff3c00 35.3%,#f70 48.2%,#ff8400 67.8%,#ff8000 71.8%,#ff9500 76.7%,#ff9400 82.0%,#ffb700 85.6%,#ffa900 89.6%,#ffb900 91.8%,#ff0 95.8%,#bffd00 99.3%,#b4fc00 99.8%)"></i>
<i style="left:131px;background:linear-gradient(#f00 0.2%,#ff0200 18.0%,#ff1900 20.7%,#ff4200 22.4%,#ff5800 25.1%,#ff4a00 30.9%,#ff3f00 34.9%,#ff7c00 48.7%,#ff8900 67.8%,#ff8400 71.8%,#ff9c00 76.7%,#ff9c00 82.0%,#ffbd00 85.6%,#ffad00 89.1%,#ffbd00 91.8%,#fffb00 95.3%,#daff00 98.0%,#b2fc00 99.8%)"></i>
<i style="left:132px;background:linear-gradient(#f00 0.2%,#ff0300 17.6%,#ff1800 20.2%,#ff4100 22.0%,#ff5b00 24.7%,#ff5300 30.4%,#ff4300 34.9%,#f60 42.4%,#ff8200 50.0%,#ff8c00 68.2%,#ff8900 72.2%,#ffa300 76.7%,#ffa300 82.0%,#ffc400 86.0%,#ffb100 89.1%,#ffc200 91.8%,#feff00 95.3%,#d1ff00 98.4%,#b1fc00 99.8%)"></i>
<i style="left:133px;background:linear-gradient(#f00 0.2%,#ff0300 17.1%,#ff2000 20.2%,#ff4800 22.0%,#ff5d00 24.2%,#ff5700 30.9%,#ff4700 34.9%,#f60 42.0%,#ff8700 50.0%,#ff9100 68.2%,#ff8c00 71.8%,#ffa900 76.7%,#ffa800 81.6%,#ffc600 85.6%,#ffbf00 87.3%,#ffb600 89.6%,#fc0 92.2%,#fffe00 94.9%,#d7ff00 98.0%,#b0fc00 99.8%)"></i>
<i style="left:134px;background:linear-gradient(#f00 0.2%,#ff0400 16.7%,#ff1e00 19.8%,#ff4e00 22.0%,#ff6100 24.7%,#ff5700 32.2%,#ff4c00 35.8%,#ff8b00 49.6%,#ff9400 68.7%,#ff9200 71.8%,#ffaf00 76.7%,#ffb000 81.6%,#ffca00 86.0%,#ffba00 89.1%,#ffd100 92.2%,#fdff00 94.9%,#ceff00 98.4%,#aefc00 99.8%)"></i>
<i style="left:135px;background:linear-gradient(#f00 0.2%,#ff0600 16.2%,#ff1c00 19.3%,#ff4e00 21.6%,#ff6200 23.8%,#ff5f00 31.3%,#ff5000 36.2%,#ff9000 50.0%,#ff9800 69.1%,#ff9a00 72.2%,#ffb600 76.7%,#ffb700 81.6%,#ffce00 86.4%,#ffbe00 89.1%,#ffd700 92.2%,#fffe00 94.4%,#cf0 98.4%,#acfb00 99.8%)"></i>
<i style="left:136px;background:linear-gradient(#f00 0.2%,#ff0600 15.3%,#ff1b00 18.9%,#ff5400 21.6%,#ff6800 24.7%,#ff5b00 34.0%,#ff5800 37.6%,#ff9500 50.0%,#ff9d00 69.1%,#ff9f00 72.2%,#ffbc00 76.7%,#ffbf00 82.0%,#ffd200 86.4%,#ffc200 89.1%,#ffe300 92.7%,#feff00 94.4%,#c9ff00 98.4%,#a9fb00 99.8%)"></i>
<i style="left:137px;background:linear-gradient(#f00 0.2%,#ff0500 13.1%,#ff1600 18.0%,#ff5a00 21.6%,#ff6c00 25.6%,#ff5e00 38.4%,#ff9800 49.6%,#ffa000 69.6%,#ffa700 72.7%,#ffc400 77.1%,#ffc400 82.0%,#ffd700 86.4%,#ffc600 89.1%,#fe0 93.1%,#fcff00 94.4%,#c5fe00 98.4%,#a7fb00 99.8%)"></i>
<i style="left:138px;background:linear-gradient(#f00 0.2%,#ff0500 11.8%,#ff1600 17.6%,#ff5e00 21.6%,#ff7000 25.6%,#ff6100 38.4%,#ff9b00 49.6%,#ffa400 70.0%,#ffb000 73.1%,#ffca00 77.1%,#ffc900 82.0%,#ffdb00 86.4%,#ffcb00 89.6%,#fdff00 94.0%,#c3fe00 98.4%,#a5fb00 99.8%)"></i>
<i style="left:139px;background:linear-gradient(#f00 0.2%,#ff0600 10.9%,#ff1a00 17.6%,#ff5e00 21.1%,#ff7400 25.6%,#f60 38.9%,#ff9f00 49.6%,#fa0 69.6%,#ffb200 72.7%,#ffce00 76.7%,#ffcf00 82.0%,#ffe000 86.4%,#ffd100 89.6%,#fbff00 93.6%,#c0fe00 98.4%,#a3fa00 99.8%)"></i>
<i style="left:140px;background:linear-gradient(#f00 0.2%,#ff0500 9.6%,#ff1b00 17.1%,#ff5e00 20.7%,#f70 25.1%,#ff6a00 39.3%,#ffa200 49.6%,#ffaf00 69.6%,#ffb700 72.7%,#ffd100 76.2%,#ffd800 82.4%,#ffe300 86.9%,#ffd600 89.6%,#feff00 92.7%,#befd00 98.4%,#a1fa00 99.8%)"></i>
<i style="left:141px;background:linear-gradient(#f00 0.2%,#ff0700 8.7%,#ff1d00 16.7%,#ff6200 20.7%,#ff7b00 25.1%,#ff6f00 39.8%,#ffa600 49.6%,#ffb400 69.1%,#ffb900 72.2%,#ffd500 76.2%,#ffe700 86.9%,#ffdc00 89.6%,#fdff00 92.2%,#bafd00 98.4%,#9cfa00 99.8%)"></i>
<i style="left:142px;background:linear-gradient(#ff0200 0.2%,#ff1000 10.0%,#ff2000 16.2%,#ff6200 20.2%,#ff7e00 24.7%,#ff7200 37.1%,#ff7600 40.7%,#ffa900 49.6%,#ffb700 66.4%,#ffbe00 72.2%,#ffd900 76.2%,#ffec00 86.9%,#ffe100 89.6%,#f9ff00 92.2%,#c2fe00 97.1%,#aefc00 98.9%,#95f900 99.8%)"></i>
<i style="left:143px;background:linear-gradient(#ff0900 0.2%,#ff1900 12.2%,#ff2800 16.2%,#f60 20.2%,#ff8300 25.1%,#ff7900 40.7%,#ffad00 49.6%,#ffbc00 66.0%,#ffc300 72.2%,#ffdc00 76.2%,#fff100 86.9%,#ffe600 89.6%,#fbff00 91.8%,#c1fe00 96.2%,#b1fc00 98.4%,#9efa00 99.3%,#8df800 99.8%)"></i>
<i style="left:144px;background:linear-gradient(#ff1000 0.2%,#ff1d00 10.9%,#ff3100 16.2%,#ff6b00 20.2%,#f80 25.6%,#ff7e00 40.7%,#ffb200 50.0%,#ffc100 65.6%,#ffc800 72.2%,#ffe000 76.2%,#fff700 85.6%,#fe0 90.0%,#f7ff00 91.8%,#c3fe00 95.3%,#abfb00 98.4%,#84f700 99.8%)"></i>
<i style="left:145px;background:linear-gradient(#ff1800 0.2%,#ff2000 8.7%,#ff3900 16.2%,#ff6f00 20.2%,#ff8c00 25.6%,#ff8500 41.1%,#ffb500 50.0%,#ffc600 65.6%,#ffcd00 72.2%,#ffe500 76.7%,#fff900 82.4%,#fff600 87.8%,#fff300 90.0%,#faff00 91.3%,#c1fe00 94.9%,#a6fb00 98.4%,#7cf600 99.8%)"></i>
<i style="left:146px;background:linear-gradient(#ff2100 0.2%,#ff2f00 9.6%,#ff3d00 15.8%,#ff7b00 21.1%,#ff9000 26.0%,#ff8b00 41.1%,#ffba00 50.4%,#fc0 65.1%,#ffcd00 71.3%,#ffe700 76.2%,#feff00 81.6%,#fff900 88.2%,#fffb00 90.4%,#e6ff00 92.2%,#bffd00 94.4%,#a1fa00 98.4%,#75f600 99.8%)"></i>
<i style="left:147px;background:linear-gradient(#ff2c00 0.2%,#ff3900 10.0%,#ff4600 15.8%,#ff8100 21.6%,#ff9400 26.4%,#ff9100 41.1%,#ffbe00 50.9%,#ffd000 65.6%,#ffd000 70.0%,#ffe300 74.0%,#fbff00 80.2%,#fcff00 87.3%,#faff00 90.9%,#bdfd00 94.0%,#a2fa00 98.0%,#7bf600 99.3%,#69f500 99.8%)"></i>
<i style="left:148px;background:linear-gradient(#ff3600 0.2%,#ff4300 10.4%,#ff4e00 15.8%,#ff8500 21.6%,#ff9800 26.4%,#ff9800 41.6%,#ffc100 50.9%,#ffd500 66.0%,#ffd600 71.3%,#ffef00 76.2%,#f9ff00 79.8%,#f5ff00 87.3%,#feff00 90.0%,#e2ff00 91.8%,#bbfd00 93.6%,#9af900 98.0%,#5bf300 99.8%)"></i>
<i style="left:149px;background:linear-gradient(#ff4000 0.2%,#ff4e00 11.3%,#ff5700 15.8%,#ff8b00 22.0%,#ff9c00 26.4%,#ff9d00 41.6%,#ffc600 51.3%,#ffd900 66.4%,#ffdc00 71.8%,#fff200 75.8%,#faff00 78.9%,#edff00 83.3%,#f3ff00 88.2%,#f3ff00 90.4%,#affc00 94.0%,#9af900 97.1%,#7af600 98.4%,#4bf100 99.8%)"></i>
<i style="left:150px;background:linear-gradient(#ff4b00 0.2%,#ff5800 11.8%,#ff6300 16.7%,#ff8f00 22.0%,#ffa000 26.4%,#ffa200 41.6%,#ffc900 51.3%,#ffdf00 66.4%,#ffe000 71.8%,#fff600 75.8%,#f9ff00 78.4%,#e9ff00 82.0%,#ebff00 87.8%,#ecff00 90.4%,#a7fb00 94.0%,#89f800 97.1%,#5af300 98.9%,#3cf000 99.8%)"></i>
<i style="left:151px;background:linear-gradient(#f50 0.2%,#ff6500 16.2%,#ff9500 22.4%,#ffa400 26.4%,#ffa600 41.1%,#ffce00 51.8%,#ffe300 66.9%,#ffe600 72.2%,#fff900 75.8%,#f6ff00 78.4%,#e4ff00 82.0%,#e4ff00 87.8%,#e5ff00 90.4%,#a4fa00 93.6%,#6ef500 97.6%,#33f100 99.8%)"></i>
<i style="left:152px;background:linear-gradient(#ff5d00 0.2%,#ff6b00 16.2%,#ff9800 22.4%,#ffa900 26.4%,#fa0 41.1%,#ffd300 52.2%,#ffe600 67.3%,#ffea00 72.2%,#fffd00 75.3%,#f6ff00 78.0%,#dfff00 81.6%,#deff00 87.8%,#deff00 90.4%,#b8fd00 92.2%,#89f800 94.4%,#5cf300 97.6%,#32f100 99.3%,#2bf100 99.8%)"></i>
<i style="left:153px;background:linear-gradient(#ff6400 0.2%,#ff6d00 15.8%,#ffab00 25.1%,#ffb000 41.6%,#ffd800 51.8%,#ffec00 67.3%,#ffef00 72.2%,#feff00 74.9%,#edff00 78.4%,#d9ff00 81.6%,#daff00 88.2%,#d7ff00 90.4%,#bbfd00 91.8%,#80f700 94.0%,#4af100 97.6%,#22f200 99.8%)"></i>
<i style="left:154px;background:linear-gradient(#ff6b00 0.2%,#ff7300 15.8%,#ffb000 25.6%,#ffb400 41.1%,#fd0 51.8%,#ffef00 67.8%,#fff300 72.2%,#fcff00 74.4%,#df0 79.3%,#d1ff00 83.8%,#d4ff00 90.0%,#bdfd00 91.3%,#79f600 93.6%,#19f300 99.8%)"></i>
<i style="left:155px;background:linear-gradient(#ff7100 0.2%,#ff7600 15.3%,#ffb400 25.6%,#ffb800 41.1%,#ffe100 51.3%,#fff300 68.2%,#fff700 72.2%,#f9ff00 74.4%,#cdff00 81.1%,#ceff00 90.0%,#b1fc00 91.3%,#76f600 93.1%,#15f300 99.3%,#10f400 99.8%)"></i>
<i style="left:156px;background:linear-gradient(#ff7800 0.2%,#ff7a00 12.7%,#ff8300 16.7%,#ffb900 26.0%,#ffbd00 41.1%,#ffe600 51.3%,#fff900 68.2%,#fff900 71.8%,#edff00 74.9%,#c4fe00 81.6%,#c4fe00 90.0%,#96f900 91.8%,#6bf500 93.1%,#2cf100 97.1%,#07f400 99.8%)"></i>
<i style="left:157px;background:linear-gradient(#ff7f00 0.2%,#ff7e00 10.9%,#f80 16.7%,#ffbd00 26.0%,#ffc300 41.6%,#ffeb00 50.9%,#fffd00 68.7%,#faff00 72.7%,#bcfd00 81.1%,#bdfd00 89.6%,#a6fb00 90.9%,#69f500 92.7%,#39f000 95.3%,#00f502 99.8%)"></i>
<i style="left:158px;background:linear-gradient(#ff8500 0.2%,#ff8100 9.6%,#ff8d00 16.7%,#ffb100 22.9%,#ffc100 26.4%,#ffc900 42.0%,#fff000 50.9%,#fcff00 68.7%,#fcff00 71.8%,#b4fc00 81.1%,#b6fc00 89.1%,#a5fb00 90.4%,#5df300 92.7%,#37f000 94.9%,#00f503 98.9%,#00f70b 99.8%)"></i>
<i style="left:159px;background:linear-gradient(#ff8c00 0.2%,#ff8600 10.0%,#ff9600 18.0%,#ffc500 26.0%,#ffce00 42.0%,#fff500 50.9%,#f9ff00 66.4%,#f7ff00 71.8%,#adfb00 80.7%,#b0fc00 88.7%,#a2fa00 90.0%,#47f100 93.1%,#17f300 96.7%,#00f501 98.0%,#00f813 99.8%)"></i>
<i style="left:160px;background:linear-gradient(#ff9300 0.2%,#ff8a00 10.0%,#ffa000 19.8%,#ffc800 25.6%,#ffd400 42.0%,#fffa00 50.4%,#f3ff00 71.8%,#a6fb00 80.2%,#aafb00 88.2%,#92f900 90.0%,#3cf000 93.1%,#19f300 96.2%,#00f603 97.6%,#00fa1c 99.8%)"></i>
<i style="left:161px;background:linear-gradient(#ff9600 0.2%,#ff9000 6.0%,#ff9100 11.8%,#ffa300 19.8%,#fc0 25.6%,#fd0 42.4%,#ff0 50.4%,#ecff00 72.2%,#b8fd00 77.1%,#9efa00 80.7%,#a6fb00 87.3%,#89f800 89.6%,#3bf000 92.7%,#1bf300 95.8%,#00f605 97.1%,#00fb24 99.8%)"></i>
<i style="left:162px;background:linear-gradient(#ff9600 0.2%,#ff9400 6.4%,#ff9500 12.2%,#ffa600 19.8%,#ffd100 25.6%,#ffe600 42.9%,#fdff00 48.7%,#e9ff00 71.8%,#b3fc00 76.7%,#98f900 81.1%,#9efa00 86.4%,#71f500 90.0%,#3af000 92.2%,#14f300 95.8%,#00f503 96.7%,#00fc29 99.3%,#00fd2d 99.8%)"></i>
<i style="left:163px;background:linear-gradient(#ff9600 0.2%,#ff9800 6.9%,#ff9d00 16.7%,#ffb700 21.6%,#ffd700 26.0%,#fe0 43.3%,#fbff00 47.8%,#e3ff00 71.8%,#aafb00 76.7%,#93f900 81.1%,#8ef800 86.4%,#62f400 90.0%,#34f100 92.2%,#16f300 95.3%,#02f500 96.2%,#00fa1d 97.6%,#00fe36 99.8%)"></i>
<i style="left:164px;background:linear-gradient(#ff9600 0.2%,#f90 7.8%,#ffa500 18.4%,#ffdc00 26.0%,#fff700 43.8%,#f5ff00 48.2%,#dfff00 71.3%,#a1fa00 76.7%,#8ef800 81.1%,#85f700 85.6%,#54f200 90.0%,#33f100 91.8%,#11f400 95.3%,#00f607 96.2%,#00fb26 97.6%,#00ff40 99.8%)"></i>
<i style="left:165px;background:linear-gradient(#ff9600 0.2%,#ff9d00 8.2%,#ffa700 18.4%,#ffe100 26.0%,#fbff00 45.1%,#ecff00 54.0%,#d8ff00 71.3%,#95f900 76.2%,#80f700 84.7%,#46f100 90.0%,#23f200 93.1%,#0bf400 95.3%,#01f500 95.8%,#00fc28 97.1%,#00ff50 99.8%)"></i>
<i style="left:166px;background:linear-gradient(#ff9600 0.2%,#ffa100 6.9%,#ffa800 18.0%,#ffce00 22.9%,#ffe600 26.0%,#ff0 41.6%,#e9ff00 52.2%,#d1ff00 71.3%,#a3fa00 74.4%,#86f700 75.8%,#7df700 83.8%,#1ef300 93.1%,#05f500 95.3%,#00fd31 97.1%,#00ff60 99.8%)"></i>
<i style="left:167px;background:linear-gradient(#ff9600 0.2%,#ffa100 6.9%,#ffab00 18.0%,#ffcd00 22.4%,#ffea00 25.6%,#fdff00 36.7%,#ef0 46.4%,#ceff00 70.9%,#9efa00 74.0%,#81f700 74.9%,#77f600 76.7%,#7df600 82.4%,#22f200 91.8%,#09f400 94.9%,#00f501 95.3%,#00fd31 96.7%,#00ff70 99.8%)"></i>
<i style="left:168px;background:linear-gradient(#ff9600 0.2%,#ffa100 6.9%,#ffaf00 18.4%,#ffd700 22.9%,#fff000 26.0%,#fcff00 34.0%,#e9ff00 46.4%,#c9ff00 70.4%,#a6fb00 73.1%,#7af600 74.4%,#6cf500 76.2%,#73f500 82.0%,#37f000 88.2%,#04f500 94.9%,#00ff48 97.1%,#00ff84 99.8%)"></i>
<i style="left:169px;background:linear-gradient(#ff9600 0.2%,#ffa000 6.4%,#ffa800 10.4%,#ffb200 18.4%,#ffd600 22.4%,#fff400 25.6%,#fbff00 32.2%,#e2ff00 47.3%,#c4fe00 70.0%,#a4fa00 72.7%,#78f600 74.0%,#63f400 75.8%,#64f400 82.0%,#38f000 86.4%,#00f604 94.9%,#00ff4a 96.7%,#00ff9a 99.8%)"></i>
<i style="left:170px;background:linear-gradient(#ff9600 0.2%,#ffa000 6.4%,#ffab00 10.9%,#ffb400 18.4%,#ffdb00 22.4%,#fff900 25.6%,#efff00 40.2%,#d8ff00 53.1%,#bcfd00 70.0%,#a2fa00 72.2%,#6df500 74.0%,#57f300 76.2%,#55f200 82.0%,#30f100 86.4%,#01f500 94.4%,#00ff69 97.1%,#00ffae 99.8%)"></i>
<i style="left:171px;background:linear-gradient(#ff9600 0.2%,#ffa000 6.4%,#ffad00 11.3%,#ffb700 18.4%,#ffd900 22.0%,#fffe00 25.6%,#d9ff00 47.8%,#b8fd00 69.6%,#a0fa00 71.8%,#6bf500 73.6%,#4ef200 75.8%,#46f100 82.0%,#01f500 94.0%,#00ff7c 97.1%,#00ffaf 98.9%,#00ffbf 99.8%)"></i>
<i style="left:172px;background:linear-gradient(#ff9600 0.2%,#ffa000 6.4%,#ffb000 11.8%,#ffb900 18.4%,#ffd700 21.6%,#ff0 25.1%,#cfff00 53.6%,#b1fc00 69.6%,#9dfa00 71.3%,#60f400 73.6%,#44f100 75.8%,#32f100 83.3%,#00f605 93.6%,#00fd2f 94.9%,#00ffa3 97.6%,#00ffcf 99.8%)"></i>
<i style="left:173px;background:linear-gradient(#ff9600 0.2%,#ffa100 6.4%,#ffb300 12.2%,#ffbc00 18.4%,#ffdc00 21.6%,#ff0 24.7%,#caff00 53.1%,#aefc00 69.1%,#99f900 70.9%,#4df200 74.0%,#3bf000 75.8%,#2cf100 82.9%,#00f502 91.8%,#00fa20 94.0%,#00ff3f 94.9%,#00ffab 97.1%,#00ffe0 99.8%)"></i>
<i style="left:174px;background:linear-gradient(#ff9600 0.2%,#ff9f00 6.0%,#ffb500 12.7%,#ffbe00 18.4%,#ffe000 21.6%,#fffe00 24.2%,#c5fe00 52.7%,#aafb00 68.7%,#95f900 70.4%,#42f100 74.0%,#36f100 76.7%,#23f200 82.9%,#00f605 90.0%,#00fd32 94.0%,#00ff40 94.4%,#00ffb0 96.7%,#00ffe3 98.9%,#00fff0 99.8%)"></i>
<i style="left:175px;background:linear-gradient(#ff9600 0.2%,#ff9f00 6.0%,#ffb800 13.1%,#ffc100 18.4%,#ffe500 21.6%,#fffe00 23.8%,#c0fe00 52.2%,#a7fb00 68.2%,#91f800 70.0%,#3ff000 73.6%,#32f100 77.1%,#04f500 87.3%,#00f70d 89.1%,#00ff3c 93.6%,#00ff5d 94.4%,#00ffc3 96.7%,#00fff5 98.9%,#00feff 99.8%)"></i>
<i style="left:176px;background:linear-gradient(#ff9600 0.2%,#ff9f00 6.0%,#ffb900 13.1%,#ffc300 18.4%,#fff000 22.0%,#feff00 24.2%,#bbfd00 51.8%,#a1fa00 68.2%,#67f400 71.3%,#38f000 73.6%,#22f200 80.2%,#00f604 86.9%,#00ff4a 92.7%,#00ff7a 94.4%,#00ffd6 96.7%,#0ff 98.4%,#00f4ff 99.8%)"></i>
<i style="left:177px;background:linear-gradient(#ff9600 0.2%,#ff9f00 6.0%,#fb0 13.1%,#ffc600 18.4%,#fffb00 22.9%,#b6fc00 51.8%,#9efa00 67.8%,#65f400 70.9%,#37f000 73.1%,#20f200 79.8%,#02f500 84.2%,#00f811 86.4%,#00ff6c 92.7%,#00ff92 94.4%,#00fff6 97.1%,#00f9ff 98.0%,#00e9ff 99.8%)"></i>
<i style="left:178px;background:linear-gradient(#ff9700 0.2%,#ffa000 6.0%,#ffbd00 13.1%,#ffc800 18.4%,#fffa00 22.4%,#d4ff00 37.1%,#b1fc00 51.8%,#9efa00 66.9%,#7ff700 69.1%,#3af000 72.2%,#2af100 76.7%,#15f300 80.2%,#00f502 82.9%,#00fc2a 86.9%,#00ff47 88.7%,#00ff74 90.9%,#00ff9d 94.0%,#00fffb 96.7%,#00dfff 99.8%)"></i>
<i style="left:179px;background:linear-gradient(#ff9800 0.2%,#ffa000 6.0%,#ffbf00 13.6%,#ffcb00 18.4%,#fff800 22.0%,#f2ff00 27.8%,#c9ff00 40.7%,#acfb00 50.9%,#9af900 66.4%,#75f600 69.1%,#39f000 71.8%,#28f200 75.8%,#19f300 79.3%,#00f604 81.6%,#00fe36 86.4%,#00ff86 90.0%,#00ffbd 94.4%,#00fffe 96.2%,#00dbff 98.9%,#00d4ff 99.8%)"></i>
<i style="left:180px;background:linear-gradient(#ff9800 0.2%,#ffa300 6.4%,#ffc000 13.6%,#ffca00 18.0%,#fff900 22.0%,#f1ff00 27.8%,#c4fe00 40.7%,#a7fb00 50.9%,#96f900 66.0%,#75f600 68.7%,#39f000 71.3%,#26f200 74.9%,#19f300 78.9%,#00f500 80.7%,#00ff3c 85.6%,#00ff95 89.1%,#00ffb0 91.3%,#00ffc6 94.0%,#00ffed 95.3%,#0ff 95.8%,#00deff 97.6%,#00caff 99.8%)"></i>
<i style="left:181px;background:linear-gradient(#f90 0.2%,#ffa300 6.4%,#ffc200 13.6%,#fc0 18.0%,#fff700 21.6%,#f6ff00 26.0%,#bffd00 40.7%,#a2fa00 51.3%,#92f900 65.6%,#75f600 68.2%,#38f000 70.9%,#24f200 74.4%,#19f300 78.4%,#01f500 80.2%,#00fa1c 81.6%,#00ff45 84.7%,#00ffac 88.7%,#00ffc9 91.8%,#00ffd9 94.0%,#00feff 95.3%,#00d3ff 97.6%,#00c0ff 99.8%)"></i>
<i style="left:182px;background:linear-gradient(#f90 0.2%,#ffa300 6.4%,#ffc300 13.6%,#ffd000 18.0%,#fff500 21.1%,#faff00 24.7%,#bafd00 40.7%,#9dfa00 52.2%,#8cf800 65.6%,#6df500 68.2%,#38f000 70.4%,#22f200 73.6%,#15f300 78.4%,#03f500 79.8%,#00fc28 81.6%,#00ff4c 83.8%,#00ffb6 87.8%,#00ffd7 90.4%,#00ffec 94.0%,#00fcff 94.9%,#00ceff 97.1%,#00b5ff 99.8%)"></i>
<i style="left:183px;background:linear-gradient(#ff9a00 0.2%,#ffa400 6.4%,#ffc500 13.6%,#ffcf00 17.6%,#fff600 21.1%,#f9ff00 24.7%,#b7fd00 39.8%,#98f900 52.2%,#89f800 65.1%,#65f400 68.2%,#30f100 70.4%,#1ff200 73.6%,#15f300 78.0%,#00f606 79.8%,#00fd2e 81.1%,#00ff50 82.9%,#00ffb5 86.4%,#00ffe8 89.6%,#0ff 94.0%,#00beff 97.6%,#0af 99.8%)"></i>
<i style="left:184px;background:linear-gradient(#ff9b00 0.2%,#ffa400 6.4%,#ffc700 14.0%,#ffd200 17.6%,#fff600 21.1%,#f6ff00 25.1%,#b4fc00 39.3%,#93f900 51.8%,#83f700 65.1%,#67f400 67.8%,#29f200 70.4%,#1bf300 74.0%,#12f400 78.0%,#00f500 79.3%,#00fd30 80.7%,#00ff91 84.2%,#00ffce 86.4%,#00fffb 89.1%,#00f1ff 94.0%,#00b3ff 97.6%,#00a0ff 99.8%)"></i>
<i style="left:185px;background:linear-gradient(#ff9b00 0.2%,#ffa500 6.4%,#ffc900 14.4%,#ffd500 17.6%,#fff700 21.1%,#f3ff00 26.0%,#abfb00 40.7%,#8ef800 51.8%,#7ef700 65.1%,#60f400 67.8%,#22f200 70.4%,#17f300 74.9%,#0ef400 78.0%,#03f500 78.9%,#00ff68 82.0%,#00ffde 86.0%,#00feff 87.8%,#00e3ff 94.0%,#00a8ff 97.6%,#0094ff 99.8%)"></i>
<i style="left:186px;background:linear-gradient(#ff9c00 0.2%,#ffa500 6.4%,#ffca00 14.4%,#ffd900 17.6%,#fffd00 22.0%,#d3ff00 32.2%,#a3fa00 42.0%,#89f800 51.8%,#79f600 65.1%,#59f300 67.8%,#1bf300 70.4%,#0ef400 77.6%,#00f604 78.9%,#00ff63 81.1%,#00fff7 86.0%,#00faff 86.9%,#00d6ff 94.0%,#009dff 97.6%,#0082ff 99.8%)"></i>
<i style="left:187px;background:linear-gradient(#ff9c00 0.2%,#ffa600 6.4%,#ffcb00 14.9%,#ffe100 18.0%,#feff00 22.4%,#c9ff00 33.6%,#8af800 47.3%,#74f600 65.1%,#5bf300 67.3%,#19f300 70.0%,#10f400 72.7%,#0bf400 77.6%,#02f500 78.4%,#00ff79 81.1%,#00fff9 85.1%,#00efff 86.9%,#00c8ff 94.0%,#0070ff 99.8%)"></i>
<i style="left:188px;background:linear-gradient(#ff9d00 0.2%,#ffa600 6.4%,#ffda00 17.1%,#ff0 22.0%,#cbff00 33.1%,#82f700 47.8%,#70f500 65.1%,#55f200 67.3%,#11f400 70.0%,#0cf400 73.1%,#0bf400 77.1%,#04f500 78.0%,#00f70a 78.4%,#00ff7e 80.7%,#00feff 84.7%,#0df 87.8%,#00baff 94.0%,#005dff 99.8%)"></i>
<i style="left:189px;background:linear-gradient(#ff9e00 0.2%,#ffa900 6.9%,#fd0 17.1%,#fcff00 22.4%,#cdff00 32.7%,#7ff700 47.3%,#6bf500 65.1%,#4ff200 67.3%,#09f400 70.0%,#0af400 74.0%,#05f500 77.6%,#00f500 78.0%,#00ff80 80.2%,#00ffb2 81.6%,#00faff 84.2%,#00dbff 86.4%,#00b1ff 93.6%,#0083ff 96.2%,#0045ff 99.8%)"></i>
<i style="left:190px;background:linear-gradient(#ff9e00 0.2%,#ffa900 6.9%,#ffe300 17.6%,#fdff00 22.0%,#cf0 32.7%,#7af600 47.8%,#6af500 64.7%,#51f200 66.9%,#33f100 68.2%,#09f400 69.6%,#00f501 71.3%,#07f400 76.7%,#01f500 77.6%,#00ff47 78.9%,#00ff81 79.8%,#00ffab 80.7%,#00fffb 83.3%,#00d4ff 86.0%,#00a4ff 93.6%,#0071ff 96.2%,#002dff 99.8%)"></i>
<i style="left:191px;background:linear-gradient(#ff9f00 0.2%,#ffa900 6.9%,#ffe500 17.6%,#fcff00 22.0%,#cdff00 32.2%,#77f600 47.3%,#65f400 64.7%,#4cf200 66.9%,#29f200 68.2%,#00f500 69.6%,#00f709 71.3%,#05f500 74.9%,#02f500 77.1%,#00f70b 77.6%,#00ff3f 78.4%,#00ff80 79.3%,#00ffae 80.2%,#00fffe 82.9%,#0cf 85.6%,#009bff 93.1%,#0069ff 95.8%,#0023ff 98.9%,#0015ff 99.8%)"></i>
<i style="left:192px;background:linear-gradient(#ffa000 0.2%,#fa0 6.9%,#ffea00 18.0%,#fbff00 22.0%,#cfff00 31.8%,#73f600 47.3%,#61f400 64.7%,#46f100 66.9%,#32f100 67.8%,#01f500 69.1%,#00f811 70.9%,#02f500 74.9%,#02f500 76.7%,#00f607 77.1%,#00fe39 78.0%,#00ff7f 78.9%,#00ffb0 79.8%,#00fdff 82.4%,#00c0ff 85.6%,#0098ff 92.2%,#005fff 95.3%,#001cff 98.0%,#0200ff 99.8%)"></i>
<i style="left:193px;background:linear-gradient(#ffa100 0.2%,#ffac00 6.9%,#fe0 18.4%,#fcff00 21.6%,#d4ff00 30.9%,#71f500 46.9%,#5df300 64.7%,#39f000 67.3%,#05f500 68.7%,#00f918 70.4%,#00f80f 73.6%,#00f500 76.2%,#00fa1e 77.1%,#00fe35 77.6%,#00ff9a 78.9%,#00ffd1 80.2%,#00fbff 82.0%,#00b4ff 85.6%,#0093ff 91.3%,#0060ff 94.4%,#000cff 97.6%,#0900ff 98.9%,#1400ff 99.8%)"></i>
<i style="left:194px;background:linear-gradient(#ffa200 0.2%,#ffad00 6.9%,#fff600 19.3%,#f9ff00 22.0%,#d7ff00 30.4%,#6ff500 46.4%,#64f400 56.7%,#59f300 64.7%,#3bf000 66.9%,#1df300 67.8%,#00f604 68.7%,#00fa1f 70.4%,#00f916 74.4%,#00f815 76.2%,#00fe34 77.1%,#00ff9a 78.4%,#00ffd5 79.8%,#00fffc 81.1%,#00a8ff 85.6%,#008aff 90.4%,#0052ff 94.0%,#0200ff 97.1%,#2600ff 99.8%)"></i>
<i style="left:195px;background:linear-gradient(#ffa300 0.2%,#ffae00 6.9%,#fff800 19.3%,#f6ff00 22.9%,#d4ff00 30.9%,#6df500 46.0%,#61f400 53.6%,#54f200 64.7%,#38f000 66.9%,#01f500 68.2%,#00fb23 70.0%,#00fb26 73.6%,#00fb25 75.8%,#00fe37 76.7%,#00ff9b 78.0%,#00ffd8 79.3%,#00fdff 80.7%,#009cff 85.6%,#0076ff 90.4%,#0043ff 93.6%,#0300ff 96.2%,#3600ff 99.8%)"></i>
<i style="left:196px;background:linear-gradient(#ffa500 0.2%,#ffb000 6.9%,#fcff00 20.7%,#daff00 30.0%,#69f400 46.0%,#5df300 53.6%,#50f200 64.7%,#2ff100 66.9%,#08f400 67.8%,#00f814 68.7%,#00fd2d 70.4%,#00fe38 75.8%,#00ff43 76.2%,#00ffb6 78.0%,#00fffa 79.8%,#00afff 83.8%,#08f 86.0%,#0061ff 90.4%,#0016ff 94.4%,#0300ff 95.3%,#2d00ff 97.6%,#4200ff 99.8%)"></i>
<i style="left:197px;background:linear-gradient(#ffa600 0.2%,#ffb100 6.9%,#fbff00 20.7%,#daff00 30.0%,#67f400 45.6%,#5af300 52.2%,#4cf200 64.7%,#37f000 66.4%,#00f502 67.8%,#00fb25 69.1%,#00fe38 71.3%,#00ff45 74.9%,#00ff58 75.8%,#00ff85 76.7%,#00ffce 78.0%,#00feff 79.3%,#09f 84.2%,#0078ff 86.0%,#004dff 90.0%,#0300ff 94.4%,#2d00ff 96.2%,#4c00ff 99.8%)"></i>
<i style="left:198px;background:linear-gradient(#ffa700 0.2%,#ffb200 6.9%,#fcff00 20.2%,#dbff00 30.0%,#65f400 45.1%,#56f300 51.3%,#47f100 64.7%,#39f000 66.0%,#07f400 67.3%,#00fd2d 69.1%,#00ff61 74.9%,#00ff91 76.2%,#00ffe7 78.0%,#00faff 78.9%,#00a1ff 83.3%,#006dff 85.6%,#001cff 91.3%,#00f 93.1%,#3400ff 95.3%,#5700ff 99.8%)"></i>
<i style="left:199px;background:linear-gradient(#ffac00 0.2%,#ffb400 6.9%,#fdff00 19.8%,#deff00 29.6%,#8ef800 39.3%,#5ff400 45.6%,#52f200 52.2%,#43f100 64.7%,#34f100 66.0%,#00f604 67.3%,#00fc2d 68.7%,#00ff52 71.3%,#00ff73 74.4%,#00ffb3 76.2%,#0ff 78.0%,#0095ff 83.3%,#0053ff 86.0%,#0002ff 91.3%,#3c00ff 94.4%,#6200ff 99.8%)"></i>
<i style="left:200px;background:linear-gradient(#ffb400 0.2%,#ffbe00 8.7%,#feff00 19.3%,#deff00 29.6%,#93f900 38.9%,#66f400 43.8%,#4ef200 50.0%,#42f100 64.2%,#38f000 65.6%,#05f500 66.9%,#00fe35 68.7%,#00ff5c 70.9%,#00ff7c 73.6%,#00ffc0 75.8%,#00fff6 77.1%,#00f1ff 78.0%,#0093ff 82.9%,#003dff 86.0%,#0500ff 90.0%,#4000ff 93.1%,#5800ff 96.2%,#6c00ff 99.8%)"></i>
<i style="left:201px;background:linear-gradient(#ffbc00 0.2%,#ffc800 10.0%,#fdff00 19.3%,#deff00 29.6%,#98f900 38.4%,#68f400 42.9%,#4af100 49.6%,#3ef000 64.2%,#2ff100 65.6%,#00f607 66.9%,#00fe34 68.2%,#00ff64 70.4%,#00ff8f 73.1%,#00ffdc 75.8%,#0ff 76.7%,#0091ff 82.4%,#0030ff 85.6%,#0001ff 88.2%,#5900ff 93.1%,#7500fb 99.8%)"></i>
<i style="left:202px;background:linear-gradient(#ffc400 0.2%,#ffd000 10.0%,#feff00 18.9%,#deff00 29.6%,#9dfa00 38.0%,#62f400 42.9%,#46f100 50.0%,#39f000 64.7%,#25f200 65.6%,#03f500 66.4%,#00fd33 67.8%,#00ff6a 70.0%,#00ffca 74.4%,#00fff9 75.8%,#00ceff 78.4%,#008dff 82.0%,#04f 84.2%,#01f 86.0%,#00f 86.9%,#7200ff 93.1%,#7500fb 98.4%,#7c00ef 99.8%)"></i>
<i style="left:203px;background:linear-gradient(#fc0 0.2%,#ffd800 9.6%,#fdff00 18.9%,#dfff00 29.6%,#9dfa00 38.0%,#58f300 43.3%,#42f100 50.9%,#39f000 64.2%,#29f200 65.1%,#0bf400 66.0%,#00f70b 66.4%,#00fd31 67.3%,#00ff67 69.1%,#00ffb7 72.7%,#00fff3 74.9%,#00fcff 75.3%,#007dff 82.0%,#0041ff 83.8%,#0005ff 85.6%,#7300ff 91.8%,#7a00f3 94.4%,#7e00ec 98.9%,#8200e4 99.8%)"></i>
<i style="left:204px;background:linear-gradient(#ffdc00 0.2%,#ffe700 11.3%,#fcff00 19.3%,#ebff00 23.3%,#cfff00 32.2%,#90f800 38.9%,#51f200 43.3%,#3ef000 51.8%,#37f000 63.8%,#1ff200 65.1%,#01f500 66.0%,#00fd2e 66.9%,#00ff6b 68.7%,#00ffac 70.9%,#00ffe1 73.6%,#00fffd 74.4%,#0078ff 81.6%,#004fff 82.9%,#0400ff 85.1%,#3c00ff 87.8%,#7400fd 90.9%,#7f00e9 93.6%,#8400e0 98.9%,#8800d9 99.8%)"></i>
<i style="left:205px;background:linear-gradient(#ffeb00 0.2%,#fff800 14.9%,#f8ff00 19.8%,#d6ff00 25.1%,#c1fe00 34.0%,#90f800 38.9%,#45f100 43.8%,#3df000 46.4%,#32f100 62.4%,#28f200 64.2%,#07f400 65.6%,#00ff3a 66.9%,#00ffa3 69.6%,#00faff 74.0%,#00b4ff 77.6%,#0070ff 81.1%,#004bff 82.4%,#0006ff 84.2%,#3000ff 86.0%,#7500fc 90.0%,#8500df 93.1%,#8b00d4 98.9%,#8b00cd 99.8%)"></i>
<i style="left:206px;background:linear-gradient(#fffa00 0.2%,#fbff00 17.1%,#cdff00 23.8%,#a9fb00 36.7%,#87f800 39.3%,#3df000 43.8%,#35f100 47.3%,#33f100 58.4%,#1ef200 64.2%,#0bf400 65.1%,#00f608 65.6%,#00ff51 66.9%,#00ff73 67.8%,#00ffaf 69.1%,#00feff 73.1%,#00c2ff 75.8%,#0083ff 79.3%,#0045ff 82.0%,#0003ff 83.8%,#2f00ff 85.1%,#7600fa 89.1%,#8a00d5 92.7%,#8b00c4 99.3%,#8a00c0 99.8%)"></i>
<i style="left:207px;background:linear-gradient(#edff00 0.2%,#e9ff00 16.2%,#b9fd00 24.7%,#9dfa00 35.8%,#7ef700 39.8%,#38f000 43.8%,#2bf100 47.8%,#2cf100 55.8%,#14f300 64.2%,#01f500 65.1%,#00fe39 66.0%,#00ffad 68.2%,#00ffdf 70.4%,#00fffe 72.2%,#00b9ff 75.3%,#008dff 78.0%,#002fff 82.0%,#0100ff 83.3%,#3600ff 84.7%,#7600fa 88.2%,#8c00d1 91.3%,#8900b4 99.8%)"></i>
<i style="left:208px;background:linear-gradient(#d3ff00 0.2%,#ceff00 16.7%,#a9fb00 24.2%,#99f900 31.8%,#5ff400 40.2%,#46f100 42.4%,#27f200 45.6%,#0ff400 63.8%,#02f500 64.7%,#00ff59 66.0%,#0fa 67.3%,#00ffdc 69.1%,#00feff 71.3%,#00b6ff 74.4%,#008aff 77.1%,#0019ff 82.0%,#0700ff 82.9%,#3000ff 83.8%,#7500fc 87.3%,#8c00d0 90.0%,#8a00bc 93.1%,#8800a7 99.8%)"></i>
<i style="left:209px;background:linear-gradient(#b4fc00 0.2%,#aefc00 17.1%,#95f900 21.6%,#7ff700 25.6%,#67f400 33.6%,#4ef200 38.9%,#2ef100 42.9%,#12f300 49.1%,#05f500 63.8%,#01f500 64.2%,#00ff65 65.6%,#00ffa6 66.4%,#00ffd8 67.8%,#00fdff 70.0%,#00a3ff 74.4%,#005dff 78.0%,#0004ff 82.0%,#3700ff 83.3%,#7400fd 86.4%,#8b00cb 89.1%,#8900b1 92.2%,#85009d 99.8%)"></i>
<i style="left:210px;background:linear-gradient(#79f600 0.2%,#74f600 16.2%,#41f000 23.8%,#1cf300 40.7%,#03f500 50.4%,#00f605 59.3%,#00fb26 63.8%,#00ff3c 64.2%,#00ffab 65.6%,#00ffe1 66.9%,#00fffd 68.2%,#0067ff 76.2%,#0002ff 81.1%,#3e00ff 82.9%,#7500fc 85.6%,#8b00c9 88.2%,#8800ac 90.4%,#810097 99.8%)"></i>
<i style="left:211px;background:linear-gradient(#29f200 0.2%,#22f200 19.3%,#10f400 30.4%,#00f605 34.0%,#00fa1f 37.1%,#00fc28 44.2%,#00ff46 50.9%,#00ff58 56.7%,#00ff8b 62.0%,#00ffa5 63.8%,#00fff6 66.0%,#00f5ff 66.9%,#00a6ff 71.3%,#0057ff 75.3%,#0001ff 79.8%,#5300ff 82.9%,#7600fa 84.7%,#8b00c9 87.3%,#87009f 90.0%,#7e0092 99.8%)"></i>
<i style="left:212px;background:linear-gradient(#00f915 0.2%,#00f915 26.0%,#00fd2e 29.1%,#00ff50 30.9%,#00ffa7 34.4%,#00ffc2 37.1%,#00ffd6 44.2%,#00ffc4 46.9%,#00ffe4 57.6%,#00fbff 62.0%,#00e3ff 65.1%,#0062ff 73.1%,#000fff 77.1%,#0001ff 78.0%,#3800ff 80.2%,#7000ff 83.3%,#8c00d0 86.0%,#83009b 89.1%,#7b008e 99.8%)"></i>
<i style="left:213px;background:linear-gradient(#00ffb4 0.2%,#00ffab 6.0%,#00ff83 13.6%,#00ff8f 19.8%,#00ffc4 27.3%,#00fcff 30.9%,#00ceff 35.3%,#00c8ff 39.8%,#00ceff 53.1%,#00afff 64.7%,#005cff 70.9%,#0100ff 75.8%,#3800ff 78.0%,#7400fd 82.4%,#8b00ca 85.1%,#820098 88.2%,#78008a 99.8%)"></i>
<i style="left:214px;background:linear-gradient(#00beff 0.2%,#00c7ff 5.6%,#00fdff 13.6%,#00f4ff 18.4%,#00a7ff 28.2%,#0068ff 34.4%,#005cff 38.4%,#007bff 46.9%,#006eff 63.8%,#0052ff 66.9%,#0001ff 73.1%,#4600ff 76.2%,#7500fb 80.7%,#8b00cc 83.8%,#810098 87.3%,#7a008c 91.3%,#760086 99.8%)"></i>
<i style="left:215px;background:linear-gradient(#0015ff 0.2%,#001aff 4.2%,#006fff 11.8%,#0079ff 15.8%,#005cff 20.2%,#00f 27.8%,#2500ff 37.1%,#1700ff 42.4%,#0002ff 45.6%,#000cff 52.7%,#0005ff 65.6%,#1b00ff 71.3%,#5900ff 74.9%,#7500fc 76.7%,#8c00d1 82.0%,#84009c 85.6%,#760087 90.4%,#740084 96.7%,#730082 99.8%)"></i>
<i style="left:216px;background:linear-gradient(#4500ff 0.2%,#3a00ff 7.3%,#1c00ff 14.9%,#6700ff 37.1%,#50f 45.1%,#3e00ff 54.0%,#3e00ff 68.2%,#4900ff 71.8%,#7100ff 74.0%,#8700db 77.1%,#8900b4 82.0%,#810097 84.7%,#730081 90.4%,#730082 95.8%,#70007d 99.8%)"></i>
<i style="left:217px;background:linear-gradient(#7b00f0 0.2%,#7500fb 6.9%,#6100ff 15.3%,#7700f9 24.2%,#8700db 38.0%,#6c00ff 57.6%,#6800ff 70.9%,#7400fd 72.2%,#8b00cb 75.3%,#7e0093 83.8%,#6f007c 90.4%,#70007d 95.8%,#6d0079 99.8%)"></i>
<i style="left:218px;background:linear-gradient(#8700a0 0.2%,#8800a9 6.4%,#8b00cc 14.9%,#8900b4 30.4%,#8800ac 40.2%,#8700db 59.3%,#8600dd 71.3%,#8800a8 75.3%,#6b0076 90.0%,#6e007b 95.3%,#6a0075 99.8%)"></i>
<i style="left:219px;background:linear-gradient(#720081 0.2%,#7f0094 25.6%,#7f0094 46.0%,#8800af 66.0%,#8800a9 71.8%,#7f0094 75.3%,#6b0076 89.6%,#6a0075 95.8%,#6b0075 99.8%)"></i>
<i style="left:220px;background:linear-gradient(#70007e 0.2%,#6b0077 15.3%,#71007f 30.9%,#79008c 55.3%,#7a008d 73.1%,#6b0076 87.8%,#6e007a 90.9%,#6a0074 94.9%,#6e007a 99.8%)"></i>
<i style="left:221px;background:linear-gradient(#7f0094 0.2%,#70007e 20.7%,#6c0077 51.3%,#71007f 72.2%,#6b0075 85.6%,#730082 90.4%,#6b0076 94.4%,#71007f 99.8%)"></i>
<i style="left:222px;background:linear-gradient(#8b00c8 0.2%,#8a00bc 8.7%,#7d0092 21.6%,#6b0076 70.4%,#710080 86.4%,#770089 90.4%,#6f007d 94.4%,#740084 99.8%)"></i>
<i style="left:223px;background:linear-gradient(#6d00ff 0.2%,#7700f9 9.6%,#8c00cd 19.3%,#80a 26.4%,#750085 64.2%,#730081 73.6%,#7a008d 87.8%,#7a008c 91.3%,#750084 94.9%,#708 99.8%)"></i>
<i style="left:224px;background:linear-gradient(#2f00ff 0.2%,#3c00ff 8.7%,#6800ff 19.3%,#7900f4 22.4%,#8800d9 30.9%,#8900b7 43.8%,#83009a 55.3%,#7f0093 72.2%,#780089 77.1%,#7f0095 90.9%,#79008a 94.9%,#7a008d 99.8%)"></i>
<i style="left:225px;background:linear-gradient(#008bff 0.2%,#0084ff 4.7%,#005bff 8.2%,#0003ff 12.7%,#6500ff 32.7%,#7800f6 39.3%,#8b00cb 51.8%,#8900b6 64.2%,#8b00c6 70.9%,#83009a 73.6%,#7f0094 77.6%,#83009a 83.3%,#86009e 87.8%,#8700a0 90.4%,#7c0090 94.4%,#7d0092 99.8%)"></i>
<i style="left:226px;background:linear-gradient(#00ffc3 0.2%,#0fc 5.6%,#00feff 11.3%,#00beff 18.0%,#07f 25.6%,#0001ff 34.4%,#6e00ff 46.9%,#8300e2 63.3%,#7900f5 70.9%,#8c00d1 72.7%,#8700a4 74.9%,#8700a3 77.6%,#8900b8 82.0%,#8800ac 86.4%,#8900b7 90.0%,#810098 93.6%,#810096 99.8%)"></i>
<i style="left:227px;background:linear-gradient(#00fa20 0.2%,#00fc2b 6.9%,#00ff48 10.9%,#00ff9e 19.3%,#00ffec 28.2%,#00fcff 30.0%,#07f 39.8%,#0042ff 42.0%,#0100ff 44.2%,#3600ff 48.2%,#5f00ff 60.2%,#5c00ff 66.0%,#5000ff 70.9%,#6d00ff 72.2%,#8c00d3 74.0%,#8a00bb 75.8%,#8a00d5 82.0%,#8b00c5 86.4%,#8b00c9 90.4%,#8700a1 94.4%,#85009d 99.8%)"></i>
<i style="left:228px;background:linear-gradient(#51f200 0.2%,#4bf200 4.2%,#15f300 12.7%,#00f605 19.8%,#00ff3e 28.2%,#00ffde 37.6%,#00fcff 39.8%,#0085ff 46.4%,#0029ff 50.9%,#0200ff 54.0%,#20f 62.0%,#1c00ff 70.9%,#3d00ff 72.2%,#7400fd 73.6%,#8700db 75.3%,#8500df 78.0%,#7b00f1 81.6%,#8600dc 86.4%,#8700dc 90.4%,#8900b5 94.4%,#8800a9 99.8%)"></i>
<i style="left:229px;background:linear-gradient(#d8ff00 0.2%,#d0ff00 5.1%,#94f900 10.4%,#62f400 14.4%,#32f100 23.8%,#00f502 33.1%,#00ff47 38.9%,#00ffc3 44.2%,#00fbff 47.8%,#00afff 54.4%,#007cff 61.1%,#006eff 65.6%,#0040ff 70.0%,#0035ff 71.3%,#000cff 72.2%,#0e00ff 72.7%,#6800ff 74.4%,#7800f5 75.3%,#7600fa 78.0%,#6400ff 81.6%,#7700f8 84.7%,#7e00eb 90.9%,#8b00cb 94.0%,#8900b8 99.8%)"></i>
<i style="left:230px;background:linear-gradient(#ffe200 0.2%,#ffea00 5.1%,#fbff00 8.2%,#c3fe00 14.4%,#99f900 26.4%,#38f000 33.1%,#00f501 42.0%,#00ff41 46.4%,#00ff94 50.4%,#00ffda 56.2%,#00fffc 61.6%,#00f8ff 64.7%,#009dff 69.6%,#0089ff 71.8%,#0068ff 72.7%,#001dff 73.6%,#0b00ff 74.0%,#3d00ff 74.9%,#5300ff 75.8%,#40f 81.6%,#6800ff 87.8%,#7600f9 91.3%,#8b00d3 95.8%,#8b00c6 99.8%)"></i>
<i style="left:231px;background:linear-gradient(#ffb300 0.2%,#fb0 5.6%,#feff00 14.0%,#bcfd00 29.6%,#9bf900 33.6%,#48f100 39.3%,#03f500 49.1%,#00fd30 54.4%,#0f7 60.7%,#00ff89 64.2%,#00fff8 67.3%,#00f7ff 68.7%,#00f4ff 70.9%,#00b1ff 73.1%,#0080ff 74.0%,#0012ff 75.3%,#0500ff 75.8%,#1700ff 78.0%,#2600ff 82.9%,#6100ff 91.3%,#7600f9 93.1%,#8800d9 98.0%,#8b00d4 99.8%)"></i>
<i style="left:232px;background:linear-gradient(#ff8600 0.2%,#ff8d00 4.7%,#ffe300 17.1%,#faff00 25.1%,#bdfd00 35.8%,#92f900 41.1%,#39f000 48.7%,#00f604 59.8%,#00f917 64.7%,#00fe36 66.9%,#00ff9c 69.6%,#00ffac 70.4%,#00ffb7 71.8%,#00ffc1 72.2%,#00fff3 72.7%,#00f3ff 73.1%,#00d2ff 74.4%,#00a0ff 75.8%,#06f 78.9%,#003aff 81.1%,#0100ff 84.7%,#3b00ff 90.0%,#6700ff 93.6%,#7900f5 95.3%,#8400e0 99.8%)"></i>
<i style="left:233px;background:linear-gradient(#ff5200 0.2%,#ff5900 4.7%,#ffa700 12.7%,#faff00 32.7%,#98f900 48.7%,#38f000 57.6%,#1ef300 65.6%,#03f500 67.8%,#00fe35 70.0%,#00ff41 71.8%,#00ff5a 72.7%,#00ff6e 73.1%,#00ffc3 74.0%,#00ffe2 74.9%,#00ffe9 76.2%,#00fbff 77.1%,#0af 80.7%,#009aff 82.4%,#004eff 86.4%,#0007ff 88.2%,#10f 89.6%,#5900ff 94.4%,#7400fc 96.2%,#7d00ed 99.8%)"></i>
<i style="left:234px;background:linear-gradient(#ff2c00 0.2%,#ff3200 4.2%,#ff8d00 13.6%,#ffe200 33.6%,#f9ff00 39.3%,#a3fa00 55.8%,#74f600 62.0%,#68f400 64.7%,#2cf100 67.3%,#05f500 70.0%,#00f606 72.7%,#00fe38 74.4%,#00ff5d 75.3%,#00ff71 76.7%,#00fff7 79.3%,#00faff 80.2%,#00f5ff 81.6%,#00ceff 82.9%,#00ceff 83.8%,#00abff 86.4%,#006fff 88.2%,#0001ff 91.3%,#2800ff 93.6%,#6300ff 96.2%,#7500fb 99.3%,#7600fa 99.8%)"></i>
<i style="left:235px;background:linear-gradient(#ff1600 0.2%,#ff1c00 5.6%,#ff6e00 13.1%,#ffa400 26.0%,#ffd900 38.4%,#faff00 44.7%,#bafd00 60.7%,#acfb00 64.7%,#8df800 66.0%,#39f000 68.2%,#1df300 70.4%,#14f300 73.6%,#00f501 76.2%,#00f917 77.6%,#00ff48 78.9%,#00ff9a 80.2%,#00ffac 80.7%,#00ffc1 82.0%,#00ffd1 82.4%,#00fcff 82.9%,#00efff 83.8%,#00feff 86.0%,#00dcff 87.3%,#009eff 89.1%,#0087ff 90.9%,#0054ff 92.2%,#000dff 93.6%,#0700ff 94.0%,#3c00ff 95.3%,#5b00ff 97.1%,#6900ff 99.8%)"></i>
<i style="left:236px;background:linear-gradient(#ff1000 0.2%,#ff1800 7.3%,#ff5300 13.1%,#f80 24.7%,#ffc100 39.8%,#feff00 50.0%,#d1ff00 64.7%,#a4fa00 66.9%,#41f100 69.6%,#33f100 71.3%,#2ff100 74.0%,#10f400 78.0%,#01f500 78.9%,#00ff4c 81.1%,#00ff50 81.6%,#0f7 82.4%,#00ff92 82.9%,#00ffba 83.3%,#00ffd5 83.8%,#00ffdb 84.2%,#00ffc6 85.6%,#00ffc7 86.0%,#00ffd9 86.4%,#00fff6 86.9%,#00eaff 87.8%,#00d7ff 89.1%,#00d6ff 90.0%,#00c1ff 90.9%,#00beff 91.8%,#0070ff 93.6%,#0053ff 94.0%,#0600ff 94.9%,#3100ff 95.8%,#4d00ff 97.6%,#5900ff 99.8%)"></i>
<i style="left:237px;background:linear-gradient(#ff0900 0.2%,#ff1600 8.7%,#ff4900 14.9%,#ff8c00 33.1%,#ffaf00 41.1%,#ffea00 52.2%,#f9ff00 63.3%,#e2ff00 65.6%,#a4fa00 68.2%,#6bf500 70.0%,#58f300 72.2%,#5ff400 74.0%,#36f000 77.6%,#00f603 80.7%,#00f916 82.0%,#00fe35 82.9%,#00ff86 84.2%,#00ff87 85.1%,#00ff84 86.0%,#00ffb1 86.9%,#00ffdf 87.8%,#00ffe9 88.2%,#00ffe1 89.1%,#00ffe9 90.0%,#00fdff 90.4%,#00e7ff 90.9%,#0df 91.8%,#00e3ff 92.7%,#009fff 94.0%,#007aff 94.4%,#000fff 95.3%,#1000ff 95.8%,#3000ff 96.7%,#4900ff 99.8%)"></i>
<i style="left:238px;background:linear-gradient(#ff0300 0.2%,#ff1000 8.7%,#ff2300 12.2%,#ff4600 18.9%,#ff9e00 42.4%,#ffcb00 51.3%,#fff100 64.2%,#f8ff00 65.6%,#8ff800 70.9%,#85f700 73.1%,#8ff800 75.3%,#86f700 76.7%,#5df300 78.0%,#38f000 78.9%,#16f300 80.7%,#01f500 82.9%,#00fe37 84.7%,#00ff3a 86.0%,#00ff6c 87.3%,#00ff83 88.2%,#00ffab 89.6%,#00ffba 90.4%,#00ffd2 90.9%,#00faff 91.3%,#00f4ff 92.2%,#00fdff 93.1%,#00f9ff 93.6%,#00b9ff 94.4%,#005cff 95.3%,#0024ff 95.8%,#0400ff 96.2%,#2600ff 97.6%,#3900ff 99.8%)"></i>
<i style="left:239px;background:linear-gradient(#f00 0.2%,#ff0700 7.8%,#f80 41.6%,#ffc100 54.4%,#ffda00 64.2%,#fffd00 66.0%,#b3fc00 70.4%,#acfb00 74.0%,#adfb00 76.7%,#9af900 77.6%,#3af000 79.8%,#28f200 81.6%,#02f500 84.2%,#00f810 85.6%,#00fb23 87.3%,#0f4 88.7%,#00ff5e 89.6%,#00ff62 90.0%,#00ff72 90.4%,#00ff8f 90.9%,#00ffe0 91.8%,#00ffea 92.2%,#00ffde 93.6%,#00fff0 94.0%,#00f3ff 94.4%,#0036ff 96.2%,#01f 96.7%,#0400ff 97.1%,#2300ff 99.8%)"></i>
<i style="left:240px;background:linear-gradient(#f00 0.2%,#ff0700 9.6%,#ff3800 25.6%,#ff6e00 39.8%,#ffa600 52.2%,#ffc900 64.7%,#fffd00 66.9%,#ceff00 70.0%,#c4fe00 73.1%,#c5fe00 76.7%,#9dfa00 78.4%,#53f200 80.2%,#12f400 84.7%,#01f500 87.8%,#00fb25 89.6%,#00fd30 90.4%,#00ff42 90.9%,#00ff69 91.3%,#0f9 91.8%,#00ffb4 92.2%,#00ffb8 93.6%,#00ffc9 94.0%,#00fff4 94.4%,#00edff 94.9%,#00caff 95.3%,#0049ff 96.7%,#002dff 97.1%,#0004ff 98.4%,#0b00ff 99.8%)"></i>
<i style="left:241px;background:linear-gradient(#f00 0.2%,#ff0500 10.9%,#ff2400 25.6%,#ff5e00 39.8%,#ff8a00 47.8%,#ffb800 64.7%,#ffd700 66.4%,#fffc00 67.8%,#dfff00 70.4%,#d7ff00 73.1%,#dbff00 76.7%,#b7fd00 78.4%,#73f500 80.7%,#61f400 82.0%,#39f000 83.3%,#21f200 85.6%,#0ef400 88.2%,#00f606 90.4%,#00fc2b 91.3%,#00ff48 91.8%,#00ff72 92.2%,#00ff81 92.7%,#00ff8a 93.6%,#00ff9f 94.0%,#00fcff 94.9%,#00c5ff 95.8%,#007bff 96.7%,#0051ff 97.6%,#0023ff 99.3%,#001cff 99.8%)"></i>
<i style="left:242px;background:linear-gradient(#f00 0.2%,#ff0500 13.1%,#ff2100 30.0%,#ff5200 40.2%,#ff8200 48.2%,#ffa800 64.7%,#ffd700 67.3%,#fdff00 69.1%,#e4ff00 73.1%,#f1ff00 76.2%,#d9ff00 78.0%,#9efa00 80.7%,#8bf800 82.0%,#5af300 83.3%,#37f000 85.1%,#27f200 87.8%,#00f501 91.3%,#00ff46 92.7%,#00ff58 93.6%,#00ff6c 94.0%,#00ff9d 94.4%,#00ffdb 94.9%,#00f3ff 95.3%,#008aff 97.1%,#004dff 99.8%)"></i>
<i style="left:243px;background:linear-gradient(#f00 0.2%,#ff0700 17.6%,#ff2100 34.4%,#ff4b00 41.1%,#ff7900 48.7%,#ff9400 63.3%,#ffa500 65.6%,#fff600 70.0%,#f8ff00 72.2%,#f4ff00 74.0%,#fffd00 76.2%,#e8ff00 78.0%,#b2fc00 80.7%,#a1fa00 82.4%,#71f500 83.8%,#56f300 85.6%,#4bf200 86.9%,#28f200 89.1%,#19f300 90.9%,#07f400 91.8%,#00f608 92.2%,#00fb21 92.7%,#00ff3a 94.0%,#00ff67 94.4%,#00ffef 95.3%,#00ecff 95.8%,#0af 97.1%,#07f 99.8%)"></i>
<i style="left:244px;background:linear-gradient(#f00 0.2%,#ff0600 22.9%,#ff2000 37.6%,#ff6700 46.9%,#ff8a00 60.2%,#ff9200 64.7%,#ffe300 70.0%,#fff800 72.7%,#fffe00 74.4%,#fff400 76.2%,#f8ff00 77.6%,#c3fe00 80.7%,#b6fc00 82.4%,#8af800 84.2%,#72f500 86.9%,#3ff000 88.7%,#2ff100 90.4%,#04f500 92.7%,#00fa1f 94.0%,#00fe36 94.4%,#00ff71 94.9%,#00fffe 95.8%,#00c6ff 97.1%,#009bff 99.8%)"></i>
<i style="left:245px;background:linear-gradient(#f00 0.2%,#ff0600 27.3%,#ff1a00 38.9%,#f50 45.6%,#f70 54.4%,#ff8a00 64.7%,#ffd000 70.0%,#ffe600 72.7%,#fff100 74.4%,#ffea00 76.2%,#faff00 78.0%,#d3ff00 80.7%,#c0fe00 82.9%,#a6fb00 84.2%,#9bfa00 86.4%,#60f400 88.7%,#54f200 90.0%,#34f100 90.9%,#1ff200 92.2%,#00f503 94.0%,#00f918 94.4%,#00fe38 94.9%,#00ffc2 95.8%,#00fffd 96.2%,#00e1ff 97.1%,#0bf 99.8%)"></i>
<i style="left:246px;background:linear-gradient(#f00 0.2%,#ff0600 32.2%,#ff1a00 40.2%,#ff4f00 46.0%,#ff7500 57.1%,#ff8200 64.7%,#ffbf00 69.6%,#ffd000 72.2%,#ffe400 74.4%,#ffe400 76.7%,#fcff00 78.4%,#deff00 81.1%,#cbff00 83.3%,#b4fc00 84.7%,#a7fb00 86.9%,#7cf600 89.1%,#76f600 90.0%,#48f100 90.9%,#3af000 91.3%,#30f100 92.2%,#05f500 94.4%,#00f815 94.9%,#00ff3b 95.3%,#00ff81 95.8%,#00ffbd 96.2%,#00ffe6 96.7%,#00fdff 97.1%,#00daff 99.8%)"></i>
<i style="left:247px;background:linear-gradient(#f00 0.2%,#ff0500 35.8%,#ff1d00 41.6%,#ff4c00 46.9%,#ff7300 60.7%,#ff7a00 64.7%,#ffb200 69.6%,#ffc300 72.2%,#ffd800 74.9%,#ffdf00 77.1%,#fbff00 79.3%,#e4ff00 82.0%,#d4ff00 83.3%,#c2fe00 85.6%,#b2fc00 87.3%,#99f900 90.0%,#4df200 91.3%,#47f100 92.2%,#26f200 93.6%,#07f400 94.9%,#00f918 95.3%,#00ff47 95.8%,#00ff8d 96.2%,#00ffbf 96.7%,#00ffdb 97.1%,#00feff 99.3%,#00f9ff 99.8%)"></i>
<i style="left:248px;background:linear-gradient(#f00 0.2%,#ff0500 38.4%,#ff2100 42.9%,#ff4b00 48.2%,#ff6d00 62.4%,#ff7500 65.1%,#ffa500 69.6%,#ffb100 71.8%,#fc0 74.4%,#ffd500 77.1%,#feff00 80.2%,#f1ff00 82.0%,#dbff00 83.3%,#caff00 86.9%,#a4fa00 90.0%,#a0fa00 90.4%,#63f400 91.3%,#59f300 91.8%,#5ef300 92.2%,#37f000 93.6%,#16f300 94.9%,#04f500 95.3%,#00fb22 95.8%,#00ff93 96.7%,#00ffb6 97.1%,#00ffe2 99.8%)"></i>
<i style="left:249px;background:linear-gradient(#f00 0.2%,#ff0400 39.8%,#ff2a00 44.7%,#ff4c00 50.4%,#ff6d00 65.1%,#f90 70.0%,#ffa400 71.8%,#ffc400 74.4%,#ffd000 77.6%,#fffb00 81.1%,#fdff00 82.0%,#e2ff00 83.3%,#e3ff00 84.7%,#d0ff00 87.8%,#a9fb00 89.6%,#a7fb00 90.4%,#98f900 90.9%,#79f600 91.3%,#6af500 91.8%,#75f600 92.7%,#00f502 95.8%,#00ff89 97.1%,#00ffbe 99.8%)"></i>
<i style="left:250px;background:linear-gradient(#f00 0.2%,#ff0300 40.7%,#ff4200 49.6%,#ff5e00 63.3%,#ff7000 66.4%,#ff8f00 70.0%,#ff9700 71.8%,#ffbc00 74.4%,#ffc900 77.6%,#fff500 81.1%,#fcff00 82.4%,#e9ff00 83.3%,#edff00 85.1%,#e2ff00 87.3%,#b3fc00 89.1%,#a9fb00 90.9%,#7bf600 91.8%,#78f600 92.2%,#84f700 93.1%,#68f400 94.0%,#21f200 95.3%,#0cf400 95.8%,#00f810 96.2%,#00ff59 97.1%,#00ff94 99.8%)"></i>
<i style="left:251px;background:linear-gradient(#f00 0.2%,#ff0500 42.0%,#ff3d00 50.0%,#ff5700 62.9%,#ff6700 66.0%,#ff8700 70.0%,#ff9500 72.2%,#ffb500 74.4%,#ffc700 78.0%,#fe0 81.1%,#f9ff00 82.9%,#ef0 83.8%,#f9ff00 85.6%,#f0ff00 86.9%,#b8fd00 89.1%,#aefc00 90.9%,#a2fa00 91.3%,#8cf800 91.8%,#85f700 92.2%,#96f900 93.6%,#88f800 94.0%,#2ff100 95.3%,#06f500 96.2%,#00fd32 97.1%,#00ff65 99.8%)"></i>
<i style="left:252px;background:linear-gradient(#f00 0.2%,#ff0400 42.9%,#ff3700 50.4%,#ff5100 62.9%,#ff5e00 65.6%,#ff7f00 70.0%,#ff8e00 72.2%,#ffb000 74.9%,#ffc200 78.0%,#ffe800 81.1%,#fff100 82.4%,#f3ff00 83.8%,#ff0 86.0%,#dbff00 87.8%,#b7fd00 89.6%,#affc00 91.3%,#93f900 92.2%,#a2fa00 93.6%,#a0fa00 94.0%,#8df800 94.4%,#3ef000 95.3%,#01f500 96.7%,#00f917 97.1%,#00fe39 99.8%)"></i>
<i style="left:253px;background:linear-gradient(#f00 0.2%,#ff0400 43.8%,#ff3200 50.9%,#ff4b00 63.3%,#f70 70.0%,#ff8100 71.8%,#ffab00 75.3%,#ffbc00 78.0%,#ffe200 81.1%,#fff200 82.9%,#ff0 83.3%,#faff00 84.7%,#fcff00 86.4%,#bcfd00 89.6%,#b3fc00 91.3%,#a0fa00 92.2%,#a4fa00 94.0%,#95f900 94.4%,#30f100 95.8%,#0cf400 96.7%,#00f605 97.6%,#00fa1f 99.8%)"></i>
<i style="left:254px;background:linear-gradient(#f00 0.2%,#ff0500 44.7%,#ff2e00 51.8%,#ff4500 63.3%,#ff5800 66.0%,#ff6e00 70.0%,#ff7900 71.8%,#ffa500 75.3%,#ffb600 78.0%,#ffdb00 81.1%,#ffec00 82.9%,#feff00 83.8%,#fffa00 86.0%,#f6ff00 86.9%,#c0fe00 89.6%,#b3fc00 91.8%,#a6fb00 92.7%,#a9fb00 94.0%,#9dfa00 94.4%,#37f000 95.8%,#14f300 96.7%,#07f400 97.6%,#00f605 99.8%)"></i>
<i style="left:255px;background:linear-gradient(#f00 0.2%,#ff0500 45.6%,#ff2a00 52.7%,#ff4800 65.1%,#ff6400 68.7%,#ff6b00 71.3%,#ff9b00 74.9%,#ffb000 78.0%,#ffd500 81.1%,#ffe500 82.9%,#fffe00 84.2%,#fff700 86.0%,#f8ff00 86.9%,#c9ff00 89.1%,#b9fd00 91.8%,#acfb00 92.7%,#adfb00 94.0%,#a3fa00 94.4%,#65f400 95.3%,#3ff000 95.8%,#1cf300 96.7%,#0ff400 98.0%,#07f400 99.8%)"></i>
<i style="left:256px;background:linear-gradient(#f00 0.2%,#ff0500 46.4%,#ff2c00 55.3%,#ff4100 65.1%,#ff5d00 68.7%,#ff6300 71.3%,#ff9200 74.4%,#ffa400 77.6%,#ffcf00 81.1%,#ffdf00 82.9%,#fff800 84.2%,#fff400 86.0%,#f0ff00 87.3%,#ceff00 89.1%,#b2fc00 93.1%,#b2fc00 94.0%,#a8fb00 94.4%,#92f900 94.9%,#4cf200 95.8%,#33f100 96.2%,#1bf300 97.1%,#11f400 99.8%)"></i>
</div>
<div id="cb"></div>
<svg width="725" height="304" viewBox="0 0 725 304" style="position:absolute;left:0;top:0">
<g font-family='"Liberation Sans", sans-serif' font-size="17" fill="#111">
<path d="M49.5 25.5H309.5V253.5H49.5ZM49.5 254.0v2M49.5 26.0v2M60.5 254.0v2M60.5 26.0v2M71.5 254.0v2M71.5 26.0v2M82.5 254.0v4M82.5 26.0v4M92.5 254.0v2M92.5 26.0v2M103.5 254.0v2M103.5 26.0v2M114.5 254.0v2M114.5 26.0v2M125.5 254.0v2M125.5 26.0v2M136.5 254.0v2M136.5 26.0v2M146.5 254.0v4M146.5 26.0v4M157.5 254.0v2M157.5 26.0v2M168.5 254.0v2M168.5 26.0v2M179.5 254.0v2M179.5 26.0v2M190.5 254.0v2M190.5 26.0v2M201.5 254.0v2M201.5 26.0v2M212.5 254.0v4M212.5 26.0v4M222.5 254.0v2M222.5 26.0v2M233.5 254.0v2M233.5 26.0v2M244.5 254.0v2M244.5 26.0v2M255.5 254.0v2M255.5 26.0v2M266.5 254.0v2M266.5 26.0v2M276.5 254.0v4M276.5 26.0v4M287.5 254.0v2M287.5 26.0v2M298.5 254.0v2M298.5 26.0v2M309.5 254.0v2M309.5 26.0v2M49.0 244.5h-2M309.0 244.5h-2M49.0 230.5h-4M309.0 230.5h-4M49.0 215.5h-2M309.0 215.5h-2M49.0 200.5h-4M309.0 200.5h-4M49.0 186.5h-2M309.0 186.5h-2M49.0 171.5h-4M309.0 171.5h-4M49.0 157.5h-2M309.0 157.5h-2M49.0 142.5h-4M309.0 142.5h-4M49.0 127.5h-2M309.0 127.5h-2M49.0 113.5h-4M309.0 113.5h-4M49.0 98.5h-2M309.0 98.5h-2M49.0 83.5h-4M309.0 83.5h-4M49.0 69.5h-2M309.0 69.5h-2M49.0 54.5h-4M309.0 54.5h-4M49.0 40.5h-2M309.0 40.5h-2M49.0 25.5h-4M309.0 25.5h-4" stroke="#111" stroke-width="1" fill="none"/>
<path d="M383.5 27.5H639.5V251.5H383.5ZM383.5 252.0v2M383.5 28.0v2M394.5 252.0v2M394.5 28.0v2M404.5 252.0v2M404.5 28.0v2M415.5 252.0v4M415.5 28.0v4M426.5 252.0v2M426.5 28.0v2M436.5 252.0v2M436.5 28.0v2M447.5 252.0v2M447.5 28.0v2M458.5 252.0v2M458.5 28.0v2M468.5 252.0v2M468.5 28.0v2M479.5 252.0v4M479.5 28.0v4M490.5 252.0v2M490.5 28.0v2M500.5 252.0v2M500.5 28.0v2M511.5 252.0v2M511.5 28.0v2M522.5 252.0v2M522.5 28.0v2M532.5 252.0v2M532.5 28.0v2M543.5 252.0v4M543.5 28.0v4M554.5 252.0v2M554.5 28.0v2M564.5 252.0v2M564.5 28.0v2M575.5 252.0v2M575.5 28.0v2M586.5 252.0v2M586.5 28.0v2M596.5 252.0v2M596.5 28.0v2M607.5 252.0v4M607.5 28.0v4M618.5 252.0v2M618.5 28.0v2M628.5 252.0v2M628.5 28.0v2M639.5 252.0v2M639.5 28.0v2M383.0 242.5h-2M639.0 242.5h-2M383.0 228.5h-4M639.0 228.5h-4M383.0 214.5h-2M639.0 214.5h-2M383.0 199.5h-4M639.0 199.5h-4M383.0 185.5h-2M639.0 185.5h-2M383.0 171.5h-4M639.0 171.5h-4M383.0 156.5h-2M639.0 156.5h-2M383.0 142.5h-4M639.0 142.5h-4M383.0 128.5h-2M639.0 128.5h-2M383.0 113.5h-4M639.0 113.5h-4M383.0 99.5h-2M639.0 99.5h-2M383.0 84.5h-4M639.0 84.5h-4M383.0 70.5h-2M639.0 70.5h-2M383.0 56.5h-4M639.0 56.5h-4M383.0 41.5h-2M639.0 41.5h-2M383.0 27.5h-4M639.0 27.5h-4" stroke="#111" stroke-width="1" fill="none"/>
<path d="M223.9 27.3V251" stroke="#151515" stroke-width="1.5" stroke-dasharray="6.6 4.67" fill="none"/>
<path d="M574.8 28.1V251" stroke="#151515" stroke-width="1.5" stroke-dasharray="6.4 4.17" fill="none"/>
<path d="M224 11.5V20" stroke="#111" stroke-width="1.2"/><path d="M222.1 19.3L225.9 19.3L224 25.6Z" fill="#111"/>
<path d="M574.8 13.7V22" stroke="#111" stroke-width="1.2"/><path d="M572.9 21.3L576.7 21.3L574.8 27.6Z" fill="#111"/>
<text x="42.0" y="235.6" text-anchor="end">1</text><text x="42.0" y="206.4" text-anchor="end">2</text><text x="42.0" y="177.2" text-anchor="end">3</text><text x="42.0" y="147.9" text-anchor="end">4</text><text x="42.0" y="118.7" text-anchor="end">5</text><text x="42.0" y="89.5" text-anchor="end">6</text><text x="42.0" y="60.2" text-anchor="end">7</text><text x="42.0" y="31.0" text-anchor="end">8</text>
<text x="376.0" y="234.0" text-anchor="end">1</text><text x="376.0" y="205.3" text-anchor="end">2</text><text x="376.0" y="176.6" text-anchor="end">3</text><text x="376.0" y="147.9" text-anchor="end">4</text><text x="376.0" y="119.2" text-anchor="end">5</text><text x="376.0" y="90.4" text-anchor="end">6</text><text x="376.0" y="61.7" text-anchor="end">7</text><text x="376.0" y="33.0" text-anchor="end">8</text>
<text x="82.0" y="275.0" text-anchor="middle">-120</text><text x="147.0" y="275.0" text-anchor="middle">-60</text><text x="212.0" y="275.0" text-anchor="middle">0</text><text x="277.0" y="275.0" text-anchor="middle">60</text>
<text x="415.5" y="273.0" text-anchor="middle">-120</text><text x="479.5" y="273.0" text-anchor="middle">-60</text><text x="543.5" y="273.0" text-anchor="middle">0</text><text x="607.5" y="273.0" text-anchor="middle">60</text>
<text x="-0.8" y="32.3" font-size="19" letter-spacing="-0.6">(a)</text>
<text x="329.3" y="35.6" font-size="19" letter-spacing="-0.6">(b)</text>
<text x="193.0" y="18">11°</text>
<text x="543.8" y="19.3">29°</text>
<g fill="#fff"><text x="115.8" y="50">0 mol.% Hf</text><text x="115.6" y="70.7"><tspan font-style="italic">T</tspan> = 30 K</text>
<text x="441.5" y="47.8">2.1 mol.% Hf</text><text x="440.8" y="69.1"><tspan font-style="italic">T</tspan> = 30 K</text></g>
<text x="161.8" y="298" font-size="20"><tspan font-family='"Liberation Serif", serif' font-style="italic" font-size="22.5">θ</tspan><tspan dx="1"> </tspan>(°)</text>
<text x="503.8" y="296" font-size="20"><tspan font-family='"Liberation Serif", serif' font-style="italic" font-size="22.5">θ</tspan><tspan dx="1"> </tspan>(°)</text>
<text transform="translate(21.2 139.0) rotate(-90)" text-anchor="middle" font-size="17.5">μ<tspan font-size="11.5" dy="3">0</tspan><tspan dy="-3" font-style="italic">H</tspan> (T)</text>
<text transform="translate(358.8 140.2) rotate(-90)" text-anchor="middle" font-size="17.5">μ<tspan font-size="11.5" dy="3">0</tspan><tspan dy="-3" font-style="italic">H</tspan> (T)</text>
<path d="M657.5 32.5V246.5" stroke="#666" stroke-width="1" fill="none"/>
<path d="M657.5 32.5H678.5V246.5H657.5" stroke="#222" stroke-width="1" fill="none"/>
<path d="M678.5 32.7h4.5M678.5 63.2h4.5M678.5 93.7h4.5M678.5 124.2h4.5M678.5 154.7h4.5M678.5 185.1h4.5M678.5 215.6h4.5M678.5 246.1h4.5" stroke="#222" stroke-width="1" fill="none"/>
<text x="689.6" y="38.6">1.0</text>
<text x="689.6" y="69.1">0.9</text>
<text x="689.6" y="99.6">0.8</text>
<text x="689.6" y="130.1">0.7</text>
<text x="689.6" y="160.6">0.6</text>
<text x="689.6" y="191.0">0.5</text>
<text x="689.6" y="221.5">0.4</text>
<text x="689.6" y="252.0">0.3</text>
<text x="641.3" y="14" font-size="17"><tspan font-style="italic">J</tspan><tspan font-size="11.5" dy="4">c</tspan><tspan dy="-4">/</tspan><tspan font-style="italic">J</tspan><tspan font-size="11.5" dy="4">c</tspan><tspan dy="-4">(</tspan><tspan font-style="italic">H</tspan><tspan fill="#777">||</tspan><tspan font-style="italic">ab</tspan>)</text>
</g></svg>
</body></html>
